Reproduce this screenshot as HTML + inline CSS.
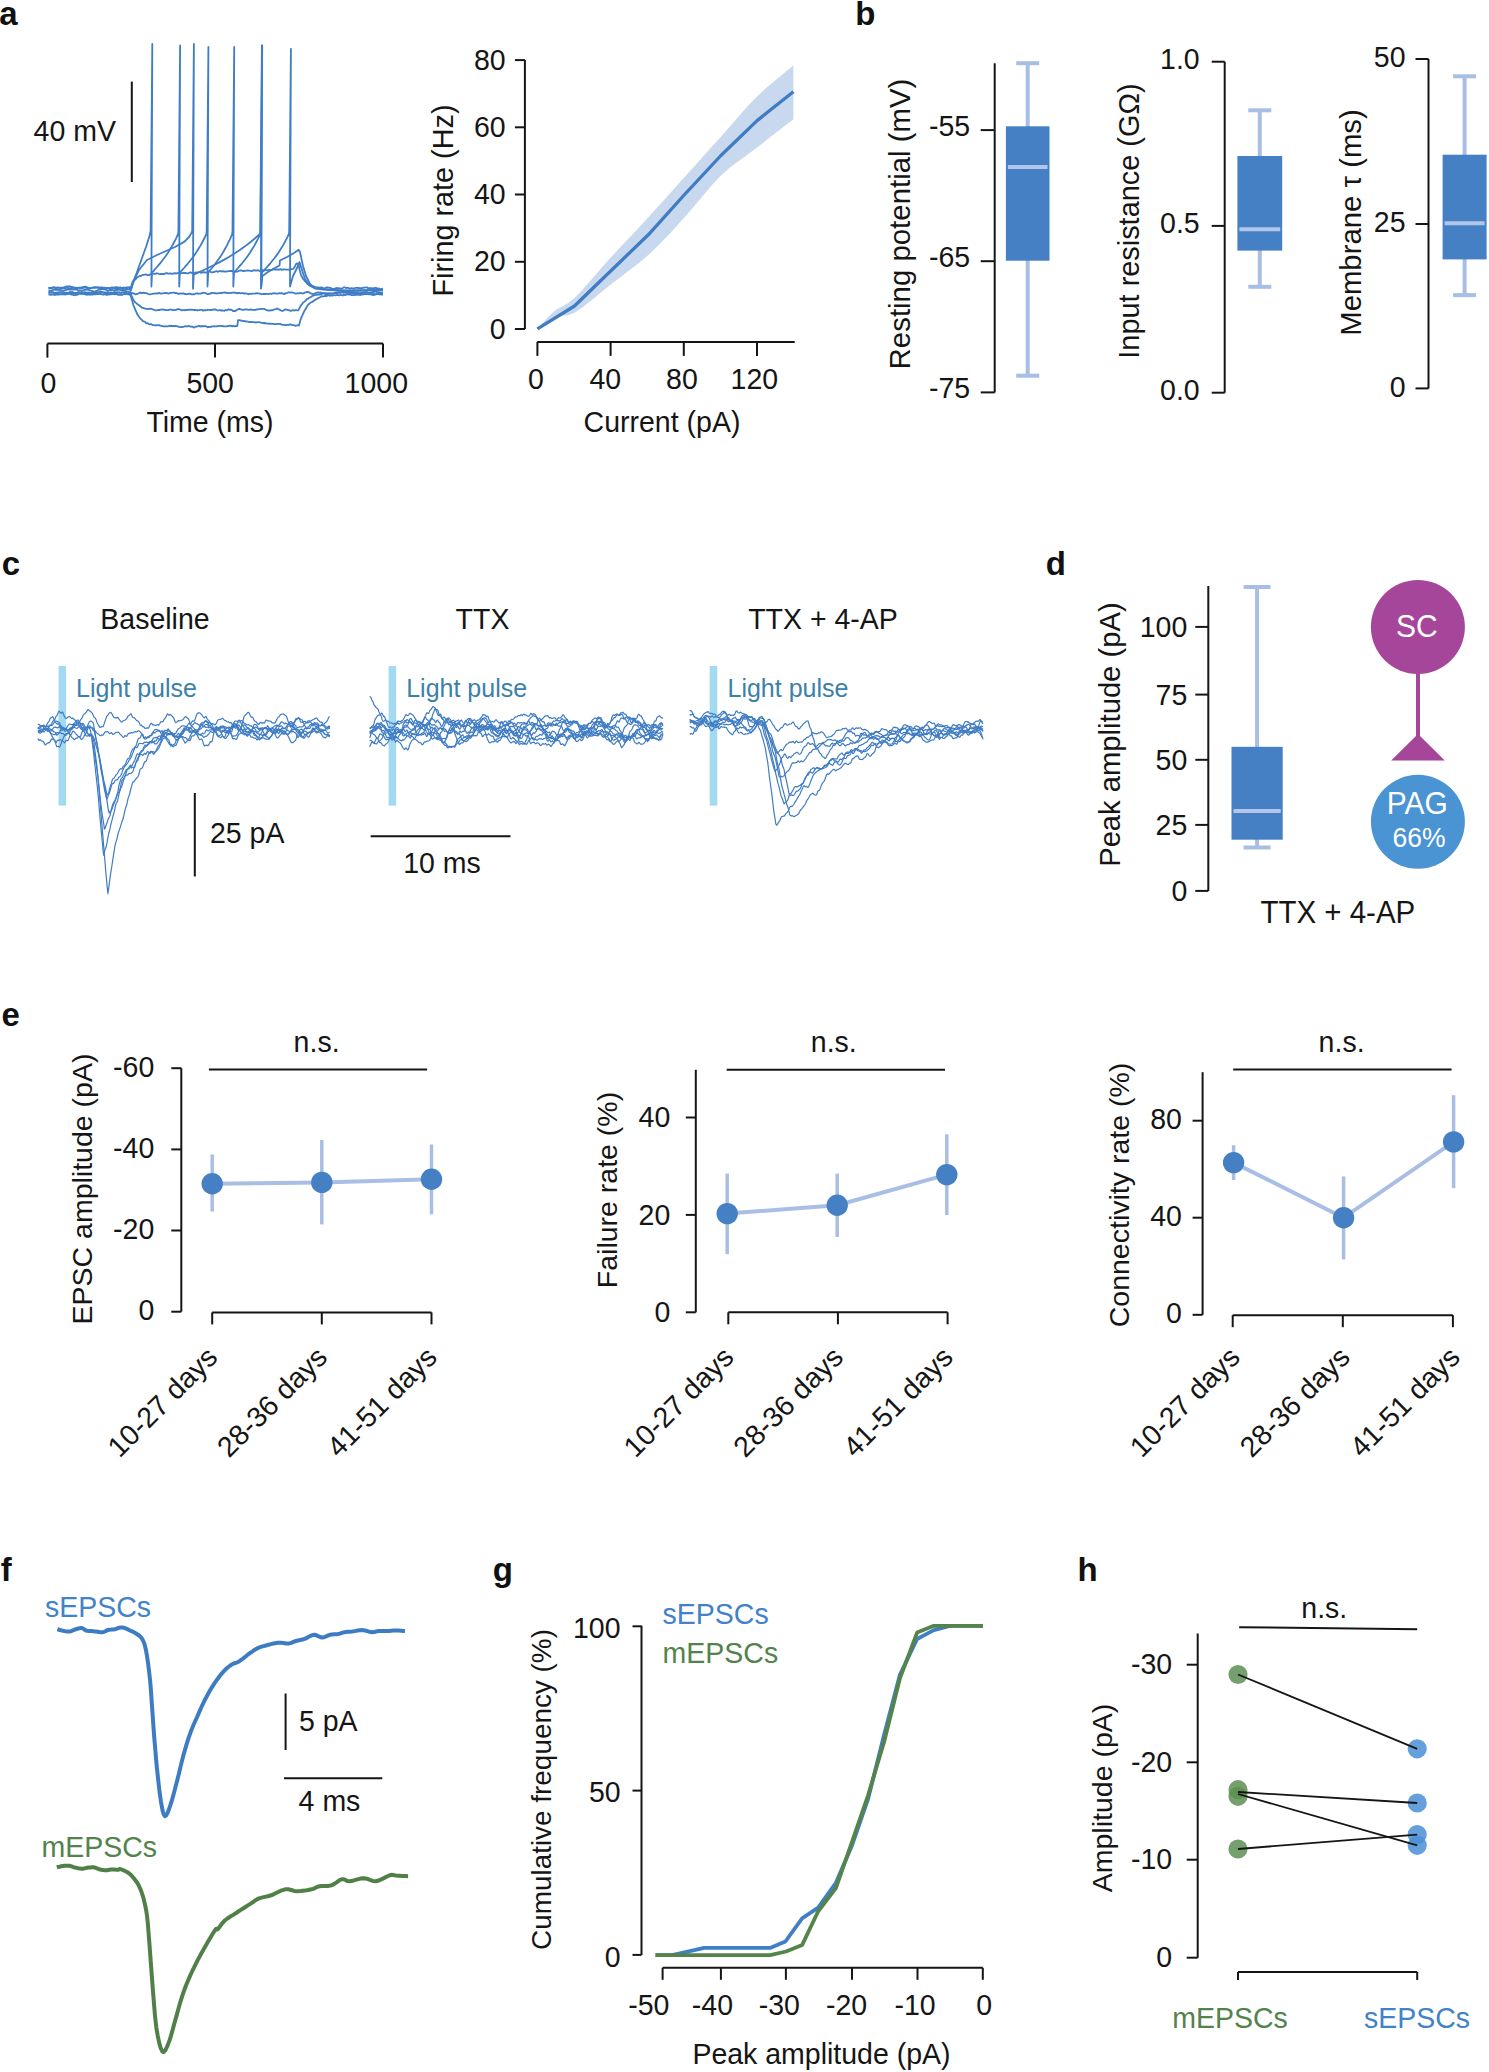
<!DOCTYPE html>
<html><head><meta charset="utf-8"><style>
html,body{margin:0;padding:0;background:#fff;}
svg{display:block;}
text{font-family:"Liberation Sans", sans-serif;}
</style></head><body>
<svg width="1489" height="2072" viewBox="0 0 1489 2072">
<rect width="1489" height="2072" fill="#fff"/>
<text x="-0.7" y="24.6" font-size="33" text-anchor="start" fill="#111" font-weight="bold" >a</text>
<text x="855.2" y="24.7" font-size="33" text-anchor="start" fill="#111" font-weight="bold" >b</text>
<text x="1.8" y="575.4" font-size="33" text-anchor="start" fill="#111" font-weight="bold" >c</text>
<text x="1045.8" y="575.4" font-size="33" text-anchor="start" fill="#111" font-weight="bold" >d</text>
<text x="1.4" y="1026.3" font-size="33" text-anchor="start" fill="#111" font-weight="bold" >e</text>
<text x="0.7" y="1581.4" font-size="33" text-anchor="start" fill="#111" font-weight="bold" >f</text>
<text x="492.8" y="1581.3" font-size="33" text-anchor="start" fill="#111" font-weight="bold" >g</text>
<text x="1077.5" y="1581.4" font-size="33" text-anchor="start" fill="#111" font-weight="bold" >h</text>
<path d="M47.4,343.6 L383,343.6" stroke="#151515" stroke-width="2" fill="none" stroke-linejoin="round" />
<line x1="47.4" y1="343.6" x2="47.4" y2="357.6" stroke="#151515" stroke-width="2" stroke-linecap="butt" />
<line x1="215" y1="343.6" x2="215" y2="357.6" stroke="#151515" stroke-width="2" stroke-linecap="butt" />
<line x1="383" y1="343.6" x2="383" y2="357.6" stroke="#151515" stroke-width="2" stroke-linecap="butt" />
<text x="40.5" y="392.5" font-size="28.5" text-anchor="start" fill="#151515" font-weight="normal" transform="translate(0 -19.6) scale(1 1.05)" >0</text>
<text x="186.4" y="392.5" font-size="28.5" text-anchor="start" fill="#151515" font-weight="normal" transform="translate(0 -19.6) scale(1 1.05)" >500</text>
<text x="344.6" y="392.5" font-size="28.5" text-anchor="start" fill="#151515" font-weight="normal" transform="translate(0 -19.6) scale(1 1.05)" >1000</text>
<text x="210" y="432" font-size="28.5" text-anchor="middle" fill="#151515" font-weight="normal" transform="translate(0 -21.6) scale(1 1.05)" >Time (ms)</text>
<line x1="131.8" y1="81.6" x2="131.8" y2="182" stroke="#151515" stroke-width="2" stroke-linecap="butt" />
<text x="116" y="141" font-size="28.5" text-anchor="end" fill="#151515" font-weight="normal" transform="translate(0 -7.1) scale(1 1.05)" >40 mV</text>
<path d="M524.9,60.1 L524.9,329" stroke="#151515" stroke-width="2" fill="none" stroke-linejoin="round" />
<line x1="514.9" y1="60.1" x2="524.9" y2="60.1" stroke="#151515" stroke-width="2" stroke-linecap="butt" />
<text x="505.6" y="69.7" font-size="28.5" text-anchor="end" fill="#151515" font-weight="normal" transform="translate(0 -3.5) scale(1 1.05)" >80</text>
<line x1="514.9" y1="127.3" x2="524.9" y2="127.3" stroke="#151515" stroke-width="2" stroke-linecap="butt" />
<text x="505.6" y="136.9" font-size="28.5" text-anchor="end" fill="#151515" font-weight="normal" transform="translate(0 -6.8) scale(1 1.05)" >60</text>
<line x1="514.9" y1="194.5" x2="524.9" y2="194.5" stroke="#151515" stroke-width="2" stroke-linecap="butt" />
<text x="505.6" y="204.1" font-size="28.5" text-anchor="end" fill="#151515" font-weight="normal" transform="translate(0 -10.2) scale(1 1.05)" >40</text>
<line x1="514.9" y1="261.8" x2="524.9" y2="261.8" stroke="#151515" stroke-width="2" stroke-linecap="butt" />
<text x="505.6" y="271.4" font-size="28.5" text-anchor="end" fill="#151515" font-weight="normal" transform="translate(0 -13.6) scale(1 1.05)" >20</text>
<line x1="514.9" y1="329" x2="524.9" y2="329" stroke="#151515" stroke-width="2" stroke-linecap="butt" />
<text x="505.6" y="338.6" font-size="28.5" text-anchor="end" fill="#151515" font-weight="normal" transform="translate(0 -16.9) scale(1 1.05)" >0</text>
<path d="M537.2,341.9 L794.7,341.9" stroke="#151515" stroke-width="2" fill="none" stroke-linejoin="round" />
<line x1="537.4" y1="341.9" x2="537.4" y2="355.9" stroke="#151515" stroke-width="2" stroke-linecap="butt" />
<line x1="610.6" y1="341.9" x2="610.6" y2="355.9" stroke="#151515" stroke-width="2" stroke-linecap="butt" />
<line x1="683.8" y1="341.9" x2="683.8" y2="355.9" stroke="#151515" stroke-width="2" stroke-linecap="butt" />
<line x1="757" y1="341.9" x2="757" y2="355.9" stroke="#151515" stroke-width="2" stroke-linecap="butt" />
<text x="527.9" y="389.5" font-size="28.5" text-anchor="start" fill="#151515" font-weight="normal" transform="translate(0 -19.5) scale(1 1.05)" >0</text>
<text x="589.4" y="389.5" font-size="28.5" text-anchor="start" fill="#151515" font-weight="normal" transform="translate(0 -19.5) scale(1 1.05)" >40</text>
<text x="666.1" y="389.5" font-size="28.5" text-anchor="start" fill="#151515" font-weight="normal" transform="translate(0 -19.5) scale(1 1.05)" >80</text>
<text x="730.6" y="389.5" font-size="28.5" text-anchor="start" fill="#151515" font-weight="normal" transform="translate(0 -19.5) scale(1 1.05)" >120</text>
<text x="662" y="432.3" font-size="28.5" text-anchor="middle" fill="#151515" font-weight="normal" transform="translate(0 -21.6) scale(1 1.05)" >Current (pA)</text>
<text x="452.5" y="200.5" font-size="28.8" text-anchor="middle" fill="#151515" font-weight="normal" transform="rotate(-90 452.5 200.5)" >Firing rate (Hz)</text>
<path d="M994.7,63.2 L994.7,392.4" stroke="#151515" stroke-width="2" fill="none" stroke-linejoin="round" />
<line x1="980.7" y1="130.1" x2="994.7" y2="130.1" stroke="#151515" stroke-width="2" stroke-linecap="butt" />
<text x="970.2" y="135.9" font-size="28.5" text-anchor="end" fill="#151515" font-weight="normal" transform="translate(0 -6.8) scale(1 1.05)" >-55</text>
<line x1="980.7" y1="261.2" x2="994.7" y2="261.2" stroke="#151515" stroke-width="2" stroke-linecap="butt" />
<text x="970.2" y="267" font-size="28.5" text-anchor="end" fill="#151515" font-weight="normal" transform="translate(0 -13.4) scale(1 1.05)" >-65</text>
<line x1="980.7" y1="392.4" x2="994.7" y2="392.4" stroke="#151515" stroke-width="2" stroke-linecap="butt" />
<text x="970.2" y="398.2" font-size="28.5" text-anchor="end" fill="#151515" font-weight="normal" transform="translate(0 -19.9) scale(1 1.05)" >-75</text>
<line x1="1027.7" y1="63.2" x2="1027.7" y2="375.7" stroke="#a9bee4" stroke-width="4" stroke-linecap="butt" />
<line x1="1016.2" y1="63.2" x2="1039.2" y2="63.2" stroke="#a9bee4" stroke-width="4" stroke-linecap="butt" />
<line x1="1016.2" y1="375.7" x2="1039.2" y2="375.7" stroke="#a9bee4" stroke-width="4" stroke-linecap="butt" />
<rect x="1005.9" y="126.3" width="43.6" height="134.4" fill="#4580c4"/>
<line x1="1007.9" y1="167.1" x2="1047.5" y2="167.1" stroke="#b3c6ea" stroke-width="4" stroke-linecap="butt" />
<text x="910" y="224" font-size="29.4" text-anchor="middle" fill="#151515" font-weight="normal" transform="rotate(-90 910 224)" >Resting potential (mV)</text>
<path d="M1224.7,61.7 L1224.7,392.7" stroke="#151515" stroke-width="2" fill="none" stroke-linejoin="round" />
<line x1="1211.7" y1="61.7" x2="1224.7" y2="61.7" stroke="#151515" stroke-width="2" stroke-linecap="butt" />
<text x="1199.7" y="69" font-size="28.5" text-anchor="end" fill="#151515" font-weight="normal" transform="translate(0 -3.5) scale(1 1.05)" >1.0</text>
<line x1="1211.7" y1="225.9" x2="1224.7" y2="225.9" stroke="#151515" stroke-width="2" stroke-linecap="butt" />
<text x="1199.7" y="233.2" font-size="28.5" text-anchor="end" fill="#151515" font-weight="normal" transform="translate(0 -11.7) scale(1 1.05)" >0.5</text>
<line x1="1211.7" y1="392.7" x2="1224.7" y2="392.7" stroke="#151515" stroke-width="2" stroke-linecap="butt" />
<text x="1199.7" y="400" font-size="28.5" text-anchor="end" fill="#151515" font-weight="normal" transform="translate(0 -20) scale(1 1.05)" >0.0</text>
<line x1="1259.8" y1="110.3" x2="1259.8" y2="286.8" stroke="#a9bee4" stroke-width="4" stroke-linecap="butt" />
<line x1="1248.3" y1="110.3" x2="1271.3" y2="110.3" stroke="#a9bee4" stroke-width="4" stroke-linecap="butt" />
<line x1="1248.3" y1="286.8" x2="1271.3" y2="286.8" stroke="#a9bee4" stroke-width="4" stroke-linecap="butt" />
<rect x="1237.4" y="156" width="44.8" height="94.6" fill="#4580c4"/>
<line x1="1239.4" y1="229.3" x2="1280.2" y2="229.3" stroke="#b3c6ea" stroke-width="4" stroke-linecap="butt" />
<text x="1139" y="221" font-size="28.9" text-anchor="middle" fill="#151515" font-weight="normal" transform="rotate(-90 1139 221)" >Input resistance (G&#937;)</text>
<path d="M1428.5,59 L1428.5,388.4" stroke="#151515" stroke-width="2" fill="none" stroke-linejoin="round" />
<line x1="1415.5" y1="59" x2="1428.5" y2="59" stroke="#151515" stroke-width="2" stroke-linecap="butt" />
<text x="1405.5" y="67.3" font-size="28.5" text-anchor="end" fill="#151515" font-weight="normal" transform="translate(0 -3.4) scale(1 1.05)" >50</text>
<line x1="1415.5" y1="224" x2="1428.5" y2="224" stroke="#151515" stroke-width="2" stroke-linecap="butt" />
<text x="1405.5" y="232.3" font-size="28.5" text-anchor="end" fill="#151515" font-weight="normal" transform="translate(0 -11.6) scale(1 1.05)" >25</text>
<line x1="1415.5" y1="388.4" x2="1428.5" y2="388.4" stroke="#151515" stroke-width="2" stroke-linecap="butt" />
<text x="1405.5" y="396.7" font-size="28.5" text-anchor="end" fill="#151515" font-weight="normal" transform="translate(0 -19.8) scale(1 1.05)" >0</text>
<line x1="1464.6" y1="76.3" x2="1464.6" y2="295.1" stroke="#a9bee4" stroke-width="4" stroke-linecap="butt" />
<line x1="1453.1" y1="76.3" x2="1476.1" y2="76.3" stroke="#a9bee4" stroke-width="4" stroke-linecap="butt" />
<line x1="1453.1" y1="295.1" x2="1476.1" y2="295.1" stroke="#a9bee4" stroke-width="4" stroke-linecap="butt" />
<rect x="1442.6" y="154.7" width="44" height="104.7" fill="#4580c4"/>
<line x1="1444.6" y1="223.2" x2="1484.6" y2="223.2" stroke="#b3c6ea" stroke-width="4" stroke-linecap="butt" />
<text x="1361" y="222.5" font-size="29.3" text-anchor="middle" fill="#151515" font-weight="normal" transform="rotate(-90 1361 222.5)" >Membrane &#964; (ms)</text>
<text x="155" y="629" font-size="28.5" text-anchor="middle" fill="#151515" font-weight="normal" transform="translate(0 -31.5) scale(1 1.05)" >Baseline</text>
<text x="482.5" y="629" font-size="28.5" text-anchor="middle" fill="#151515" font-weight="normal" transform="translate(0 -31.5) scale(1 1.05)" >TTX</text>
<text x="823" y="629" font-size="28.5" text-anchor="middle" fill="#151515" font-weight="normal" transform="translate(0 -31.5) scale(1 1.05)" >TTX + 4-AP</text>
<rect x="58.5" y="666" width="7.6" height="139.6" fill="#a4d9f2"/>
<text x="76" y="697" font-size="25" text-anchor="start" fill="#3b80a8" font-weight="normal" transform="translate(0 -34.9) scale(1 1.05)" >Light pulse</text>
<rect x="388.6" y="666" width="7.6" height="139.6" fill="#a4d9f2"/>
<text x="406.2" y="697" font-size="25" text-anchor="start" fill="#3b80a8" font-weight="normal" transform="translate(0 -34.9) scale(1 1.05)" >Light pulse</text>
<rect x="709.7" y="666" width="7.6" height="139.6" fill="#a4d9f2"/>
<text x="727.5" y="697" font-size="25" text-anchor="start" fill="#3b80a8" font-weight="normal" transform="translate(0 -34.9) scale(1 1.05)" >Light pulse</text>
<line x1="194.8" y1="793" x2="194.8" y2="876.5" stroke="#151515" stroke-width="2" stroke-linecap="butt" />
<text x="210" y="842.5" font-size="28.5" text-anchor="start" fill="#151515" font-weight="normal" transform="translate(0 -42.1) scale(1 1.05)" >25 pA</text>
<line x1="370.7" y1="836.3" x2="510.5" y2="836.3" stroke="#151515" stroke-width="2" stroke-linecap="butt" />
<text x="442" y="873.4" font-size="28.5" text-anchor="middle" fill="#151515" font-weight="normal" transform="translate(0 -43.7) scale(1 1.05)" >10 ms</text>
<path d="M1208.3,586.1 L1208.3,890.9" stroke="#151515" stroke-width="2" fill="none" stroke-linejoin="round" />
<line x1="1195.3" y1="626.9" x2="1208.3" y2="626.9" stroke="#151515" stroke-width="2" stroke-linecap="butt" />
<text x="1187.3" y="636.8" font-size="28.5" text-anchor="end" fill="#151515" font-weight="normal" transform="translate(0 -31.8) scale(1 1.05)" >100</text>
<line x1="1195.3" y1="694.6" x2="1208.3" y2="694.6" stroke="#151515" stroke-width="2" stroke-linecap="butt" />
<text x="1187.3" y="704.5" font-size="28.5" text-anchor="end" fill="#151515" font-weight="normal" transform="translate(0 -35.2) scale(1 1.05)" >75</text>
<line x1="1195.3" y1="759.8" x2="1208.3" y2="759.8" stroke="#151515" stroke-width="2" stroke-linecap="butt" />
<text x="1187.3" y="769.7" font-size="28.5" text-anchor="end" fill="#151515" font-weight="normal" transform="translate(0 -38.5) scale(1 1.05)" >50</text>
<line x1="1195.3" y1="824.9" x2="1208.3" y2="824.9" stroke="#151515" stroke-width="2" stroke-linecap="butt" />
<text x="1187.3" y="834.8" font-size="28.5" text-anchor="end" fill="#151515" font-weight="normal" transform="translate(0 -41.7) scale(1 1.05)" >25</text>
<line x1="1195.3" y1="890.9" x2="1208.3" y2="890.9" stroke="#151515" stroke-width="2" stroke-linecap="butt" />
<text x="1187.3" y="900.8" font-size="28.5" text-anchor="end" fill="#151515" font-weight="normal" transform="translate(0 -45) scale(1 1.05)" >0</text>
<line x1="1257.1" y1="587" x2="1257.1" y2="847.5" stroke="#a9bee4" stroke-width="4" stroke-linecap="butt" />
<line x1="1243.6" y1="587" x2="1270.6" y2="587" stroke="#a9bee4" stroke-width="4" stroke-linecap="butt" />
<line x1="1243.6" y1="847.5" x2="1270.6" y2="847.5" stroke="#a9bee4" stroke-width="4" stroke-linecap="butt" />
<rect x="1231.5" y="746.8" width="51.2" height="92.9" fill="#4580c4"/>
<line x1="1233.5" y1="811" x2="1280.7" y2="811" stroke="#b3c6ea" stroke-width="4" stroke-linecap="butt" />
<text x="1260.4" y="923.3" font-size="29.5" text-anchor="start" fill="#151515" font-weight="normal" transform="translate(0 -46.2) scale(1 1.05)" >TTX + 4-AP</text>
<text x="1120" y="734.6" font-size="29.2" text-anchor="middle" fill="#151515" font-weight="normal" transform="rotate(-90 1120 734.6)" >Peak amplitude (pA)</text>
<line x1="1418" y1="660" x2="1418" y2="740" stroke="#a5469b" stroke-width="4" stroke-linecap="butt" />
<circle cx="1417.9" cy="627" r="47" fill="#a5469b" />
<path d="M1418,734 L1444.8,760.4 L1391.2,760.4 Z" stroke="none" stroke-width="0" fill="#a5469b" stroke-linejoin="round" />
<circle cx="1417.9" cy="821.8" r="47" fill="#4a94d3" />
<text x="1396.1" y="637" font-size="30" text-anchor="start" fill="#fff" font-weight="normal" transform="translate(0 -31.9) scale(1 1.05)" >SC</text>
<text x="1386.8" y="814" font-size="30" text-anchor="start" fill="#fff" font-weight="normal" transform="translate(0 -40.7) scale(1 1.05)" >PAG</text>
<text x="1392.5" y="846.6" font-size="26.5" text-anchor="start" fill="#fff" font-weight="normal" transform="translate(0 -42.3) scale(1 1.05)" >66%</text>
<path d="M181.3,1068.2 L181.3,1311.7" stroke="#151515" stroke-width="2" fill="none" stroke-linejoin="round" />
<line x1="171.3" y1="1068.2" x2="181.3" y2="1068.2" stroke="#151515" stroke-width="2" stroke-linecap="butt" />
<text x="154.3" y="1076.8" font-size="28.5" text-anchor="end" fill="#151515" font-weight="normal" transform="translate(0 -53.8) scale(1 1.05)" >-60</text>
<line x1="171.3" y1="1149.4" x2="181.3" y2="1149.4" stroke="#151515" stroke-width="2" stroke-linecap="butt" />
<text x="154.3" y="1158" font-size="28.5" text-anchor="end" fill="#151515" font-weight="normal" transform="translate(0 -57.9) scale(1 1.05)" >-40</text>
<line x1="171.3" y1="1230.5" x2="181.3" y2="1230.5" stroke="#151515" stroke-width="2" stroke-linecap="butt" />
<text x="154.3" y="1239.1" font-size="28.5" text-anchor="end" fill="#151515" font-weight="normal" transform="translate(0 -62) scale(1 1.05)" >-20</text>
<line x1="171.3" y1="1311.7" x2="181.3" y2="1311.7" stroke="#151515" stroke-width="2" stroke-linecap="butt" />
<text x="154.3" y="1320.3" font-size="28.5" text-anchor="end" fill="#151515" font-weight="normal" transform="translate(0 -66) scale(1 1.05)" >0</text>
<path d="M212.2,1312.4 L431.5,1312.4" stroke="#151515" stroke-width="2" fill="none" stroke-linejoin="round" />
<line x1="212.2" y1="1312.4" x2="212.2" y2="1324.4" stroke="#151515" stroke-width="2" stroke-linecap="butt" />
<line x1="321.8" y1="1312.4" x2="321.8" y2="1324.4" stroke="#151515" stroke-width="2" stroke-linecap="butt" />
<line x1="431.5" y1="1312.4" x2="431.5" y2="1324.4" stroke="#151515" stroke-width="2" stroke-linecap="butt" />
<line x1="208.9" y1="1069.6" x2="427.1" y2="1069.6" stroke="#151515" stroke-width="2" stroke-linecap="butt" />
<text x="316.6" y="1052" font-size="28.5" text-anchor="middle" fill="#151515" font-weight="normal" transform="translate(0 -52.6) scale(1 1.05)" >n.s.</text>
<path d="M212.2,1183.8 L321.8,1182.4 L431.5,1179.2" stroke="#a9bee4" stroke-width="4" fill="none" stroke-linejoin="round" />
<line x1="212.2" y1="1154.5" x2="212.2" y2="1211.6" stroke="#a9bee4" stroke-width="3.5" stroke-linecap="butt" />
<line x1="321.8" y1="1140" x2="321.8" y2="1224.4" stroke="#a9bee4" stroke-width="3.5" stroke-linecap="butt" />
<line x1="431.5" y1="1144.5" x2="431.5" y2="1214.3" stroke="#a9bee4" stroke-width="3.5" stroke-linecap="butt" />
<circle cx="212.2" cy="1183.8" r="10.7" fill="#4580c4" />
<circle cx="321.8" cy="1182.4" r="10.7" fill="#4580c4" />
<circle cx="431.5" cy="1179.2" r="10.7" fill="#4580c4" />
<text x="91.5" y="1189" font-size="28.5" text-anchor="middle" fill="#151515" font-weight="normal" transform="rotate(-90 91.5 1189)" >EPSC amplitude (pA)</text>
<text x="219.2" y="1359" font-size="28.5" text-anchor="end" fill="#151515" font-weight="normal" transform="rotate(-45 219.2 1359)" >10-27 days</text>
<text x="328.8" y="1359" font-size="28.5" text-anchor="end" fill="#151515" font-weight="normal" transform="rotate(-45 328.8 1359)" >28-36 days</text>
<text x="438.5" y="1359" font-size="28.5" text-anchor="end" fill="#151515" font-weight="normal" transform="rotate(-45 438.5 1359)" >41-51 days</text>
<path d="M695.8,1069.8 L695.8,1312.3" stroke="#151515" stroke-width="2" fill="none" stroke-linejoin="round" />
<line x1="685.8" y1="1117.5" x2="695.8" y2="1117.5" stroke="#151515" stroke-width="2" stroke-linecap="butt" />
<text x="670.3" y="1127.1" font-size="28.5" text-anchor="end" fill="#151515" font-weight="normal" transform="translate(0 -56.4) scale(1 1.05)" >40</text>
<line x1="685.8" y1="1214.9" x2="695.8" y2="1214.9" stroke="#151515" stroke-width="2" stroke-linecap="butt" />
<text x="670.3" y="1224.5" font-size="28.5" text-anchor="end" fill="#151515" font-weight="normal" transform="translate(0 -61.2) scale(1 1.05)" >20</text>
<line x1="685.8" y1="1312.3" x2="695.8" y2="1312.3" stroke="#151515" stroke-width="2" stroke-linecap="butt" />
<text x="670.3" y="1321.9" font-size="28.5" text-anchor="end" fill="#151515" font-weight="normal" transform="translate(0 -66.1) scale(1 1.05)" >0</text>
<path d="M728.3,1312.3 L947.6,1312.3" stroke="#151515" stroke-width="2" fill="none" stroke-linejoin="round" />
<line x1="728.3" y1="1312.3" x2="728.3" y2="1324.3" stroke="#151515" stroke-width="2" stroke-linecap="butt" />
<line x1="837.9" y1="1312.3" x2="837.9" y2="1324.3" stroke="#151515" stroke-width="2" stroke-linecap="butt" />
<line x1="947.6" y1="1312.3" x2="947.6" y2="1324.3" stroke="#151515" stroke-width="2" stroke-linecap="butt" />
<line x1="726.7" y1="1069.8" x2="945" y2="1069.8" stroke="#151515" stroke-width="2" stroke-linecap="butt" />
<text x="833.8" y="1052" font-size="28.5" text-anchor="middle" fill="#151515" font-weight="normal" transform="translate(0 -52.6) scale(1 1.05)" >n.s.</text>
<path d="M727.2,1213.6 L837.2,1205.2 L946.8,1174.6" stroke="#a9bee4" stroke-width="4" fill="none" stroke-linejoin="round" />
<line x1="727.2" y1="1173.6" x2="727.2" y2="1254.2" stroke="#a9bee4" stroke-width="3.5" stroke-linecap="butt" />
<line x1="837.2" y1="1173.6" x2="837.2" y2="1237" stroke="#a9bee4" stroke-width="3.5" stroke-linecap="butt" />
<line x1="946.8" y1="1134.3" x2="946.8" y2="1215" stroke="#a9bee4" stroke-width="3.5" stroke-linecap="butt" />
<circle cx="727.2" cy="1213.6" r="10.7" fill="#4580c4" />
<circle cx="837.2" cy="1205.2" r="10.7" fill="#4580c4" />
<circle cx="946.8" cy="1174.6" r="10.7" fill="#4580c4" />
<text x="617" y="1190" font-size="28.5" text-anchor="middle" fill="#151515" font-weight="normal" transform="rotate(-90 617 1190)" >Failure rate (%)</text>
<text x="735.3" y="1359" font-size="28.5" text-anchor="end" fill="#151515" font-weight="normal" transform="rotate(-45 735.3 1359)" >10-27 days</text>
<text x="844.9" y="1359" font-size="28.5" text-anchor="end" fill="#151515" font-weight="normal" transform="rotate(-45 844.9 1359)" >28-36 days</text>
<text x="954.6" y="1359" font-size="28.5" text-anchor="end" fill="#151515" font-weight="normal" transform="rotate(-45 954.6 1359)" >41-51 days</text>
<path d="M1202.6,1072.2 L1202.6,1314.8" stroke="#151515" stroke-width="2" fill="none" stroke-linejoin="round" />
<line x1="1192.6" y1="1120.7" x2="1202.6" y2="1120.7" stroke="#151515" stroke-width="2" stroke-linecap="butt" />
<text x="1181.9" y="1129.3" font-size="28.5" text-anchor="end" fill="#151515" font-weight="normal" transform="translate(0 -56.5) scale(1 1.05)" >80</text>
<line x1="1192.6" y1="1217.7" x2="1202.6" y2="1217.7" stroke="#151515" stroke-width="2" stroke-linecap="butt" />
<text x="1181.9" y="1226.3" font-size="28.5" text-anchor="end" fill="#151515" font-weight="normal" transform="translate(0 -61.3) scale(1 1.05)" >40</text>
<line x1="1192.6" y1="1314.8" x2="1202.6" y2="1314.8" stroke="#151515" stroke-width="2" stroke-linecap="butt" />
<text x="1181.9" y="1323.4" font-size="28.5" text-anchor="end" fill="#151515" font-weight="normal" transform="translate(0 -66.2) scale(1 1.05)" >0</text>
<path d="M1232.7,1315.2 L1452.9,1315.2" stroke="#151515" stroke-width="2" fill="none" stroke-linejoin="round" />
<line x1="1232.7" y1="1315.2" x2="1232.7" y2="1327.2" stroke="#151515" stroke-width="2" stroke-linecap="butt" />
<line x1="1342.8" y1="1315.2" x2="1342.8" y2="1327.2" stroke="#151515" stroke-width="2" stroke-linecap="butt" />
<line x1="1452.9" y1="1315.2" x2="1452.9" y2="1327.2" stroke="#151515" stroke-width="2" stroke-linecap="butt" />
<line x1="1233.2" y1="1069.6" x2="1451.6" y2="1069.6" stroke="#151515" stroke-width="2" stroke-linecap="butt" />
<text x="1341.6" y="1051.6" font-size="28.5" text-anchor="middle" fill="#151515" font-weight="normal" transform="translate(0 -52.6) scale(1 1.05)" >n.s.</text>
<path d="M1233.6,1162.6 L1343.6,1217.7 L1453.6,1141.9" stroke="#a9bee4" stroke-width="4" fill="none" stroke-linejoin="round" />
<line x1="1233.6" y1="1145.2" x2="1233.6" y2="1180" stroke="#a9bee4" stroke-width="3.5" stroke-linecap="butt" />
<line x1="1343.6" y1="1176.4" x2="1343.6" y2="1259.4" stroke="#a9bee4" stroke-width="3.5" stroke-linecap="butt" />
<line x1="1453.6" y1="1095.2" x2="1453.6" y2="1188.2" stroke="#a9bee4" stroke-width="3.5" stroke-linecap="butt" />
<circle cx="1233.6" cy="1162.6" r="10.7" fill="#4580c4" />
<circle cx="1343.6" cy="1217.7" r="10.7" fill="#4580c4" />
<circle cx="1453.6" cy="1141.9" r="10.7" fill="#4580c4" />
<text x="1128.5" y="1195" font-size="28.5" text-anchor="middle" fill="#151515" font-weight="normal" transform="rotate(-90 1128.5 1195)" >Connectivity rate (%)</text>
<text x="1241.5" y="1359" font-size="28.5" text-anchor="end" fill="#151515" font-weight="normal" transform="rotate(-45 1241.5 1359)" >10-27 days</text>
<text x="1351.5" y="1359" font-size="28.5" text-anchor="end" fill="#151515" font-weight="normal" transform="rotate(-45 1351.5 1359)" >28-36 days</text>
<text x="1461.5" y="1359" font-size="28.5" text-anchor="end" fill="#151515" font-weight="normal" transform="rotate(-45 1461.5 1359)" >41-51 days</text>
<text x="45" y="1616.5" font-size="28.5" text-anchor="start" fill="#4282c8" font-weight="normal" transform="translate(0 -80.8) scale(1 1.05)" >sEPSCs</text>
<text x="41.5" y="1856.7" font-size="28.5" text-anchor="start" fill="#52834a" font-weight="normal" transform="translate(0 -92.8) scale(1 1.05)" >mEPSCs</text>
<line x1="285.6" y1="1693.5" x2="285.6" y2="1750" stroke="#151515" stroke-width="2" stroke-linecap="butt" />
<text x="299" y="1730.7" font-size="28.5" text-anchor="start" fill="#151515" font-weight="normal" transform="translate(0 -86.5) scale(1 1.05)" >5 pA</text>
<line x1="284" y1="1778.2" x2="382.3" y2="1778.2" stroke="#151515" stroke-width="2" stroke-linecap="butt" />
<text x="329.5" y="1810.5" font-size="28.5" text-anchor="middle" fill="#151515" font-weight="normal" transform="translate(0 -90.5) scale(1 1.05)" >4 ms</text>
<path d="M641.5,1625.8 L641.5,1955.1" stroke="#151515" stroke-width="2" fill="none" stroke-linejoin="round" />
<line x1="632.5" y1="1626.3" x2="641.5" y2="1626.3" stroke="#151515" stroke-width="2" stroke-linecap="butt" />
<line x1="632.5" y1="1790.6" x2="641.5" y2="1790.6" stroke="#151515" stroke-width="2" stroke-linecap="butt" />
<line x1="632.5" y1="1954.9" x2="641.5" y2="1954.9" stroke="#151515" stroke-width="2" stroke-linecap="butt" />
<text x="573" y="1638.1" font-size="28.5" text-anchor="start" fill="#151515" font-weight="normal" transform="translate(0 -81.9) scale(1 1.05)" >100</text>
<text x="589" y="1802.4" font-size="28.5" text-anchor="start" fill="#151515" font-weight="normal" transform="translate(0 -90.1) scale(1 1.05)" >50</text>
<text x="604.8" y="1966.7" font-size="28.5" text-anchor="start" fill="#151515" font-weight="normal" transform="translate(0 -98.3) scale(1 1.05)" >0</text>
<path d="M662.6,1967.8 L982.8,1967.8" stroke="#151515" stroke-width="2" fill="none" stroke-linejoin="round" />
<line x1="662.6" y1="1967.8" x2="662.6" y2="1979.8" stroke="#151515" stroke-width="2" stroke-linecap="butt" />
<line x1="720.9" y1="1967.8" x2="720.9" y2="1979.8" stroke="#151515" stroke-width="2" stroke-linecap="butt" />
<line x1="785.9" y1="1967.8" x2="785.9" y2="1979.8" stroke="#151515" stroke-width="2" stroke-linecap="butt" />
<line x1="852" y1="1967.8" x2="852" y2="1979.8" stroke="#151515" stroke-width="2" stroke-linecap="butt" />
<line x1="917.5" y1="1967.8" x2="917.5" y2="1979.8" stroke="#151515" stroke-width="2" stroke-linecap="butt" />
<line x1="982.8" y1="1967.8" x2="982.8" y2="1979.8" stroke="#151515" stroke-width="2" stroke-linecap="butt" />
<text x="628.2" y="2015.2" font-size="28.5" text-anchor="start" fill="#151515" font-weight="normal" transform="translate(0 -100.8) scale(1 1.05)" >-50</text>
<text x="691.8" y="2015.2" font-size="28.5" text-anchor="start" fill="#151515" font-weight="normal" transform="translate(0 -100.8) scale(1 1.05)" >-40</text>
<text x="758.7" y="2015.2" font-size="28.5" text-anchor="start" fill="#151515" font-weight="normal" transform="translate(0 -100.8) scale(1 1.05)" >-30</text>
<text x="825.9" y="2015.2" font-size="28.5" text-anchor="start" fill="#151515" font-weight="normal" transform="translate(0 -100.8) scale(1 1.05)" >-20</text>
<text x="894.4" y="2015.2" font-size="28.5" text-anchor="start" fill="#151515" font-weight="normal" transform="translate(0 -100.8) scale(1 1.05)" >-10</text>
<text x="976.3" y="2015.2" font-size="28.5" text-anchor="start" fill="#151515" font-weight="normal" transform="translate(0 -100.8) scale(1 1.05)" >0</text>
<text x="821.5" y="2064" font-size="28.5" text-anchor="middle" fill="#151515" font-weight="normal" transform="translate(0 -103.2) scale(1 1.05)" >Peak amplitude (pA)</text>
<text x="551" y="1789.5" font-size="27.9" text-anchor="middle" fill="#151515" font-weight="normal" transform="rotate(-90 551 1789.5)" >Cumulative frequency (%)</text>
<text x="662.6" y="1623.7" font-size="28.5" text-anchor="start" fill="#4282c8" font-weight="normal" transform="translate(0 -81.2) scale(1 1.05)" >sEPSCs</text>
<text x="662.6" y="1663.2" font-size="28.5" text-anchor="start" fill="#52834a" font-weight="normal" transform="translate(0 -83.2) scale(1 1.05)" >mEPSCs</text>
<path d="M1197.7,1633.5 L1197.7,1957.7" stroke="#151515" stroke-width="2" fill="none" stroke-linejoin="round" />
<line x1="1186.7" y1="1664.7" x2="1197.7" y2="1664.7" stroke="#151515" stroke-width="2" stroke-linecap="butt" />
<text x="1172.2" y="1674.3" font-size="28.5" text-anchor="end" fill="#151515" font-weight="normal" transform="translate(0 -83.7) scale(1 1.05)" >-30</text>
<line x1="1186.7" y1="1762.3" x2="1197.7" y2="1762.3" stroke="#151515" stroke-width="2" stroke-linecap="butt" />
<text x="1172.2" y="1771.9" font-size="28.5" text-anchor="end" fill="#151515" font-weight="normal" transform="translate(0 -88.6) scale(1 1.05)" >-20</text>
<line x1="1186.7" y1="1859.7" x2="1197.7" y2="1859.7" stroke="#151515" stroke-width="2" stroke-linecap="butt" />
<text x="1172.2" y="1869.3" font-size="28.5" text-anchor="end" fill="#151515" font-weight="normal" transform="translate(0 -93.5) scale(1 1.05)" >-10</text>
<line x1="1186.7" y1="1957.7" x2="1197.7" y2="1957.7" stroke="#151515" stroke-width="2" stroke-linecap="butt" />
<text x="1172.2" y="1967.3" font-size="28.5" text-anchor="end" fill="#151515" font-weight="normal" transform="translate(0 -98.4) scale(1 1.05)" >0</text>
<path d="M1238,1972 L1417.2,1972" stroke="#151515" stroke-width="2" fill="none" stroke-linejoin="round" />
<line x1="1238" y1="1972" x2="1238" y2="1980" stroke="#151515" stroke-width="2" stroke-linecap="butt" />
<line x1="1417.2" y1="1972" x2="1417.2" y2="1980" stroke="#151515" stroke-width="2" stroke-linecap="butt" />
<line x1="1239.2" y1="1627.2" x2="1417.2" y2="1629.2" stroke="#151515" stroke-width="2" stroke-linecap="butt" />
<text x="1324.3" y="1617.7" font-size="28.5" text-anchor="middle" fill="#151515" font-weight="normal" transform="translate(0 -80.9) scale(1 1.05)" >n.s.</text>
<text x="1112" y="1798" font-size="28.5" text-anchor="middle" fill="#151515" font-weight="normal" transform="rotate(-90 1112 1798)" >Amplitude (pA)</text>
<text x="1230" y="2028.3" font-size="28.5" text-anchor="middle" fill="#52834a" font-weight="normal" transform="translate(0 -101.4) scale(1 1.05)" >mEPSCs</text>
<text x="1417" y="2028.3" font-size="28.5" text-anchor="middle" fill="#4282c8" font-weight="normal" transform="translate(0 -101.4) scale(1 1.05)" >sEPSCs</text>
<circle cx="1238" cy="1674.5" r="9.6" fill="#5d8f55" fill-opacity="0.85"/>
<circle cx="1238" cy="1789.7" r="9.6" fill="#5d8f55" fill-opacity="0.85"/>
<circle cx="1238" cy="1796.3" r="9.6" fill="#5d8f55" fill-opacity="0.85"/>
<circle cx="1238" cy="1849" r="9.6" fill="#5d8f55" fill-opacity="0.85"/>
<circle cx="1417.2" cy="1748.8" r="9.6" fill="#4b8fd6" fill-opacity="0.85"/>
<circle cx="1417.2" cy="1803" r="9.6" fill="#4b8fd6" fill-opacity="0.85"/>
<circle cx="1417.2" cy="1834.6" r="9.6" fill="#4b8fd6" fill-opacity="0.85"/>
<circle cx="1417.2" cy="1845.3" r="9.6" fill="#4b8fd6" fill-opacity="0.85"/>
<line x1="1238" y1="1674.5" x2="1417.2" y2="1748.8" stroke="#151515" stroke-width="1.8" stroke-linecap="butt" />
<line x1="1238" y1="1792" x2="1417.2" y2="1803" stroke="#151515" stroke-width="1.8" stroke-linecap="butt" />
<line x1="1238" y1="1794" x2="1417.2" y2="1845.3" stroke="#151515" stroke-width="1.8" stroke-linecap="butt" />
<line x1="1238" y1="1849" x2="1417.2" y2="1834.6" stroke="#151515" stroke-width="1.8" stroke-linecap="butt" />
<path d="M537.4,328.8 L540.4,325.6 L544.6,320.9 L549.4,315.8 L554.3,311.3 L558.7,308.3 L563.2,306 L568.2,303 L574.5,297.9 L582.4,289.7 L591.5,279.4 L601.2,268.3 L610.7,257.6 L620,247.5 L629.5,237.5 L639,227.4 L648.3,217.3 L657.5,207.2 L666.5,197.2 L675.6,187.1 L684.6,177 L693.7,166.9 L702.8,156.8 L711.8,146.8 L720.9,136.7 L730,126.4 L739,116 L748,105.8 L757.1,96.4 L767,87.3 L777.5,78.4 L786.9,70.8 L793.4,65.5 L793.4,119.2 L786.9,124.3 L777.5,131.6 L767,139.8 L757.1,147.5 L748,154.2 L739,160.7 L730,167.6 L720.9,175.6 L711.8,185.2 L702.8,195.9 L693.7,206.8 L684.6,217.3 L675.6,227.2 L666.5,236.9 L657.5,246.2 L648.3,254.9 L639,262.9 L629.5,270.3 L620,277.4 L610.7,284.5 L601.2,292.2 L591.5,300.2 L582.4,307.4 L574.5,312.7 L568.2,315.2 L563.2,315.7 L558.7,315.7 L554.3,316.7 L549.4,319.4 L544.6,323 L540.4,326.4 L537.4,328.8" stroke="none" stroke-width="0" fill="#c8d8ef" stroke-linejoin="round" />
<path d="M537.4,328.8 L574.5,306 L610.7,271 L648.3,234.8 L684.6,194.5 L720.9,155.5 L757.1,120.6 L793.4,91.8" stroke="#3f7cc2" stroke-width="3.3" fill="none" stroke-linejoin="round" />
<path d="M655.5,1955.1 L672.2,1955.1 L704.2,1947.9 L770.1,1947.9 L785.4,1941.5 L802.1,1918.4 L818.2,1907.7 L835.9,1882.8 L852,1845.4 L868,1799.2 L884,1735.1 L900,1674.6 L917.1,1639 L933.8,1630.1 L949.9,1625.8 L983,1625.8" stroke="#3f7fc6" stroke-width="3.8" fill="none" stroke-linejoin="round" />
<path d="M655.5,1955.1 L770.1,1955.1 L786.1,1951.5 L802.1,1945.1 L818.2,1911.3 L835.9,1888.2 L852,1841.9 L868,1795.6 L884,1742.2 L900,1678.1 L917.1,1632.6 L933.8,1625.8 L983,1625.8" stroke="#548449" stroke-width="3.8" fill="none" stroke-linejoin="round" />
<path d="M48.5,294.8 L49.3,294.5 L50.1,294.7 L50.9,294.8 L51.7,294.6 L52.5,294.6 L53.3,294.6 L54.1,294.9 L54.9,294.7 L55.7,294.8 L56.5,294.7 L57.3,294.6 L58.1,294.4 L58.9,294.5 L59.7,294.5 L60.5,294.3 L61.3,294.3 L62.1,294.3 L62.9,294.4 L63.7,294.2 L64.5,294.4 L65.3,294.7 L66.1,294.3 L66.9,294 L67.7,294 L68.5,293.9 L69.3,293.7 L70.1,293.5 L70.9,294.5 L71.7,294.7 L72.5,294.6 L73.3,295.1 L74.1,295.2 L74.9,295.3 L75.7,294.8 L76.5,294.7 L77.3,294.8 L78.1,294.4 L78.9,294 L79.7,293.7 L80.5,293.8 L81.3,294 L82.1,293.9 L82.9,293.9 L83.7,294.2 L84.5,294.2 L85.3,294.3 L86.1,294.7 L86.9,294.8 L87.7,294.6 L88.5,294.7 L89.3,294.7 L90.1,294.8 L90.9,294.4 L91.7,294.5 L92.5,294.7 L93.3,294.3 L94.1,294.3 L94.9,294.2 L95.7,294.4 L96.5,294.1 L97.3,293.8 L98.1,294.1 L98.9,294.1 L99.7,294.1 L100.5,294.2 L101.3,294.1 L102.1,294.4 L102.9,294.6 L103.7,294.6 L104.5,294.4 L105.3,294.4 L106.1,294.8 L106.9,294.9 L107.7,294.6 L108.5,294.4 L109.3,294.5 L110.1,294.3 L110.9,294.4 L111.7,294.2 L112.5,294 L113.3,294 L114.1,294.2 L114.9,294.4 L115.7,294.2 L116.5,294.1 L117.3,294.5 L118.1,294.9 L118.9,294.9 L119.7,294.8 L120.5,294.9 L121.3,294.8 L122.1,295 L122.9,294.4 L123.7,294.2 L124.5,294.2 L125.3,293.9 L126.1,294 L126.9,293.7 L127.7,294.3 L128.5,294.3 L129.3,294.4 L130.1,295 L130.9,295.9 L131.7,299.2 L132.5,301.7 L133.3,304.8 L134.1,307 L134.9,308.7 L135.7,310.6 L136.5,312.4 L137.3,314.4 L138.1,315.4 L138.9,316.6 L139.7,317.7 L140.5,318.7 L141.3,319.4 L142.1,320.1 L142.9,321.1 L143.7,321.4 L144.5,321.6 L145.3,322.1 L146.1,323.2 L146.9,323.3 L147.7,323.1 L148.5,323.8 L149.3,324.4 L150.1,324.4 L150.9,324 L151.7,324.5 L152.5,324.9 L153.3,325 L154.1,325.2 L154.9,325.3 L155.7,325.4 L156.5,325.2 L157.3,325.4 L158.1,325.2 L158.9,325.1 L159.7,325.6 L160.5,325.7 L161.3,325.9 L162.1,326.1 L162.9,326.2 L163.7,326.5 L164.5,326.3 L165.3,326.4 L166.1,326.2 L166.9,326.3 L167.7,326.3 L168.5,326.1 L169.3,325.9 L170.1,325.7 L170.9,326.3 L171.7,325.9 L172.5,326.1 L173.3,325.9 L174.1,326.1 L174.9,326.3 L175.7,325.9 L176.5,326.1 L177.3,326.1 L178.1,326.7 L178.9,326.8 L179.7,327 L180.5,327.1 L181.3,327.1 L182.1,327 L182.9,326.9 L183.7,326.8 L184.5,326.4 L185.3,326.4 L186.1,326.2 L186.9,326.4 L187.7,326.3 L188.5,326 L189.3,326.1 L190.1,326.4 L190.9,326.8 L191.7,326.7 L192.5,326.6 L193.3,327.4 L194.1,327.5 L194.9,327 L195.7,326.7 L196.5,326.7 L197.3,326.6 L198.1,326 L198.9,325.8 L199.7,326.2 L200.5,326.6 L201.3,326 L202.1,326.3 L202.9,326 L203.7,326.3 L204.5,326.1 L205.3,326 L206.1,326.3 L206.9,326.7 L207.7,327.4 L208.5,327 L209.3,327 L210.1,326.8 L210.9,327 L211.7,326.4 L212.5,326.3 L213.3,326.4 L214.1,326.2 L214.9,326.5 L215.7,326.3 L216.5,326.5 L217.3,326.1 L218.1,326.2 L218.9,326 L219.7,325.9 L220.5,325.9 L221.3,325.9 L222.1,326.1 L222.9,326 L223.7,326.4 L224.5,326.4 L225.3,326.4 L226.1,326.4 L226.9,326.3 L227.7,326.1 L228.5,326 L229.3,325.9 L230.1,325.7 L230.9,325.9 L231.7,326.1 L232.5,326.3 L233.3,325.8 L234.1,326.1 L234.9,326.3 L235.7,326 L236.5,326 L237.3,326 L238.1,320.2 L238.9,320.2 L239.7,320.2 L240.5,320.7 L241.3,320.3 L242.1,320.9 L242.9,321.1 L243.7,320.9 L244.5,321.2 L245.3,321.2 L246.1,321.7 L246.9,321.3 L247.7,321.5 L248.5,322 L249.3,321.8 L250.1,322.1 L250.9,322 L251.7,322 L252.5,322.1 L253.3,322.2 L254.1,322.4 L254.9,322.2 L255.7,322.5 L256.5,322.4 L257.3,322.2 L258.1,322.2 L258.9,322.1 L259.7,322.3 L260.5,322.3 L261.3,322.9 L262.1,322.9 L262.9,322.9 L263.7,323.3 L264.5,322.8 L265.3,323.5 L266.1,323.3 L266.9,323.4 L267.7,323.7 L268.5,323.7 L269.3,323.9 L270.1,323.5 L270.9,323.8 L271.7,323.9 L272.5,323.8 L273.3,323.9 L274.1,324.1 L274.9,324.1 L275.7,324.1 L276.5,324.1 L277.3,323.9 L278.1,323.8 L278.9,323.8 L279.7,324 L280.5,324 L281.3,324.4 L282.1,324.7 L282.9,324.8 L283.7,324.9 L284.5,324.9 L285.3,325.2 L286.1,325 L286.9,324.9 L287.7,324.9 L288.5,325 L289.3,324.7 L290.1,324.4 L290.9,324.5 L291.7,324.9 L292.5,325 L293.3,325.2 L294.1,325.5 L294.9,325.5 L295.7,325.9 L296.5,325.5 L297.3,325.3 L298.1,325.2 L298.9,325.6 L299.7,322.8 L300.5,320 L301.3,317.6 L302.1,316 L302.9,314.2 L303.7,312.4 L304.5,310.9 L305.3,309.4 L306.1,308.4 L306.9,306.7 L307.7,305.4 L308.5,304.5 L309.3,303.7 L310.1,303.1 L310.9,302.6 L311.7,302.1 L312.5,301.8 L313.3,301 L314.1,300.7 L314.9,300 L315.7,299.4 L316.5,299.3 L317.3,298.4 L318.1,298.3 L318.9,297.7 L319.7,297.5 L320.5,296.9 L321.3,296.2 L322.1,296.5 L322.9,296.4 L323.7,296.4 L324.5,296 L325.3,296 L326.1,296.1 L326.9,295.9 L327.7,295.4 L328.5,295.4 L329.3,295.5 L330.1,295.7 L330.9,295.4 L331.7,295.5 L332.5,295.6 L333.3,295.4 L334.1,295.2 L334.9,295.1 L335.7,295.3 L336.5,295 L337.3,295.1 L338.1,295 L338.9,295.3 L339.7,295.3 L340.5,294.8 L341.3,295 L342.1,295.1 L342.9,295.5 L343.7,294.9 L344.5,294.7 L345.3,295.2 L346.1,294.8 L346.9,294.4 L347.7,294.1 L348.5,294.6 L349.3,294.5 L350.1,294.4 L350.9,294.7 L351.7,295.2 L352.5,295.1 L353.3,295.1 L354.1,295 L354.9,294.9 L355.7,294.8 L356.5,294.7 L357.3,294.9 L358.1,294.5 L358.9,294.8 L359.7,295 L360.5,295 L361.3,294.7 L362.1,294.6 L362.9,294.4 L363.7,294.3 L364.5,294.2 L365.3,294 L366.1,294.2 L366.9,294 L367.7,294.2 L368.5,294.1 L369.3,294.4 L370.1,294.3 L370.9,294.2 L371.7,294.7 L372.5,294.9 L373.3,295.2 L374.1,294.6 L374.9,294.5 L375.7,294.5 L376.5,294.1 L377.3,293.9 L378.1,293.5 L378.9,293.9 L379.7,294.5 L380.5,294.2 L381.3,294.6 L382.1,294.7 L382.9,294.9" stroke="#3f7ec6" stroke-width="1.8" fill="none" stroke-linejoin="round" />
<path d="M48.5,292.4 L49.3,291.9 L50.1,292.2 L50.9,292.5 L51.7,292.3 L52.5,292.6 L53.3,292.7 L54.1,293.1 L54.9,293 L55.7,292.7 L56.5,292.7 L57.3,292.4 L58.1,292.4 L58.9,292.5 L59.7,292.4 L60.5,292.3 L61.3,292.4 L62.1,292.4 L62.9,292.5 L63.7,292.5 L64.5,292.5 L65.3,292.7 L66.1,292.5 L66.9,292.8 L67.7,293.1 L68.5,292.7 L69.3,292.3 L70.1,291.9 L70.9,292.3 L71.7,292.1 L72.5,291.9 L73.3,292.4 L74.1,292.8 L74.9,293.2 L75.7,293 L76.5,293.1 L77.3,292.7 L78.1,292.4 L78.9,292.4 L79.7,292.7 L80.5,292.6 L81.3,292.2 L82.1,292.3 L82.9,292.6 L83.7,292.5 L84.5,292.4 L85.3,292.2 L86.1,292.7 L86.9,293 L87.7,292.5 L88.5,292.6 L89.3,292.5 L90.1,292.9 L90.9,292.9 L91.7,293.2 L92.5,293.5 L93.3,293.4 L94.1,293 L94.9,293.1 L95.7,292.9 L96.5,292.4 L97.3,292.3 L98.1,292.5 L98.9,292.5 L99.7,292 L100.5,291.6 L101.3,291.8 L102.1,291.9 L102.9,292.1 L103.7,292.3 L104.5,292.4 L105.3,293 L106.1,292.7 L106.9,292.5 L107.7,292 L108.5,292.4 L109.3,292.6 L110.1,292.6 L110.9,292.5 L111.7,292.6 L112.5,293 L113.3,292.6 L114.1,292.4 L114.9,292.3 L115.7,292.2 L116.5,292.3 L117.3,292.4 L118.1,292.2 L118.9,292.7 L119.7,292.6 L120.5,292.8 L121.3,292.6 L122.1,292.3 L122.9,292.5 L123.7,292.1 L124.5,292.1 L125.3,291.9 L126.1,291.9 L126.9,291.7 L127.7,291.6 L128.5,291.8 L129.3,292.1 L130.1,292.4 L130.9,293.6 L131.7,296.1 L132.5,297.9 L133.3,299.8 L134.1,300.8 L134.9,302.1 L135.7,302.5 L136.5,303.5 L137.3,304 L138.1,304.6 L138.9,305.4 L139.7,305.5 L140.5,306.6 L141.3,307.1 L142.1,307.8 L142.9,307.8 L143.7,308.1 L144.5,308.6 L145.3,308.6 L146.1,308.8 L146.9,308.8 L147.7,309 L148.5,309 L149.3,308.9 L150.1,308.7 L150.9,308.6 L151.7,309 L152.5,309.4 L153.3,309.4 L154.1,309.9 L154.9,309.9 L155.7,310.4 L156.5,310.3 L157.3,310.2 L158.1,310.2 L158.9,309.9 L159.7,310.1 L160.5,309.6 L161.3,309.7 L162.1,309.3 L162.9,309.6 L163.7,309.6 L164.5,309.9 L165.3,309.9 L166.1,310.1 L166.9,310.1 L167.7,310.1 L168.5,310.1 L169.3,309.7 L170.1,309.7 L170.9,309.5 L171.7,309.8 L172.5,309.9 L173.3,310.2 L174.1,310.2 L174.9,310 L175.7,309.9 L176.5,309.8 L177.3,309.2 L178.1,309.2 L178.9,309.2 L179.7,309.4 L180.5,309.8 L181.3,309.9 L182.1,310.4 L182.9,310.1 L183.7,310.2 L184.5,310.3 L185.3,309.9 L186.1,310 L186.9,310.1 L187.7,309.9 L188.5,309.8 L189.3,309.5 L190.1,309.9 L190.9,309.9 L191.7,309.5 L192.5,309.8 L193.3,309.8 L194.1,310 L194.9,310 L195.7,310 L196.5,310.2 L197.3,310.5 L198.1,310.1 L198.9,310.2 L199.7,310 L200.5,309.9 L201.3,309.8 L202.1,309.8 L202.9,310.6 L203.7,310.5 L204.5,310.1 L205.3,310.5 L206.1,310.2 L206.9,310.2 L207.7,309.7 L208.5,309.9 L209.3,309.9 L210.1,309.9 L210.9,310.3 L211.7,309.9 L212.5,309.6 L213.3,309.4 L214.1,309.8 L214.9,309.5 L215.7,309.5 L216.5,309.8 L217.3,310.3 L218.1,310.5 L218.9,310.3 L219.7,310 L220.5,310.3 L221.3,310.6 L222.1,310.2 L222.9,310.6 L223.7,310.7 L224.5,310.8 L225.3,310.1 L226.1,310 L226.9,310.4 L227.7,309.8 L228.5,309.3 L229.3,309.6 L230.1,309.9 L230.9,309.6 L231.7,310.1 L232.5,310.6 L233.3,311.2 L234.1,310.9 L234.9,311.1 L235.7,310.8 L236.5,310.2 L237.3,309.6 L238.1,309.2 L238.9,309 L239.7,308.9 L240.5,309.4 L241.3,309.4 L242.1,309.7 L242.9,309.8 L243.7,309.9 L244.5,309.4 L245.3,309.4 L246.1,309.5 L246.9,309.3 L247.7,309.6 L248.5,309.6 L249.3,309.9 L250.1,309.8 L250.9,309.4 L251.7,309.8 L252.5,309.8 L253.3,309.9 L254.1,309.8 L254.9,310 L255.7,309.9 L256.5,309.7 L257.3,309.2 L258.1,309.3 L258.9,309.2 L259.7,309.2 L260.5,309.2 L261.3,308.8 L262.1,308.9 L262.9,308.8 L263.7,308.9 L264.5,309 L265.3,309.6 L266.1,310.1 L266.9,310.2 L267.7,310.5 L268.5,310.4 L269.3,310.7 L270.1,310.5 L270.9,310.1 L271.7,310.3 L272.5,310.3 L273.3,309.9 L274.1,309.5 L274.9,309.3 L275.7,309.1 L276.5,308.8 L277.3,308.4 L278.1,309.1 L278.9,309.3 L279.7,309.9 L280.5,310.2 L281.3,310.6 L282.1,310.9 L282.9,310.8 L283.7,310.5 L284.5,309.6 L285.3,309.5 L286.1,309.5 L286.9,309.8 L287.7,309.8 L288.5,310.2 L289.3,310.4 L290.1,310.8 L290.9,310.9 L291.7,310.5 L292.5,310.4 L293.3,310.1 L294.1,310.6 L294.9,310.3 L295.7,310 L296.5,310.2 L297.3,310.3 L298.1,310.4 L298.9,309.5 L299.7,307.7 L300.5,306.1 L301.3,304.9 L302.1,304.1 L302.9,302.8 L303.7,302.2 L304.5,301.6 L305.3,301 L306.1,300.2 L306.9,298.9 L307.7,298.9 L308.5,298.2 L309.3,297.7 L310.1,297.5 L310.9,297 L311.7,296.5 L312.5,295.8 L313.3,295.7 L314.1,295.4 L314.9,295 L315.7,294.6 L316.5,294.8 L317.3,294.9 L318.1,294.5 L318.9,294.7 L319.7,294.5 L320.5,294.4 L321.3,293.9 L322.1,293.8 L322.9,293.7 L323.7,293.4 L324.5,293.5 L325.3,293.9 L326.1,294.4 L326.9,294 L327.7,294 L328.5,294 L329.3,293.6 L330.1,293.5 L330.9,293.5 L331.7,293.7 L332.5,293.6 L333.3,293.4 L334.1,293.4 L334.9,293.1 L335.7,292.7 L336.5,292.5 L337.3,292.4 L338.1,292.4 L338.9,292.8 L339.7,292.5 L340.5,292.8 L341.3,292.4 L342.1,292 L342.9,291.9 L343.7,291.7 L344.5,292 L345.3,291.5 L346.1,291.9 L346.9,292.3 L347.7,292.6 L348.5,292.6 L349.3,292.6 L350.1,292.7 L350.9,292.7 L351.7,292.6 L352.5,292.4 L353.3,292.3 L354.1,292 L354.9,292.3 L355.7,292.7 L356.5,292.9 L357.3,292.8 L358.1,292.9 L358.9,293.3 L359.7,293.3 L360.5,293.3 L361.3,293.2 L362.1,293 L362.9,292.9 L363.7,292.5 L364.5,292.2 L365.3,292.1 L366.1,292.2 L366.9,292.1 L367.7,292.6 L368.5,292.8 L369.3,292.9 L370.1,292.7 L370.9,292.5 L371.7,292.6 L372.5,291.9 L373.3,291.8 L374.1,292.1 L374.9,291.5 L375.7,291.6 L376.5,291.9 L377.3,292.2 L378.1,292.2 L378.9,292.1 L379.7,292.4 L380.5,292.3 L381.3,292.4 L382.1,292.5 L382.9,292.5" stroke="#3f7ec6" stroke-width="1.8" fill="none" stroke-linejoin="round" />
<path d="M48.5,293 L49.3,292.9 L50.1,292.8 L50.9,292.7 L51.7,291.9 L52.5,292.4 L53.3,292.1 L54.1,292.9 L54.9,293 L55.7,293 L56.5,293.4 L57.3,293.3 L58.1,293.2 L58.9,292.5 L59.7,292.5 L60.5,292.6 L61.3,292.8 L62.1,292.9 L62.9,293.1 L63.7,293.5 L64.5,293.5 L65.3,293.5 L66.1,293.2 L66.9,293.4 L67.7,293.8 L68.5,293.4 L69.3,293.3 L70.1,293.6 L70.9,293.4 L71.7,293.2 L72.5,293 L73.3,293.2 L74.1,293.3 L74.9,293.2 L75.7,292.8 L76.5,293.1 L77.3,292.7 L78.1,292.3 L78.9,292.3 L79.7,292.3 L80.5,292.8 L81.3,292.4 L82.1,292.6 L82.9,292.9 L83.7,293.1 L84.5,293.1 L85.3,293.2 L86.1,293.7 L86.9,293.6 L87.7,293.5 L88.5,293.3 L89.3,293.3 L90.1,293.2 L90.9,292.8 L91.7,292.9 L92.5,292.6 L93.3,292.6 L94.1,292.6 L94.9,292.3 L95.7,292.5 L96.5,292.2 L97.3,292.9 L98.1,292.3 L98.9,292.1 L99.7,292.5 L100.5,292.7 L101.3,292.5 L102.1,292.3 L102.9,292.7 L103.7,292.8 L104.5,293 L105.3,292.5 L106.1,293 L106.9,292.9 L107.7,293.1 L108.5,293.2 L109.3,292.8 L110.1,292.7 L110.9,293 L111.7,293.3 L112.5,293.2 L113.3,293.4 L114.1,293.6 L114.9,293.8 L115.7,293.3 L116.5,293 L117.3,293.1 L118.1,292.6 L118.9,292.4 L119.7,292.5 L120.5,292.7 L121.3,293 L122.1,292.4 L122.9,292.4 L123.7,292.5 L124.5,292.8 L125.3,292.9 L126.1,292.8 L126.9,293 L127.7,293.4 L128.5,293.4 L129.3,293.3 L130.1,293 L130.9,293 L131.7,293.1 L132.5,293.1 L133.3,293.3 L134.1,293.6 L134.9,294.1 L135.7,294.4 L136.5,294 L137.3,293.9 L138.1,293.7 L138.9,293.3 L139.7,292.6 L140.5,292.5 L141.3,293.2 L142.1,293 L142.9,292.9 L143.7,292.6 L144.5,293.1 L145.3,293 L146.1,293.2 L146.9,293.4 L147.7,293.8 L148.5,294 L149.3,294.3 L150.1,294.3 L150.9,294.2 L151.7,294 L152.5,293.8 L153.3,293.7 L154.1,293.6 L154.9,293.6 L155.7,293.3 L156.5,293.4 L157.3,293.5 L158.1,293.5 L158.9,293 L159.7,293 L160.5,293.6 L161.3,293.6 L162.1,293.4 L162.9,293.3 L163.7,293.2 L164.5,293.2 L165.3,292.9 L166.1,293 L166.9,293.1 L167.7,293.4 L168.5,293.7 L169.3,293.3 L170.1,293 L170.9,293 L171.7,292.8 L172.5,292.7 L173.3,292.5 L174.1,292.7 L174.9,293 L175.7,292.9 L176.5,293 L177.3,293.3 L178.1,293.6 L178.9,294 L179.7,293.4 L180.5,293.7 L181.3,293.6 L182.1,293.5 L182.9,293.5 L183.7,293.4 L184.5,294 L185.3,293.9 L186.1,294.3 L186.9,294.2 L187.7,294 L188.5,293.9 L189.3,293.6 L190.1,294 L190.9,293.9 L191.7,294.4 L192.5,294.4 L193.3,294.2 L194.1,294.3 L194.9,294 L195.7,293.7 L196.5,293.4 L197.3,293.4 L198.1,293.8 L198.9,293.6 L199.7,293.7 L200.5,293.6 L201.3,293.4 L202.1,293.2 L202.9,292.7 L203.7,292.8 L204.5,292.8 L205.3,293 L206.1,293.3 L206.9,293.8 L207.7,294.1 L208.5,294.1 L209.3,293.8 L210.1,293.5 L210.9,293.5 L211.7,292.8 L212.5,292.9 L213.3,292.9 L214.1,293.1 L214.9,293.4 L215.7,293.1 L216.5,293.5 L217.3,293.3 L218.1,293.3 L218.9,293.1 L219.7,293 L220.5,293.2 L221.3,292.9 L222.1,293 L222.9,292.6 L223.7,292.6 L224.5,292.4 L225.3,292.6 L226.1,293 L226.9,292.7 L227.7,293.1 L228.5,293.2 L229.3,293.2 L230.1,293.1 L230.9,292.7 L231.7,292.8 L232.5,292.7 L233.3,292.7 L234.1,292.9 L234.9,292.5 L235.7,292.8 L236.5,293.3 L237.3,293.1 L238.1,293 L238.9,292.9 L239.7,293.1 L240.5,293.3 L241.3,293.2 L242.1,293.2 L242.9,293.2 L243.7,293.2 L244.5,293.8 L245.3,293.4 L246.1,293.4 L246.9,293.7 L247.7,293.8 L248.5,294.3 L249.3,293.7 L250.1,293.9 L250.9,293.9 L251.7,293.9 L252.5,293.7 L253.3,293.6 L254.1,293.7 L254.9,293.6 L255.7,293.3 L256.5,293.1 L257.3,293.4 L258.1,293.3 L258.9,293.4 L259.7,293.7 L260.5,294 L261.3,294.2 L262.1,294.2 L262.9,294.1 L263.7,294 L264.5,293.9 L265.3,294 L266.1,294 L266.9,293.8 L267.7,293.8 L268.5,294.2 L269.3,294 L270.1,293.7 L270.9,293.7 L271.7,294 L272.5,293.5 L273.3,293.2 L274.1,293.4 L274.9,293.3 L275.7,293.6 L276.5,293.5 L277.3,293.7 L278.1,293.7 L278.9,293.2 L279.7,293.2 L280.5,293.3 L281.3,293 L282.1,293.5 L282.9,293.4 L283.7,293.9 L284.5,294 L285.3,293.2 L286.1,293.3 L286.9,293 L287.7,292.8 L288.5,292.3 L289.3,292.3 L290.1,292.7 L290.9,292.4 L291.7,292.3 L292.5,292.7 L293.3,292.8 L294.1,293 L294.9,293.4 L295.7,293.7 L296.5,293.7 L297.3,293.2 L298.1,293.3 L298.9,293.3 L299.7,293 L300.5,293.1 L301.3,293.2 L302.1,293.5 L302.9,293.4 L303.7,293.1 L304.5,292.8 L305.3,292.4 L306.1,292.3 L306.9,292 L307.7,291.9 L308.5,292.1 L309.3,292.4 L310.1,293.2 L310.9,293.5 L311.7,293.6 L312.5,294 L313.3,293.9 L314.1,293.8 L314.9,293.4 L315.7,293.1 L316.5,292.6 L317.3,292.6 L318.1,292.4 L318.9,292.8 L319.7,292.5 L320.5,292.4 L321.3,293.3 L322.1,292.9 L322.9,293.1 L323.7,293.1 L324.5,293.2 L325.3,293.4 L326.1,293.1 L326.9,293.5 L327.7,293.3 L328.5,293.2 L329.3,293.3 L330.1,293.7 L330.9,293.6 L331.7,293.3 L332.5,293.6 L333.3,293.4 L334.1,293.3 L334.9,292.9 L335.7,293.2 L336.5,293.3 L337.3,293.1 L338.1,292.7 L338.9,292.4 L339.7,292.7 L340.5,292.3 L341.3,292.3 L342.1,292.1 L342.9,292.7 L343.7,292.9 L344.5,292.4 L345.3,292.7 L346.1,292.9 L346.9,293.3 L347.7,293 L348.5,293.3 L349.3,293.6 L350.1,293.5 L350.9,293.3 L351.7,293.1 L352.5,293.4 L353.3,293 L354.1,293.2 L354.9,293.3 L355.7,293.7 L356.5,293.9 L357.3,293.7 L358.1,293.4 L358.9,293.2 L359.7,293.3 L360.5,293 L361.3,293 L362.1,292.9 L362.9,293.2 L363.7,292.9 L364.5,293.1 L365.3,293.1 L366.1,292.8 L366.9,292.7 L367.7,292.7 L368.5,293.2 L369.3,293 L370.1,292.8 L370.9,293.2 L371.7,293.8 L372.5,294 L373.3,293.9 L374.1,294 L374.9,294.3 L375.7,294.1 L376.5,293.7 L377.3,293.8 L378.1,293.7 L378.9,293.9 L379.7,293.3 L380.5,293.3 L381.3,293.7 L382.1,293.4 L382.9,293.3" stroke="#3f7ec6" stroke-width="1.8" fill="none" stroke-linejoin="round" />
<path d="M48.5,288 L49.3,287.9 L50.1,287.9 L50.9,287.8 L51.7,287.9 L52.5,287.6 L53.3,287.5 L54.1,287.2 L54.9,287.6 L55.7,287.7 L56.5,287.7 L57.3,287.7 L58.1,287.5 L58.9,287.9 L59.7,287.8 L60.5,287.7 L61.3,287.6 L62.1,287.7 L62.9,287.6 L63.7,287.3 L64.5,287.2 L65.3,287.1 L66.1,286.7 L66.9,286.4 L67.7,286.5 L68.5,286.6 L69.3,286.2 L70.1,286.3 L70.9,286.9 L71.7,287 L72.5,287 L73.3,287.3 L74.1,287.7 L74.9,287.6 L75.7,287.6 L76.5,287.8 L77.3,287.9 L78.1,287.7 L78.9,287.6 L79.7,287.7 L80.5,287.8 L81.3,287.4 L82.1,287.3 L82.9,287.3 L83.7,286.9 L84.5,286.8 L85.3,286.7 L86.1,286.8 L86.9,287.2 L87.7,287.6 L88.5,288.1 L89.3,288.1 L90.1,288.2 L90.9,288.1 L91.7,287.9 L92.5,287.9 L93.3,287.4 L94.1,287.4 L94.9,287.1 L95.7,287.6 L96.5,287.4 L97.3,287.2 L98.1,287.7 L98.9,287.4 L99.7,287.6 L100.5,287.4 L101.3,287.6 L102.1,287.5 L102.9,287.6 L103.7,287.9 L104.5,287.8 L105.3,287.9 L106.1,288.1 L106.9,288.5 L107.7,288 L108.5,288.1 L109.3,288.2 L110.1,288 L110.9,287.6 L111.7,287.5 L112.5,287.5 L113.3,287.5 L114.1,287.7 L114.9,287.4 L115.7,287.5 L116.5,287 L117.3,287.3 L118.1,287.5 L118.9,287.6 L119.7,287.6 L120.5,287.5 L121.3,287.9 L122.1,288.2 L122.9,288 L123.7,287.4 L124.5,287.8 L125.3,287.9 L126.1,287.8 L126.9,287.3 L127.7,287.3 L128.5,287.5 L129.3,287.4 L130.1,287.5 L130.7,290 L133,283 L137,272 L142,258 L146,247 L149.5,236 L150.6,231 L152.3,44 L151.4,286.5 L151.9,276.5 L152.1,272.5 L154.1,270.3 L156.1,268 L158.1,265.7 L160.1,263.3 L162.1,260.8 L164.1,258.2 L166.1,255.4 L168.1,252.5 L170.1,249.3 L172.1,245.9 L174.1,242.2 L176.1,238.3 L178.1,234 L178.4,231 L180.1,45.5 L179.2,286.5 L179.7,276.5 L179.9,272.5 L181.9,270.3 L184,268 L186,265.7 L188.1,263.3 L190.1,260.8 L192.1,258.2 L194.2,255.4 L196.2,252.5 L198.2,249.3 L200.3,245.9 L202.3,242.2 L204.4,238.3 L206.4,234 L206.7,231 L208.4,47 L207.5,286.5 L208,276.5 L208.2,272.5 L210,270.3 L211.9,268 L213.7,265.7 L215.6,263.3 L217.4,260.8 L219.3,258.2 L221.1,255.4 L223,252.5 L224.8,249.3 L226.7,245.9 L228.5,242.2 L230.4,238.3 L232.2,234 L232.5,231 L234.2,47 L233.3,286.5 L233.8,276.5 L234,272.5 L236,270.3 L238,268 L240,265.7 L242.1,263.3 L244.1,260.8 L246.1,258.2 L248.1,255.4 L250.1,252.5 L252.1,249.3 L254.2,245.9 L256.2,242.2 L258.2,238.3 L260.2,234 L260.5,231 L262.2,45.5 L261.3,286.5 L261.8,276.5 L262,272.5 L264.1,270.3 L266.1,268 L268.2,265.7 L270.3,263.3 L272.3,260.8 L274.4,258.2 L276.5,255.4 L278.6,252.5 L280.6,249.3 L282.7,245.9 L284.8,242.2 L286.8,238.3 L288.9,234 L289.2,231 L290.9,49 L290,286.5 L291,283 L293,276 L296,270 L298,266 L299.5,262 L302,270 L305,279 L309,285 L315,288.5 L330,290 L350,291 L383,290" stroke="#3f7ec6" stroke-width="1.8" fill="none" stroke-linejoin="round" />
<path d="M48.5,290.4 L49.3,290.5 L50.1,290.8 L50.9,290.6 L51.7,290.5 L52.5,290 L53.3,289.8 L54.1,289.9 L54.9,289.5 L55.7,289.9 L56.5,289.6 L57.3,289.9 L58.1,289.8 L58.9,289.9 L59.7,290.1 L60.5,290.2 L61.3,290.6 L62.1,290.7 L62.9,291 L63.7,290.5 L64.5,290.3 L65.3,290.1 L66.1,289.9 L66.9,289.7 L67.7,289.5 L68.5,289.4 L69.3,289.7 L70.1,289.4 L70.9,289.7 L71.7,289.7 L72.5,289.6 L73.3,289.5 L74.1,289.3 L74.9,289.6 L75.7,289.5 L76.5,289.5 L77.3,289.6 L78.1,290.2 L78.9,290.3 L79.7,290.3 L80.5,290.4 L81.3,290.5 L82.1,290.6 L82.9,290.4 L83.7,290.2 L84.5,289.9 L85.3,289.7 L86.1,289.8 L86.9,289.6 L87.7,289.6 L88.5,289.9 L89.3,290.1 L90.1,290.5 L90.9,290.7 L91.7,291 L92.5,291.1 L93.3,291.1 L94.1,291.7 L94.9,291.5 L95.7,291.2 L96.5,291.1 L97.3,290.6 L98.1,290.1 L98.9,289.5 L99.7,289.5 L100.5,289.6 L101.3,289.2 L102.1,289 L102.9,289.2 L103.7,289.4 L104.5,289.3 L105.3,289.3 L106.1,289.9 L106.9,290.3 L107.7,290.5 L108.5,290.3 L109.3,290.1 L110.1,290 L110.9,289.9 L111.7,290 L112.5,290 L113.3,290.4 L114.1,290.8 L114.9,290.4 L115.7,290.1 L116.5,290 L117.3,290 L118.1,289.6 L118.9,289.6 L119.7,289.9 L120.5,290 L121.3,290 L122.1,290 L122.9,290 L123.7,290 L124.5,290.1 L125.3,290 L126.1,289.9 L126.9,289.3 L127.7,289.4 L128.5,289.3 L129.3,289.3 L130.1,289.4 L130.7,291 L134,280 L139,270 L147,260 L157,255 L166,251 L175,247 L184.5,241.6 L189,237 L191.5,233 L192.2,231 L193.9,44 L193,288.7 L193.5,278.7 L193.7,274.7 L198.8,272.3 L203.9,270 L209,267.5 L214.1,265 L219.2,262.4 L224.3,259.6 L229.3,256.7 L234.4,253.5 L239.5,250.2 L244.6,246.6 L249.7,242.7 L254.8,238.5 L259.9,234 L260.2,231 L261.9,45.5 L261,288.7 L262.4,276 L268,272 L275,268 L279.5,265.5 L280,260.5 L287,257 L294,253 L298.6,249.7 L300,252 L303,266 L306,276 L310,284 L314,287.5 L320,289 L340,290.5 L383,290" stroke="#3f7ec6" stroke-width="1.8" fill="none" stroke-linejoin="round" />
<path d="M48.5,288.4 L49.3,288 L50.1,288.3 L50.9,288 L51.7,288.2 L52.5,287.7 L53.3,287.5 L54.1,287.6 L54.9,287.9 L55.7,288.2 L56.5,288.4 L57.3,287.9 L58.1,287.5 L58.9,287.7 L59.7,288.2 L60.5,288.9 L61.3,288.9 L62.1,288.5 L62.9,288.3 L63.7,288.2 L64.5,288.4 L65.3,288 L66.1,287.9 L66.9,287.8 L67.7,288.1 L68.5,288.2 L69.3,288.5 L70.1,288.2 L70.9,288.3 L71.7,288 L72.5,288 L73.3,287.7 L74.1,287.8 L74.9,288.1 L75.7,288.3 L76.5,288.1 L77.3,287.9 L78.1,288 L78.9,287.8 L79.7,288 L80.5,288.1 L81.3,288.2 L82.1,288.3 L82.9,287.9 L83.7,287.9 L84.5,287.5 L85.3,287.6 L86.1,287.7 L86.9,288 L87.7,287.9 L88.5,288.2 L89.3,288.5 L90.1,288.3 L90.9,288.3 L91.7,287.6 L92.5,287.7 L93.3,287.5 L94.1,287.8 L94.9,287.8 L95.7,287.7 L96.5,287.7 L97.3,287.7 L98.1,287.7 L98.9,287.9 L99.7,288.2 L100.5,288.3 L101.3,288.2 L102.1,288 L102.9,287.9 L103.7,287.8 L104.5,287.6 L105.3,287.8 L106.1,287.9 L106.9,288.1 L107.7,288 L108.5,288.1 L109.3,288.4 L110.1,288.3 L110.9,288.1 L111.7,287.9 L112.5,287.8 L113.3,288.1 L114.1,288.3 L114.9,288.6 L115.7,288.3 L116.5,288.3 L117.3,288.3 L118.1,288.5 L118.9,288.3 L119.7,287.7 L120.5,287.8 L121.3,287.8 L122.1,288 L122.9,287.9 L123.7,288.1 L124.5,288 L125.3,287.8 L126.1,287.6 L126.9,288.1 L127.7,287.8 L128.5,287.7 L129.3,287.5 L130.1,288.2 L130.9,287.4 L131.7,284.6 L132.5,282.1 L133.3,280.9 L134.1,280.4 L134.9,280 L135.7,279.1 L136.5,278.1 L137.3,277.4 L138.1,276.8 L138.9,276.5 L139.7,276 L140.5,276 L141.3,275.6 L142.1,275.2 L142.9,274.8 L143.7,274.8 L144.5,274.7 L145.3,274.5 L146.1,274.5 L146.9,274.8 L147.7,275.1 L148.5,275.1 L149.3,275 L150.1,274.4 L150.9,273.9 L151.7,273.5 L152.5,273.6 L153.3,273.7 L154.1,273.8 L154.9,273.7 L155.7,273.8 L156.5,273.3 L157.3,273.4 L158.1,273.7 L158.9,274 L159.7,274.2 L160.5,274 L161.3,274 L162.1,274 L162.9,273.9 L163.7,274.1 L164.5,273.9 L165.3,273.5 L166.1,273.1 L166.9,273.1 L167.7,273.5 L168.5,273.6 L169.3,273.6 L170.1,273.4 L170.9,273.7 L171.7,273.6 L172.5,273.9 L173.3,273.4 L174.1,273.4 L174.9,273.2 L175.7,273.5 L176.5,273.5 L177.3,273.2 L178.1,273 L178.9,273.3 L179.7,273.4 L180.5,273.4 L181.3,273.2 L182.1,273 L182.9,273.1 L183.7,273 L184.5,273 L185.3,273 L186.1,273.1 L186.9,273.3 L187.7,273.4 L188.5,273.2 L189.3,272.8 L190.1,272.4 L190.9,272.5 L191.7,272.8 L192.5,273 L193.3,273 L194.1,273 L194.9,272.8 L195.7,272.4 L196.5,272.6 L197.3,272.6 L198.1,272.5 L198.9,272.1 L199.7,272 L200.5,272.5 L201.3,272.9 L202.1,272.6 L202.9,272.2 L203.7,272.1 L204.5,272.5 L205.3,272.6 L206.1,272.4 L206.9,272.3 L207.7,272.1 L208.5,271.7 L209.3,271.5 L210.1,271.4 L210.9,272 L211.7,272.4 L212.5,272.3 L213.3,272.1 L214.1,271.9 L214.9,271.8 L215.7,271.3 L216.5,271.2 L217.3,271.5 L218.1,271.8 L218.9,271.2 L219.7,271.2 L220.5,271.1 L221.3,271.5 L222.1,271.4 L222.9,271.2 L223.7,271.5 L224.5,271.5 L225.3,271.6 L226.1,271.5 L226.9,271.5 L227.7,271.3 L228.5,271.2 L229.3,271.1 L230.1,271 L230.9,270.9 L231.7,271 L232.5,271.2 L233.3,271.6 L234.1,271.8 L234.9,271.8 L235.7,271.6 L236.5,271.7 L237.3,271.6 L238.1,271.3 L238.9,270.8 L239.7,270.6 L240.5,270.4 L241.3,270.5 L242.1,270.7 L242.9,271 L243.7,271 L244.5,270.9 L245.3,270.8 L246.1,270.6 L246.9,270.6 L247.7,270.5 L248.5,270.6 L249.3,270.6 L250.1,270.8 L250.9,270.9 L251.7,271.1 L252.5,270.8 L253.3,270.4 L254.1,270.1 L254.9,270.4 L255.7,270.7 L256.5,270.5 L257.3,270.4 L258.1,270.2 L258.9,270.6 L259.7,271 L260.5,270.7 L261.3,270.4 L262.1,269.9 L262.9,270.2 L263.7,270.3 L264.5,270.4 L265.3,270.1 L266.1,270 L266.9,270.3 L267.7,270.2 L268.5,270.1 L269.3,269.9 L270.1,270 L270.9,270.1 L271.7,269.8 L272.5,269.7 L273.3,269.2 L274.1,269.4 L274.9,269.7 L275.7,269.6 L276.5,269.5 L277.3,269.4 L278.1,269.8 L278.9,269.5 L279.7,269.5 L280.5,269.2 L281.3,269.8 L282.1,269.5 L282.9,269.6 L283.7,269.3 L284.5,269.4 L285.3,269.6 L286.1,269.7 L286.9,269.6 L287.7,269.7 L288.5,269.7 L289.3,269.8 L290.1,269.5 L290.9,269.3 L291.7,269.2 L292.5,269.1 L293.3,268.7 L294.1,267.8 L294.9,266.5 L295.7,264.7 L296.5,263.6 L297.3,263.3 L298.1,264.1 L298.9,266.2 L299.7,270.1 L300.5,273.2 L301.3,275.7 L302.1,277 L302.9,278.6 L303.7,279.4 L304.5,280.5 L305.3,281.3 L306.1,282.2 L306.9,283.2 L307.7,284 L308.5,284.8 L309.3,285.1 L310.1,285.7 L310.9,286.1 L311.7,286.4 L312.5,286.2 L313.3,286.3 L314.1,286.6 L314.9,287 L315.7,287.2 L316.5,287.3 L317.3,287.4 L318.1,287.5 L318.9,287.5 L319.7,287.7 L320.5,287.6 L321.3,287.5 L322.1,287.5 L322.9,287.9 L323.7,288.5 L324.5,288.4 L325.3,288 L326.1,287.4 L326.9,287.4 L327.7,287.5 L328.5,287.7 L329.3,287.7 L330.1,287.9 L330.9,288 L331.7,288.5 L332.5,288.8 L333.3,288.8 L334.1,289 L334.9,288.5 L335.7,288.4 L336.5,288 L337.3,288.1 L338.1,288.3 L338.9,288.2 L339.7,288.5 L340.5,288.5 L341.3,288.7 L342.1,288.4 L342.9,288 L343.7,287.4 L344.5,287.3 L345.3,287.5 L346.1,288.1 L346.9,287.9 L347.7,287.7 L348.5,288 L349.3,288.4 L350.1,288.6 L350.9,288.2 L351.7,288.2 L352.5,288.3 L353.3,288.6 L354.1,288.3 L354.9,288.1 L355.7,287.8 L356.5,287.8 L357.3,287.9 L358.1,288 L358.9,288 L359.7,288.1 L360.5,288.2 L361.3,288.4 L362.1,288.1 L362.9,287.9 L363.7,287.7 L364.5,287.7 L365.3,287.5 L366.1,287.3 L366.9,287.3 L367.7,288 L368.5,288.1 L369.3,288.2 L370.1,288 L370.9,288.2 L371.7,288.1 L372.5,288.3 L373.3,288.5 L374.1,288.1 L374.9,288 L375.7,287.8 L376.5,288.5 L377.3,288.3 L378.1,288.4 L378.9,288.6 L379.7,288.9 L380.5,289.1 L381.3,288.9 L382.1,288.8 L382.9,288.4" stroke="#3f7ec6" stroke-width="1.8" fill="none" stroke-linejoin="round" />
<path d="M37.9,731.6 L38.6,731.8 L39.3,732.8 L40,733.3 L40.7,732.7 L41.4,732.2 L42.1,732 L42.8,731 L43.5,729.9 L44.2,729.3 L44.9,729.2 L45.6,729.2 L46.3,728.9 L47,728.6 L47.7,728.9 L48.4,729.3 L49.1,730.4 L49.8,732.3 L50.5,733.5 L51.2,733.7 L51.9,734 L52.6,734.2 L53.3,734.5 L54,734.6 L54.7,734.7 L55.4,734.4 L56.1,733.4 L56.8,732.6 L57.5,732.5 L58.2,732.8 L58.9,732.9 L59.6,732.9 L60.3,732.8 L61,733 L61.7,733.5 L62.4,733.6 L63.1,733.6 L63.8,734.1 L64.5,734.9 L65.2,735.6 L65.9,735.5 L66.6,734.6 L67.3,733.6 L68,733.5 L68.7,733.7 L69.4,733.2 L70.1,731.5 L70.8,730.1 L71.5,729.6 L72.2,728.7 L72.9,727.8 L73.6,727.4 L74.3,727.1 L75,727.6 L75.7,728 L76.4,728.3 L77.1,728.4 L77.8,727.6 L78.5,726.8 L79.2,726.5 L79.9,727.4 L80.6,728.5 L81.3,729.2 L82,729.6 L82.7,728.7 L83.4,727.6 L84.1,727.6 L84.8,728.2 L85.5,729.2 L86.2,730.5 L86.9,731.8 L87.6,733.1 L88.3,734.2 L89,734.7 L89.7,734.1 L90.4,734 L91.1,735.4 L91.8,736 L92.5,736.4 L93.2,738.1 L93.9,742.1 L94.6,748 L95.3,753.6 L96,759.1 L96.7,764.4 L97.4,770.7 L98.1,779 L98.8,787.5 L99.5,795.3 L100.2,803.1 L100.9,811.9 L101.6,821 L102.3,829.5 L103,837.7 L103.7,846.2 L104.4,854.8 L105.1,863.3 L105.8,871.6 L106.5,879.5 L107.2,886.9 L107.9,893.6 L108.6,888.8 L109.3,883.2 L110,878.1 L110.7,873.2 L111.4,869 L112.1,864.5 L112.8,859.6 L113.5,855.1 L114.2,850.8 L114.9,846.3 L115.6,843.1 L116.3,841 L117,838.5 L117.7,835.5 L118.4,832.7 L119.1,830.6 L119.8,828.6 L120.5,826.4 L121.2,824.1 L121.9,821.8 L122.6,820 L123.3,817.8 L124,814.7 L124.7,811.5 L125.4,808.7 L126.1,806.5 L126.8,804.5 L127.5,801.2 L128.2,797.9 L128.9,796.1 L129.6,794 L130.3,791 L131,788.4 L131.7,785.8 L132.4,783.2 L133.1,781.8 L133.8,781.8 L134.5,781 L135.2,779.8 L135.9,779 L136.6,778.2 L137.3,777.3 L138,776.6 L138.7,774.9 L139.4,771.8 L140.1,769.4 L140.8,768.6 L141.5,768.3 L142.2,767.9 L142.9,766.4 L143.6,764.3 L144.3,762.6 L145,761.7 L145.7,761.7 L146.4,760.7 L147.1,758.6 L147.8,756.2 L148.5,754.3 L149.2,753.1 L149.9,752.2 L150.6,751.3 L151.3,751.3 L152,751.8 L152.7,751.7 L153.4,751.8 L154.1,752.4 L154.8,752.3 L155.5,751.6 L156.2,751.2 L156.9,750.6 L157.6,749.6 L158.3,748.7 L159,747.8 L159.7,746.3 L160.4,744.4 L161.1,742.6 L161.8,741.2 L162.5,739.7 L163.2,738.4 L163.9,738.2 L164.6,738.2 L165.3,737.6 L166,737.2 L166.7,737.8 L167.4,739 L168.1,739.6 L168.8,740 L169.5,742 L170.2,744.8 L170.9,746.1 L171.6,745.6 L172.3,745.2 L173,745.2 L173.7,744.4 L174.4,744 L175.1,743.4 L175.8,741.4 L176.5,739.6 L177.2,739.3 L177.9,739.4 L178.6,738.2 L179.3,736.8 L180,736.2 L180.7,736.1 L181.4,736.3 L182.1,737 L182.8,738.7 L183.5,740.1 L184.2,741.3 L184.9,742.9 L185.6,743 L186.3,741.8 L187,741.2 L187.7,740.4 L188.4,740 L189.1,740.4 L189.8,740.8 L190.5,739.8 L191.2,737.5 L191.9,736.1 L192.6,735.8 L193.3,735.9 L194,735.6 L194.7,734.7 L195.4,733.6 L196.1,732.8 L196.8,732.6 L197.5,732.3 L198.2,731.5 L198.9,730.3 L199.6,728.8 L200.3,726.8 L201,725.3 L201.7,724.9 L202.4,724.6 L203.1,724 L203.8,723.4 L204.5,722.5 L205.2,721 L205.9,720.3 L206.6,721.3 L207.3,722.6 L208,723.1 L208.7,722.5 L209.4,722.2 L210.1,723.3 L210.8,724.2 L211.5,724.4 L212.2,725.1 L212.9,726.8 L213.6,728.8 L214.3,729.9 L215,730.2 L215.7,730.7 L216.4,732 L217.1,733.4 L217.8,735.1 L218.5,736.8 L219.2,736.9 L219.9,737.1 L220.6,737.7 L221.3,737.3 L222,736.2 L222.7,736 L223.4,737 L224.1,737.6 L224.8,736.9 L225.5,735.2 L226.2,733.2 L226.9,732.3 L227.6,732.3 L228.3,731.7 L229,730.3 L229.7,729.6 L230.4,728.7 L231.1,727.2 L231.8,726.4 L232.5,725.5 L233.2,724.5 L233.9,723.9 L234.6,723.6 L235.3,724.1 L236,725.5 L236.7,727.5 L237.4,727.7 L238.1,726.9 L238.8,728.1 L239.5,729.9 L240.2,729.8 L240.9,729.2 L241.6,729.1 L242.3,729.8 L243,731.4 L243.7,733.2 L244.4,734.8 L245.1,734.8 L245.8,734.2 L246.5,735.1 L247.2,736.3 L247.9,735.8 L248.6,734.7 L249.3,734.1 L250,735.2 L250.7,736.8 L251.4,737.2 L252.1,737.2 L252.8,737.2 L253.5,737.8 L254.2,738.2 L254.9,738 L255.6,738.1 L256.3,739 L257,739.9 L257.7,739.6 L258.4,738.9 L259.1,739.2 L259.8,739.8 L260.5,739.1 L261.2,738 L261.9,737.8 L262.6,737.9 L263.3,737.7 L264,738.1 L264.7,738.7 L265.4,738.8 L266.1,739 L266.8,739.2 L267.5,739.3 L268.2,739 L268.9,738 L269.6,737.4 L270.3,736.9 L271,736.1 L271.7,735.5 L272.4,734.1 L273.1,732.5 L273.8,732.4 L274.5,733 L275.2,733.4 L275.9,732.9 L276.6,732.6 L277.3,732 L278,730.5 L278.7,729.8 L279.4,730.9 L280.1,731.7 L280.8,730.8 L281.5,729.8 L282.2,729.9 L282.9,730.8 L283.6,731.9 L284.3,732.2 L285,732.1 L285.7,732.6 L286.4,733.7 L287.1,734.8 L287.8,735.6 L288.5,736.7 L289.2,738.1 L289.9,739.7 L290.6,741.4 L291.3,742.4 L292,742.7 L292.7,742.7 L293.4,742.4 L294.1,741.5 L294.8,740.8 L295.5,740.4 L296.2,738.6 L296.9,736.6 L297.6,735.5 L298.3,733.5 L299,731.4 L299.7,730.1 L300.4,729.5 L301.1,729.3 L301.8,729.1 L302.5,730 L303.2,732 L303.9,733.6 L304.6,734.4 L305.3,734.4 L306,734.5 L306.7,735.2 L307.4,736.4 L308.1,737.2 L308.8,737.1 L309.5,736 L310.2,734.3 L310.9,733 L311.6,732.2 L312.3,730.6 L313,729.3 L313.7,729.4 L314.4,730.1 L315.1,730.7 L315.8,731.1 L316.5,731.3 L317.2,731.7 L317.9,731.9 L318.6,731.9 L319.3,732.2 L320,732.6 L320.7,733.2 L321.4,734.1 L322.1,735.5 L322.8,736.4 L323.5,737.1 L324.2,737.4 L324.9,737.7 L325.6,737.9 L326.3,737 L327,736 L327.7,735.5 L328.4,736.1 L329.1,736.1 L329.8,734.8" stroke="#3f7cc4" stroke-width="1.2" fill="none" stroke-linejoin="round" />
<path d="M37.9,727.2 L38.6,728 L39.3,728.6 L40,728.4 L40.7,727.3 L41.4,726.4 L42.1,726.2 L42.8,726.5 L43.5,726.8 L44.2,726.5 L44.9,726.2 L45.6,726.7 L46.3,727 L47,726.4 L47.7,726.1 L48.4,726.5 L49.1,726.5 L49.8,725.8 L50.5,725.4 L51.2,724.9 L51.9,723.4 L52.6,721.5 L53.3,720.9 L54,720.6 L54.7,719.7 L55.4,717.7 L56.1,716.3 L56.8,715.7 L57.5,714.2 L58.2,712.5 L58.9,711.2 L59.6,711.4 L60.3,712.8 L61,713.4 L61.7,712.6 L62.4,712 L63.1,712.9 L63.8,715 L64.5,716.7 L65.2,717.7 L65.9,718.4 L66.6,718.3 L67.3,717.6 L68,717.1 L68.7,716.8 L69.4,716.5 L70.1,716.8 L70.8,717.6 L71.5,718.3 L72.2,718.6 L72.9,718.1 L73.6,718.8 L74.3,720 L75,719.9 L75.7,720.7 L76.4,722 L77.1,721.9 L77.8,722.1 L78.5,723.5 L79.2,725.2 L79.9,725.6 L80.6,724.5 L81.3,724.1 L82,723.9 L82.7,723.4 L83.4,723.8 L84.1,725.1 L84.8,726.4 L85.5,727.3 L86.2,727.8 L86.9,727.1 L87.6,726.7 L88.3,727.1 L89,727.8 L89.7,728.5 L90.4,730.4 L91.1,734 L91.8,738.4 L92.5,743.9 L93.2,749.4 L93.9,755.5 L94.6,762.6 L95.3,768.8 L96,774.9 L96.7,781.2 L97.4,787.5 L98.1,794.6 L98.8,802.8 L99.5,811.6 L100.2,819.7 L100.9,827.4 L101.6,834.6 L102.3,842.1 L103,850 L103.7,855.2 L104.4,852.1 L105.1,849.4 L105.8,847.8 L106.5,845.5 L107.2,841.6 L107.9,837.4 L108.6,834 L109.3,831.5 L110,828.9 L110.7,825.2 L111.4,822.2 L112.1,819.8 L112.8,816.9 L113.5,814.2 L114.2,812 L114.9,808.9 L115.6,805.2 L116.3,803.2 L117,802.3 L117.7,800.2 L118.4,797 L119.1,793.8 L119.8,791.2 L120.5,789.2 L121.2,787.4 L121.9,786 L122.6,783.9 L123.3,781.1 L124,779 L124.7,777.4 L125.4,775.5 L126.1,773 L126.8,770.8 L127.5,769.3 L128.2,768.1 L128.9,767.4 L129.6,766.2 L130.3,765.1 L131,766.6 L131.7,768 L132.4,767.1 L133.1,767 L133.8,767.7 L134.5,767.4 L135.2,765.4 L135.9,762.6 L136.6,761.1 L137.3,761.3 L138,760.2 L138.7,757 L139.4,754.6 L140.1,753.2 L140.8,752.5 L141.5,752.1 L142.2,751.3 L142.9,749.5 L143.6,747.6 L144.3,746.2 L145,745.2 L145.7,745 L146.4,745.3 L147.1,744.9 L147.8,744.2 L148.5,743.9 L149.2,743.2 L149.9,742.1 L150.6,742.1 L151.3,742.9 L152,742.8 L152.7,742.3 L153.4,742.4 L154.1,741.9 L154.8,740.7 L155.5,740.8 L156.2,740.8 L156.9,739.3 L157.6,738 L158.3,738.2 L159,739.4 L159.7,739.4 L160.4,737.9 L161.1,736.5 L161.8,735.8 L162.5,735.6 L163.2,735.6 L163.9,735.2 L164.6,733.8 L165.3,732.9 L166,732.8 L166.7,732.4 L167.4,731.2 L168.1,730.5 L168.8,730.9 L169.5,731.6 L170.2,732.3 L170.9,733.3 L171.6,734.4 L172.3,734.9 L173,735.1 L173.7,735.6 L174.4,736.7 L175.1,738.2 L175.8,739.5 L176.5,740.1 L177.2,740.1 L177.9,739.3 L178.6,738.5 L179.3,738 L180,737.3 L180.7,735.9 L181.4,734.8 L182.1,733.9 L182.8,732.7 L183.5,731.3 L184.2,730 L184.9,729.4 L185.6,728.2 L186.3,726.9 L187,725.9 L187.7,725 L188.4,723.8 L189.1,723.3 L189.8,723.9 L190.5,724.8 L191.2,725.2 L191.9,725.8 L192.6,727 L193.3,727.6 L194,728.3 L194.7,729.5 L195.4,730.2 L196.1,730.3 L196.8,730.2 L197.5,730 L198.2,729.7 L198.9,729.5 L199.6,729.4 L200.3,729.1 L201,728.5 L201.7,727.8 L202.4,727 L203.1,726.3 L203.8,725.9 L204.5,725.5 L205.2,724.8 L205.9,724.5 L206.6,724.5 L207.3,724.4 L208,725.3 L208.7,726.5 L209.4,727.2 L210.1,727.6 L210.8,727.8 L211.5,728.4 L212.2,729.4 L212.9,730 L213.6,730.6 L214.3,731.3 L215,731.7 L215.7,732.4 L216.4,733.7 L217.1,735.2 L217.8,736.2 L218.5,736.2 L219.2,735.8 L219.9,735.3 L220.6,735 L221.3,734.1 L222,731.9 L222.7,730.1 L223.4,730.2 L224.1,730.6 L224.8,730 L225.5,729.4 L226.2,728.5 L226.9,727.9 L227.6,727.8 L228.3,727.2 L229,726.9 L229.7,728 L230.4,728.9 L231.1,728.6 L231.8,727.5 L232.5,727.5 L233.2,727.7 L233.9,726.9 L234.6,726.4 L235.3,726.8 L236,726.6 L236.7,724.8 L237.4,723.1 L238.1,722.5 L238.8,722 L239.5,722 L240.2,721.7 L240.9,720.7 L241.6,720.5 L242.3,721 L243,721.7 L243.7,722.9 L244.4,723.6 L245.1,723.4 L245.8,723.8 L246.5,724.8 L247.2,725 L247.9,724.6 L248.6,724.5 L249.3,725.3 L250,726 L250.7,725.8 L251.4,725.9 L252.1,726.9 L252.8,727.5 L253.5,727.2 L254.2,727.5 L254.9,728.8 L255.6,730 L256.3,730.8 L257,731.5 L257.7,732.1 L258.4,732.2 L259.1,731 L259.8,729.7 L260.5,729.5 L261.2,729 L261.9,727.7 L262.6,727.9 L263.3,728.7 L264,728.6 L264.7,728 L265.4,727.4 L266.1,727.5 L266.8,728.6 L267.5,729.3 L268.2,728.7 L268.9,728.2 L269.6,728.4 L270.3,728.5 L271,728.5 L271.7,727.8 L272.4,727.5 L273.1,727.4 L273.8,726.7 L274.5,725.9 L275.2,725.9 L275.9,725.8 L276.6,725 L277.3,725.1 L278,726.2 L278.7,727.1 L279.4,726.7 L280.1,726.2 L280.8,725.9 L281.5,725.9 L282.2,726.5 L282.9,727.7 L283.6,728.2 L284.3,728.5 L285,728.8 L285.7,728.9 L286.4,729.4 L287.1,730.2 L287.8,730.6 L288.5,730.8 L289.2,731.4 L289.9,731.5 L290.6,731 L291.3,729.9 L292,727.9 L292.7,725.9 L293.4,724.2 L294.1,723.3 L294.8,722.1 L295.5,720.6 L296.2,719.6 L296.9,718.8 L297.6,718.2 L298.3,717.9 L299,717.7 L299.7,719.3 L300.4,721.6 L301.1,722.2 L301.8,722.1 L302.5,722.3 L303.2,722.3 L303.9,721.8 L304.6,721.4 L305.3,721.6 L306,722.4 L306.7,722.5 L307.4,721.5 L308.1,720.8 L308.8,720.8 L309.5,720.8 L310.2,721.4 L310.9,722.4 L311.6,723.3 L312.3,724.2 L313,724.3 L313.7,723.3 L314.4,722.5 L315.1,723 L315.8,723.1 L316.5,723.1 L317.2,723.1 L317.9,723.6 L318.6,724.7 L319.3,725.3 L320,725.8 L320.7,725.6 L321.4,725.2 L322.1,725.3 L322.8,725.6 L323.5,725.6 L324.2,725.8 L324.9,725.9 L325.6,726.3 L326.3,727 L327,727.3 L327.7,727.4 L328.4,727.6 L329.1,727.9 L329.8,728.9" stroke="#3f7cc4" stroke-width="1.2" fill="none" stroke-linejoin="round" />
<path d="M37.9,730.8 L38.6,730.7 L39.3,730.1 L40,730.3 L40.7,730.8 L41.4,731.2 L42.1,731.2 L42.8,731.1 L43.5,731.9 L44.2,731.9 L44.9,731 L45.6,730.1 L46.3,729.3 L47,729.1 L47.7,729.2 L48.4,727.6 L49.1,725.7 L49.8,725 L50.5,725.1 L51.2,725.3 L51.9,725.6 L52.6,724.8 L53.3,723.7 L54,722.8 L54.7,721.9 L55.4,722 L56.1,723.1 L56.8,723.9 L57.5,724.1 L58.2,723.6 L58.9,724.1 L59.6,725.8 L60.3,727.8 L61,728.6 L61.7,728.3 L62.4,727.8 L63.1,728.3 L63.8,729.7 L64.5,730.8 L65.2,731.3 L65.9,731.1 L66.6,730.6 L67.3,729.9 L68,729.8 L68.7,729.8 L69.4,729 L70.1,728.1 L70.8,727.8 L71.5,727.4 L72.2,727.1 L72.9,726.1 L73.6,724.2 L74.3,723.2 L75,722.5 L75.7,721.7 L76.4,720.9 L77.1,720.3 L77.8,720 L78.5,720.5 L79.2,721.8 L79.9,722.9 L80.6,724.2 L81.3,726.4 L82,729 L82.7,730.9 L83.4,731.3 L84.1,731.5 L84.8,733.1 L85.5,735 L86.2,735.8 L86.9,736.1 L87.6,736 L88.3,735.6 L89,735.3 L89.7,735.3 L90.4,734.3 L91.1,735.1 L91.8,737.4 L92.5,740.8 L93.2,745.5 L93.9,750.6 L94.6,755.2 L95.3,759.2 L96,763.3 L96.7,767.9 L97.4,772.8 L98.1,778.3 L98.8,784.7 L99.5,791.5 L100.2,798.4 L100.9,804.6 L101.6,810.1 L102.3,814.9 L103,819.3 L103.7,823.6 L104.4,829.1 L105.1,828.3 L105.8,826 L106.5,824 L107.2,822.2 L107.9,820 L108.6,818.2 L109.3,817 L110,815.5 L110.7,812.6 L111.4,809.2 L112.1,806.5 L112.8,804.3 L113.5,802.7 L114.2,801.6 L114.9,800.5 L115.6,799.1 L116.3,796.8 L117,794.3 L117.7,793.3 L118.4,792.5 L119.1,791.3 L119.8,789.6 L120.5,786.8 L121.2,783.4 L121.9,780.8 L122.6,779.8 L123.3,779.3 L124,777.9 L124.7,776.1 L125.4,775.3 L126.1,775.2 L126.8,775.2 L127.5,775.1 L128.2,774.6 L128.9,773.7 L129.6,773.3 L130.3,773.6 L131,773.4 L131.7,772.5 L132.4,772.2 L133.1,771 L133.8,768.6 L134.5,766.9 L135.2,765 L135.9,762.7 L136.6,760.8 L137.3,759.1 L138,757.6 L138.7,756.8 L139.4,756 L140.1,755 L140.8,754.4 L141.5,754.4 L142.2,755 L142.9,755.5 L143.6,754.6 L144.3,753.3 L145,753.6 L145.7,754.3 L146.4,753.4 L147.1,752 L147.8,751.5 L148.5,752.2 L149.2,752.9 L149.9,753.4 L150.6,752.9 L151.3,751.6 L152,751.6 L152.7,752.9 L153.4,754.2 L154.1,753.9 L154.8,752.6 L155.5,751.3 L156.2,750.2 L156.9,748.8 L157.6,747.2 L158.3,745.8 L159,745.1 L159.7,744.1 L160.4,742.6 L161.1,740.8 L161.8,738.4 L162.5,735.7 L163.2,733.4 L163.9,731.7 L164.6,730.6 L165.3,730.3 L166,730.5 L166.7,730.5 L167.4,729.5 L168.1,728.9 L168.8,729.8 L169.5,730.7 L170.2,731.4 L170.9,732.4 L171.6,732.8 L172.3,733.1 L173,733.5 L173.7,733.5 L174.4,734.3 L175.1,735.9 L175.8,736.6 L176.5,736 L177.2,734.8 L177.9,733.7 L178.6,733.4 L179.3,734.4 L180,735.6 L180.7,735.7 L181.4,735.1 L182.1,734.4 L182.8,733.7 L183.5,732.7 L184.2,731.6 L184.9,730.5 L185.6,729.5 L186.3,728.9 L187,729.2 L187.7,729.7 L188.4,729.3 L189.1,728.3 L189.8,727.6 L190.5,727.8 L191.2,728.4 L191.9,729.4 L192.6,730.7 L193.3,731.6 L194,732.2 L194.7,732.2 L195.4,731.8 L196.1,731.7 L196.8,731.4 L197.5,730.7 L198.2,730 L198.9,728.6 L199.6,726.5 L200.3,725.1 L201,724.9 L201.7,724.9 L202.4,725.5 L203.1,726.6 L203.8,726.9 L204.5,726.3 L205.2,726.8 L205.9,727.6 L206.6,727.5 L207.3,727.1 L208,727.2 L208.7,727.8 L209.4,727.6 L210.1,727.2 L210.8,727.5 L211.5,727.7 L212.2,728.1 L212.9,729.1 L213.6,729.6 L214.3,729.2 L215,728.3 L215.7,727 L216.4,726.5 L217.1,727.3 L217.8,727.8 L218.5,727.8 L219.2,727.9 L219.9,727.9 L220.6,728.1 L221.3,727.9 L222,727.7 L222.7,727.9 L223.4,728 L224.1,727.4 L224.8,727.1 L225.5,726.8 L226.2,727.2 L226.9,727.9 L227.6,727.8 L228.3,728.2 L229,729.3 L229.7,730.5 L230.4,731.9 L231.1,733.2 L231.8,735.7 L232.5,738.4 L233.2,739 L233.9,738.4 L234.6,738.5 L235.3,739 L236,739.4 L236.7,738.9 L237.4,737.4 L238.1,735.3 L238.8,734.3 L239.5,734 L240.2,733.4 L240.9,733 L241.6,732.7 L242.3,731.8 L243,730.4 L243.7,729.3 L244.4,729.1 L245.1,729.1 L245.8,729.1 L246.5,729.3 L247.2,728.8 L247.9,728.4 L248.6,728.8 L249.3,729.8 L250,730.8 L250.7,731.1 L251.4,730.2 L252.1,730.2 L252.8,731.8 L253.5,733.9 L254.2,735.2 L254.9,735.6 L255.6,735.6 L256.3,736.1 L257,737.3 L257.7,738.1 L258.4,738.3 L259.1,737.9 L259.8,737.7 L260.5,738.5 L261.2,738.7 L261.9,737.7 L262.6,736.6 L263.3,735.6 L264,735.3 L264.7,735.1 L265.4,734.5 L266.1,733.4 L266.8,732.1 L267.5,730.6 L268.2,728.8 L268.9,728.3 L269.6,729 L270.3,730.2 L271,730.4 L271.7,729.5 L272.4,728.5 L273.1,728.7 L273.8,729.6 L274.5,729.7 L275.2,728.6 L275.9,728.3 L276.6,729.5 L277.3,730.3 L278,730.1 L278.7,729.9 L279.4,730.2 L280.1,730.2 L280.8,729.5 L281.5,728.4 L282.2,727.8 L282.9,728.5 L283.6,728.7 L284.3,728.1 L285,728 L285.7,727.6 L286.4,726.7 L287.1,725.5 L287.8,724.5 L288.5,723.9 L289.2,723.5 L289.9,723.7 L290.6,723.9 L291.3,723.3 L292,723 L292.7,723.7 L293.4,725.4 L294.1,727 L294.8,727.7 L295.5,728 L296.2,728.6 L296.9,729.1 L297.6,729.4 L298.3,729.8 L299,730.6 L299.7,731.9 L300.4,733.1 L301.1,732.9 L301.8,732.2 L302.5,731.9 L303.2,731.2 L303.9,729.9 L304.6,728.6 L305.3,728 L306,728.5 L306.7,728.9 L307.4,727.8 L308.1,726.8 L308.8,726.6 L309.5,725.6 L310.2,724.5 L310.9,724.5 L311.6,724.9 L312.3,725.7 L313,725.9 L313.7,725.2 L314.4,725 L315.1,726 L315.8,726.6 L316.5,726.4 L317.2,725.9 L317.9,725.5 L318.6,726.5 L319.3,728.8 L320,731 L320.7,731.7 L321.4,731.3 L322.1,731.1 L322.8,731.5 L323.5,732.3 L324.2,733.7 L324.9,734.5 L325.6,734.3 L326.3,734.5 L327,734.8 L327.7,734.6 L328.4,734.8 L329.1,735.8 L329.8,736.2" stroke="#3f7cc4" stroke-width="1.2" fill="none" stroke-linejoin="round" />
<path d="M37.9,731.7 L38.6,731.5 L39.3,731.7 L40,731.6 L40.7,731.2 L41.4,731.2 L42.1,730.7 L42.8,729.9 L43.5,729.3 L44.2,729 L44.9,729 L45.6,729.1 L46.3,728.9 L47,728.5 L47.7,728.2 L48.4,728 L49.1,727.9 L49.8,728.6 L50.5,729.7 L51.2,730.7 L51.9,730.9 L52.6,730.5 L53.3,731.2 L54,732 L54.7,732.1 L55.4,732.6 L56.1,734.2 L56.8,735.2 L57.5,734.8 L58.2,733.9 L58.9,733.1 L59.6,732.3 L60.3,730.8 L61,729.6 L61.7,730.1 L62.4,730.4 L63.1,729.6 L63.8,729.5 L64.5,729.6 L65.2,728.5 L65.9,728.2 L66.6,729.1 L67.3,730.3 L68,731.6 L68.7,732.9 L69.4,734 L70.1,734.6 L70.8,735.5 L71.5,737 L72.2,737.7 L72.9,738.1 L73.6,739.1 L74.3,739.6 L75,739.3 L75.7,738.5 L76.4,738.1 L77.1,738.2 L77.8,737.7 L78.5,736.5 L79.2,736.5 L79.9,736.9 L80.6,736.1 L81.3,734.2 L82,732.2 L82.7,731.2 L83.4,730.9 L84.1,730.3 L84.8,729.2 L85.5,728.5 L86.2,727.9 L86.9,727 L87.6,725.6 L88.3,723.9 L89,722.4 L89.7,721.5 L90.4,721.1 L91.1,721.2 L91.8,721.8 L92.5,722 L93.2,722.9 L93.9,726.2 L94.6,730.5 L95.3,734.7 L96,738.3 L96.7,741.5 L97.4,745.2 L98.1,749.6 L98.8,754.1 L99.5,758.6 L100.2,762.1 L100.9,765.2 L101.6,768.6 L102.3,772.4 L103,777 L103.7,781.6 L104.4,785.4 L105.1,789.2 L105.8,793.6 L106.5,798.1 L107.2,802.4 L107.9,807 L108.6,811.6 L109.3,813.1 L110,811.6 L110.7,811.2 L111.4,810.5 L112.1,809.1 L112.8,806.9 L113.5,804.9 L114.2,803.3 L114.9,801.5 L115.6,799.5 L116.3,797.6 L117,795.8 L117.7,792.5 L118.4,788.3 L119.1,784.9 L119.8,782.5 L120.5,780.3 L121.2,778.5 L121.9,777.9 L122.6,776.9 L123.3,775.3 L124,774.2 L124.7,773.2 L125.4,771.2 L126.1,769.8 L126.8,769.5 L127.5,769.4 L128.2,769.2 L128.9,768.8 L129.6,768.2 L130.3,767.2 L131,766.2 L131.7,765.8 L132.4,765 L133.1,763.5 L133.8,762 L134.5,760.8 L135.2,759.2 L135.9,757.1 L136.6,755.2 L137.3,753.9 L138,754 L138.7,754.7 L139.4,753.9 L140.1,752.6 L140.8,751.7 L141.5,750.7 L142.2,750.7 L142.9,750.7 L143.6,749.3 L144.3,748.1 L145,747.5 L145.7,746.7 L146.4,746.2 L147.1,745.9 L147.8,745.1 L148.5,744.4 L149.2,743.8 L149.9,742.8 L150.6,741.8 L151.3,741.1 L152,741.1 L152.7,741.2 L153.4,741.7 L154.1,742.8 L154.8,743.8 L155.5,743.9 L156.2,743.9 L156.9,743.6 L157.6,742.7 L158.3,741.5 L159,740.6 L159.7,739.9 L160.4,739.4 L161.1,738.3 L161.8,737.1 L162.5,735.8 L163.2,735 L163.9,734.6 L164.6,734.2 L165.3,733.6 L166,733.5 L166.7,734.5 L167.4,734.5 L168.1,733.6 L168.8,733.7 L169.5,734.5 L170.2,734.7 L170.9,734.1 L171.6,734.1 L172.3,735.2 L173,736.2 L173.7,736.8 L174.4,736.9 L175.1,736.9 L175.8,736.7 L176.5,736.8 L177.2,737.5 L177.9,737.6 L178.6,737.1 L179.3,736 L180,734.5 L180.7,733.8 L181.4,733.4 L182.1,732.2 L182.8,730.5 L183.5,729.1 L184.2,727.8 L184.9,728.1 L185.6,729.1 L186.3,728.7 L187,727.9 L187.7,727.5 L188.4,727.8 L189.1,729.1 L189.8,730.7 L190.5,732 L191.2,732.6 L191.9,732.6 L192.6,731.8 L193.3,731.3 L194,731.3 L194.7,731.8 L195.4,732.8 L196.1,733.5 L196.8,734.6 L197.5,735.6 L198.2,736.9 L198.9,738.9 L199.6,739.6 L200.3,739.5 L201,739.2 L201.7,739 L202.4,740.2 L203.1,742.6 L203.8,744.9 L204.5,746 L205.2,745.6 L205.9,745.4 L206.6,745.2 L207.3,745.3 L208,745.7 L208.7,745 L209.4,743.5 L210.1,741.9 L210.8,741.6 L211.5,742 L212.2,741 L212.9,737.6 L213.6,734 L214.3,731.6 L215,730.6 L215.7,730.5 L216.4,730.2 L217.1,730.2 L217.8,730.5 L218.5,730.6 L219.2,730.7 L219.9,731.1 L220.6,731.9 L221.3,733 L222,734.4 L222.7,735.7 L223.4,736.9 L224.1,737.6 L224.8,738.2 L225.5,738.6 L226.2,738 L226.9,736.8 L227.6,735.9 L228.3,735.1 L229,733.4 L229.7,731.8 L230.4,730.1 L231.1,728.5 L231.8,727.7 L232.5,726.7 L233.2,725.5 L233.9,724.9 L234.6,725 L235.3,724.9 L236,724.3 L236.7,724.2 L237.4,726.3 L238.1,729 L238.8,730.2 L239.5,730.5 L240.2,731 L240.9,732.1 L241.6,733.1 L242.3,733.7 L243,733.9 L243.7,733.8 L244.4,733.3 L245.1,733.1 L245.8,733.9 L246.5,734.8 L247.2,734.6 L247.9,734.3 L248.6,734.3 L249.3,733.7 L250,732.7 L250.7,731.8 L251.4,730.6 L252.1,729.2 L252.8,727.5 L253.5,725.7 L254.2,724.5 L254.9,724.3 L255.6,724.6 L256.3,724.9 L257,725.7 L257.7,727.3 L258.4,728.9 L259.1,729.8 L259.8,730.1 L260.5,729.9 L261.2,729.6 L261.9,729.4 L262.6,729.1 L263.3,728.9 L264,728.5 L264.7,728 L265.4,728.3 L266.1,728.4 L266.8,727.1 L267.5,725.7 L268.2,726.5 L268.9,728.2 L269.6,729.1 L270.3,729.5 L271,729.7 L271.7,730.1 L272.4,731 L273.1,731.4 L273.8,730.9 L274.5,731 L275.2,730.9 L275.9,730.3 L276.6,730.2 L277.3,729.6 L278,728.8 L278.7,728.7 L279.4,729.6 L280.1,730.5 L280.8,731.2 L281.5,732 L282.2,732.8 L282.9,733.3 L283.6,733.6 L284.3,733.5 L285,733.1 L285.7,732.2 L286.4,730.3 L287.1,728.1 L287.8,726.6 L288.5,726.1 L289.2,725.9 L289.9,725.4 L290.6,725.1 L291.3,725.3 L292,725.8 L292.7,726.4 L293.4,727.3 L294.1,728.5 L294.8,728.5 L295.5,728.7 L296.2,729.7 L296.9,730 L297.6,730 L298.3,731.3 L299,732.8 L299.7,732.4 L300.4,731.8 L301.1,733.7 L301.8,736.3 L302.5,737.5 L303.2,737.1 L303.9,736 L304.6,735 L305.3,734.4 L306,734.4 L306.7,733.9 L307.4,733.1 L308.1,732.7 L308.8,732.5 L309.5,732.4 L310.2,732.6 L310.9,732.6 L311.6,732.6 L312.3,732.2 L313,731.6 L313.7,731.3 L314.4,730.8 L315.1,731.2 L315.8,732.5 L316.5,732.9 L317.2,732.7 L317.9,732.1 L318.6,730.9 L319.3,729.8 L320,729.2 L320.7,729 L321.4,729.5 L322.1,730.2 L322.8,730.3 L323.5,730.1 L324.2,730.1 L324.9,730.2 L325.6,730.4 L326.3,731.2 L327,732.1 L327.7,732.8 L328.4,733 L329.1,732.6 L329.8,732.6" stroke="#3f7cc4" stroke-width="1.2" fill="none" stroke-linejoin="round" />
<path d="M37.9,724.8 L38.6,724.3 L39.3,724.6 L40,725.3 L40.7,725.9 L41.4,725.9 L42.1,725.9 L42.8,726.2 L43.5,727.3 L44.2,728.7 L44.9,729.3 L45.6,729.2 L46.3,728.7 L47,729.4 L47.7,730.9 L48.4,731.3 L49.1,730.8 L49.8,730.1 L50.5,729.4 L51.2,729.6 L51.9,729.9 L52.6,729.2 L53.3,728 L54,727.4 L54.7,727 L55.4,727.1 L56.1,727.4 L56.8,727.7 L57.5,727.8 L58.2,727.4 L58.9,727.2 L59.6,726.7 L60.3,725.7 L61,725.8 L61.7,726.5 L62.4,727.2 L63.1,727.5 L63.8,727.7 L64.5,728.5 L65.2,729.2 L65.9,729.8 L66.6,730.1 L67.3,730.2 L68,729.9 L68.7,729.5 L69.4,729.2 L70.1,728.4 L70.8,728.3 L71.5,728.8 L72.2,728 L72.9,726.4 L73.6,725.2 L74.3,724.8 L75,725.1 L75.7,725.2 L76.4,724.3 L77.1,723.4 L77.8,722.7 L78.5,722.5 L79.2,722.8 L79.9,723.2 L80.6,723.4 L81.3,723.6 L82,724.2 L82.7,725.2 L83.4,726.5 L84.1,728.1 L84.8,729 L85.5,729.7 L86.2,731.2 L86.9,732.4 L87.6,733.4 L88.3,734.6 L89,735.7 L89.7,736.3 L90.4,735.6 L91.1,734.2 L91.8,734.5 L92.5,735.5 L93.2,736.7 L93.9,738.3 L94.6,740.3 L95.3,742.9 L96,745.6 L96.7,747.8 L97.4,750 L98.1,752.4 L98.8,755.5 L99.5,759.5 L100.2,764.2 L100.9,769.1 L101.6,773.2 L102.3,776.5 L103,780.4 L103.7,785.2 L104.4,789.2 L105.1,792.3 L105.8,795.2 L106.5,797.9 L107.2,798.9 L107.9,796.5 L108.6,794.6 L109.3,793 L110,791.1 L110.7,788.6 L111.4,785.9 L112.1,784.1 L112.8,783.6 L113.5,783.4 L114.2,782.4 L114.9,780.9 L115.6,780 L116.3,779.8 L117,780.1 L117.7,779.4 L118.4,777.8 L119.1,777 L119.8,776.7 L120.5,775.8 L121.2,774.6 L121.9,772.9 L122.6,770.6 L123.3,768.9 L124,767.8 L124.7,765.7 L125.4,763.8 L126.1,762.4 L126.8,760.5 L127.5,759.1 L128.2,758.6 L128.9,758.4 L129.6,757.5 L130.3,755.3 L131,752.8 L131.7,751.1 L132.4,749.5 L133.1,748.8 L133.8,748.4 L134.5,747.5 L135.2,746.7 L135.9,745.9 L136.6,744.2 L137.3,741.7 L138,739.5 L138.7,738.3 L139.4,738.2 L140.1,737.9 L140.8,736.4 L141.5,734.8 L142.2,734.1 L142.9,734.7 L143.6,736.4 L144.3,738.2 L145,739.2 L145.7,739.1 L146.4,738.6 L147.1,737.5 L147.8,737 L148.5,737.7 L149.2,737.5 L149.9,736.5 L150.6,735.6 L151.3,734.7 L152,733.7 L152.7,732.4 L153.4,731.6 L154.1,730.5 L154.8,729.6 L155.5,729.6 L156.2,729.3 L156.9,729.5 L157.6,730.2 L158.3,730.7 L159,731.2 L159.7,731.4 L160.4,732.2 L161.1,733.4 L161.8,734.3 L162.5,735.6 L163.2,736.7 L163.9,736.6 L164.6,736.2 L165.3,736.5 L166,736.4 L166.7,735.6 L167.4,735 L168.1,734.8 L168.8,734.3 L169.5,734.1 L170.2,734.5 L170.9,734 L171.6,732.8 L172.3,732.8 L173,734 L173.7,734.4 L174.4,733.6 L175.1,733.5 L175.8,733.3 L176.5,731.8 L177.2,730.6 L177.9,729.4 L178.6,728.6 L179.3,728.3 L180,727.9 L180.7,727 L181.4,726.1 L182.1,725.8 L182.8,726 L183.5,725.9 L184.2,725.9 L184.9,726.3 L185.6,726.3 L186.3,726.6 L187,726.9 L187.7,727.2 L188.4,727.6 L189.1,728.2 L189.8,729 L190.5,728.4 L191.2,726.5 L191.9,725.1 L192.6,724.8 L193.3,724.5 L194,723.5 L194.7,722.5 L195.4,722.9 L196.1,723.7 L196.8,723.7 L197.5,723.9 L198.2,724.4 L198.9,724.9 L199.6,725.2 L200.3,724.6 L201,723.6 L201.7,723.1 L202.4,722.9 L203.1,722.8 L203.8,722.2 L204.5,721.6 L205.2,721.4 L205.9,721.4 L206.6,721.6 L207.3,721.7 L208,722.5 L208.7,724.3 L209.4,725.3 L210.1,725.4 L210.8,726 L211.5,727.4 L212.2,728.6 L212.9,729.5 L213.6,730.1 L214.3,730.9 L215,730.7 L215.7,729.7 L216.4,729.4 L217.1,729.8 L217.8,729.9 L218.5,729.9 L219.2,730.1 L219.9,728.8 L220.6,727.6 L221.3,727.3 L222,726.6 L222.7,726.1 L223.4,726.5 L224.1,727.6 L224.8,729.3 L225.5,730.6 L226.2,731.1 L226.9,730.7 L227.6,730.5 L228.3,730.9 L229,730.6 L229.7,729.5 L230.4,728.4 L231.1,727.4 L231.8,726 L232.5,724.4 L233.2,723.5 L233.9,722.7 L234.6,721.6 L235.3,721 L236,721 L236.7,721.3 L237.4,721.6 L238.1,721 L238.8,720.2 L239.5,720.3 L240.2,721.5 L240.9,723.1 L241.6,724.2 L242.3,724.9 L243,725.6 L243.7,726.9 L244.4,728.3 L245.1,729.6 L245.8,731.3 L246.5,732.7 L247.2,733 L247.9,732.7 L248.6,732.7 L249.3,732.9 L250,732.1 L250.7,731 L251.4,730.1 L252.1,729.3 L252.8,728.6 L253.5,728.4 L254.2,728.2 L254.9,727.5 L255.6,727 L256.3,727.3 L257,727.9 L257.7,728.3 L258.4,728.5 L259.1,728.4 L259.8,728.3 L260.5,728.2 L261.2,728.4 L261.9,729.3 L262.6,730.6 L263.3,732 L264,733.3 L264.7,734 L265.4,734.9 L266.1,736.4 L266.8,736.9 L267.5,736.8 L268.2,738 L268.9,739.3 L269.6,738.8 L270.3,737.4 L271,736.4 L271.7,735.9 L272.4,734.6 L273.1,733.1 L273.8,731.6 L274.5,730.2 L275.2,729 L275.9,727.9 L276.6,726.9 L277.3,726.1 L278,725.5 L278.7,725.4 L279.4,724.9 L280.1,723.6 L280.8,722.4 L281.5,721.8 L282.2,722 L282.9,722.5 L283.6,723 L284.3,723.9 L285,723.6 L285.7,723 L286.4,723.3 L287.1,724 L287.8,724.4 L288.5,724 L289.2,722.8 L289.9,722 L290.6,721.5 L291.3,721.6 L292,722.5 L292.7,723.6 L293.4,724.6 L294.1,724.8 L294.8,724.7 L295.5,725.4 L296.2,726.6 L296.9,727.3 L297.6,727.6 L298.3,727.6 L299,727 L299.7,726.7 L300.4,727 L301.1,726.8 L301.8,726.8 L302.5,726.9 L303.2,726.2 L303.9,725.2 L304.6,724.4 L305.3,723.2 L306,722.7 L306.7,722.8 L307.4,722.9 L308.1,722.9 L308.8,722.5 L309.5,722.1 L310.2,721.5 L310.9,720.9 L311.6,720.4 L312.3,719.9 L313,719.8 L313.7,719.4 L314.4,718.9 L315.1,718.7 L315.8,718.2 L316.5,717.8 L317.2,718.5 L317.9,719.9 L318.6,720.5 L319.3,721 L320,722 L320.7,722.3 L321.4,722.1 L322.1,722.6 L322.8,723.9 L323.5,725.3 L324.2,726.4 L324.9,727.3 L325.6,727.9 L326.3,728.2 L327,728.9 L327.7,729.2 L328.4,728.4 L329.1,727.4 L329.8,726.1" stroke="#3f7cc4" stroke-width="1.2" fill="none" stroke-linejoin="round" />
<path d="M37.9,738.5 L38.6,740 L39.3,740.4 L40,739.9 L40.7,739.9 L41.4,740.7 L42.1,741.2 L42.8,741.3 L43.5,741.8 L44.2,743.1 L44.9,744.6 L45.6,744.9 L46.3,744.1 L47,743.6 L47.7,743 L48.4,742.6 L49.1,742.8 L49.8,742.2 L50.5,740.9 L51.2,739.6 L51.9,738.8 L52.6,739.1 L53.3,739.6 L54,740 L54.7,740.9 L55.4,742.2 L56.1,742.6 L56.8,741.4 L57.5,740.3 L58.2,740.1 L58.9,740.4 L59.6,740.1 L60.3,739.6 L61,740.1 L61.7,740.8 L62.4,741 L63.1,741.3 L63.8,742.2 L64.5,742.9 L65.2,741.9 L65.9,740.3 L66.6,740.2 L67.3,740.8 L68,740.4 L68.7,738.9 L69.4,737 L70.1,735.3 L70.8,734.4 L71.5,733.9 L72.2,732.3 L72.9,731.1 L73.6,731.3 L74.3,731.9 L75,732.6 L75.7,733.6 L76.4,734.5 L77.1,735 L77.8,735.8 L78.5,736.7 L79.2,736.7 L79.9,737.3 L80.6,738.8 L81.3,739.4 L82,739.2 L82.7,738.6 L83.4,737.3 L84.1,735.9 L84.8,734.8 L85.5,733.9 L86.2,732.6 L86.9,731 L87.6,729 L88.3,727.5 L89,727.2 L89.7,727.3 L90.4,727.4 L91.1,727.8 L91.8,728 L92.5,727.8 L93.2,728 L93.9,729.6 L94.6,732.4 L95.3,735.9 L96,739.2 L96.7,742.2 L97.4,746.3 L98.1,750.9 L98.8,754.5 L99.5,757.2 L100.2,760.7 L100.9,765.6 L101.6,770.5 L102.3,774.1 L103,777.2 L103.7,780.7 L104.4,783.4 L105.1,786 L105.8,789.2 L106.5,792.8 L107.2,795 L107.9,794.2 L108.6,793 L109.3,789.9 L110,787 L110.7,785.1 L111.4,783.1 L112.1,780.5 L112.8,778.8 L113.5,778.5 L114.2,778 L114.9,776.7 L115.6,775.5 L116.3,774.7 L117,774.1 L117.7,773.1 L118.4,771.6 L119.1,770.2 L119.8,769.3 L120.5,768.6 L121.2,768.9 L121.9,769 L122.6,767.6 L123.3,766.2 L124,765.8 L124.7,766.1 L125.4,765.8 L126.1,764.9 L126.8,764.2 L127.5,763.3 L128.2,762 L128.9,760.5 L129.6,759.7 L130.3,758.7 L131,757.5 L131.7,755.8 L132.4,753.8 L133.1,752.3 L133.8,750.6 L134.5,748.7 L135.2,747.2 L135.9,747.1 L136.6,747.7 L137.3,747.3 L138,745.7 L138.7,744.1 L139.4,743.4 L140.1,743.4 L140.8,743.5 L141.5,743.5 L142.2,743.7 L142.9,743.8 L143.6,743.2 L144.3,742.2 L145,742.4 L145.7,742.5 L146.4,742 L147.1,742.2 L147.8,742.7 L148.5,742.5 L149.2,741.9 L149.9,741.6 L150.6,741.6 L151.3,741.3 L152,740.7 L152.7,739.4 L153.4,738.1 L154.1,737.9 L154.8,737.9 L155.5,737.4 L156.2,737.3 L156.9,737.7 L157.6,737.1 L158.3,736.4 L159,736.2 L159.7,736.2 L160.4,736.3 L161.1,735.8 L161.8,733.9 L162.5,732.6 L163.2,732.1 L163.9,731.5 L164.6,731.6 L165.3,732.4 L166,732.7 L166.7,732.7 L167.4,733 L168.1,734.2 L168.8,734.6 L169.5,733.7 L170.2,733.3 L170.9,733.6 L171.6,733.9 L172.3,734.7 L173,734.8 L173.7,734.8 L174.4,735.9 L175.1,736.5 L175.8,736.5 L176.5,736.8 L177.2,736.9 L177.9,736.4 L178.6,736 L179.3,736.2 L180,736.8 L180.7,737.2 L181.4,737.2 L182.1,736.8 L182.8,736.6 L183.5,737 L184.2,737.6 L184.9,737.7 L185.6,737.6 L186.3,738.2 L187,739.1 L187.7,739.4 L188.4,739.4 L189.1,738.9 L189.8,737.3 L190.5,735.2 L191.2,733.8 L191.9,733 L192.6,732.2 L193.3,731.3 L194,730.5 L194.7,729.9 L195.4,729.6 L196.1,729.9 L196.8,730.4 L197.5,731.7 L198.2,733.6 L198.9,734.8 L199.6,734.9 L200.3,735 L201,735.4 L201.7,735.5 L202.4,735.8 L203.1,736.9 L203.8,737.5 L204.5,737.1 L205.2,736.3 L205.9,736.1 L206.6,736.2 L207.3,735.6 L208,734.7 L208.7,734 L209.4,733 L210.1,731.9 L210.8,731.3 L211.5,731.7 L212.2,732.5 L212.9,732.4 L213.6,731.5 L214.3,730.5 L215,730 L215.7,729.6 L216.4,728.6 L217.1,727.9 L217.8,728.4 L218.5,728.6 L219.2,727.8 L219.9,726.7 L220.6,726.3 L221.3,726.4 L222,726.6 L222.7,726.6 L223.4,726.1 L224.1,726.5 L224.8,728.2 L225.5,729.9 L226.2,731 L226.9,732.1 L227.6,733.2 L228.3,733.4 L229,732.6 L229.7,731.3 L230.4,730.8 L231.1,731.6 L231.8,731.5 L232.5,729 L233.2,726.8 L233.9,726.1 L234.6,725.9 L235.3,725.9 L236,726.3 L236.7,726.6 L237.4,726 L238.1,725.1 L238.8,724.9 L239.5,725.7 L240.2,726.8 L240.9,727.8 L241.6,729.1 L242.3,730.8 L243,731.6 L243.7,731.2 L244.4,731.1 L245.1,731.6 L245.8,731.6 L246.5,731.4 L247.2,731.8 L247.9,731.6 L248.6,731.3 L249.3,732 L250,733 L250.7,733.2 L251.4,731.9 L252.1,730.6 L252.8,730.5 L253.5,731 L254.2,731.5 L254.9,731.6 L255.6,731.7 L256.3,732.2 L257,733.2 L257.7,733.6 L258.4,733.8 L259.1,734.1 L259.8,734.4 L260.5,734.5 L261.2,734.7 L261.9,735.2 L262.6,735.4 L263.3,734.6 L264,734.9 L264.7,735.6 L265.4,735.5 L266.1,735 L266.8,733.9 L267.5,732.4 L268.2,731.4 L268.9,731.1 L269.6,730.6 L270.3,729.8 L271,730.1 L271.7,731.4 L272.4,732.9 L273.1,733.4 L273.8,733.5 L274.5,733.8 L275.2,734.3 L275.9,736 L276.6,737.6 L277.3,738.1 L278,737.7 L278.7,737 L279.4,736.1 L280.1,735.2 L280.8,734.3 L281.5,733.7 L282.2,733.7 L282.9,733.9 L283.6,734.2 L284.3,734.2 L285,733.8 L285.7,733.6 L286.4,733.6 L287.1,734 L287.8,734.4 L288.5,733.8 L289.2,732.9 L289.9,732.4 L290.6,731.6 L291.3,731 L292,730.3 L292.7,729.2 L293.4,729 L294.1,729.3 L294.8,729.4 L295.5,729.8 L296.2,730.7 L296.9,731.9 L297.6,732.5 L298.3,732.6 L299,733.1 L299.7,734.7 L300.4,736.2 L301.1,736.9 L301.8,736.9 L302.5,736.9 L303.2,737.7 L303.9,738.3 L304.6,737.7 L305.3,736.5 L306,735.6 L306.7,734.6 L307.4,733.3 L308.1,732.7 L308.8,732.6 L309.5,732 L310.2,731.8 L310.9,731.5 L311.6,730.4 L312.3,728.9 L313,727.9 L313.7,728.4 L314.4,729.3 L315.1,729.4 L315.8,728.8 L316.5,728 L317.2,728.6 L317.9,729.7 L318.6,730.3 L319.3,729.9 L320,730.4 L320.7,731.4 L321.4,731.8 L322.1,731.7 L322.8,731.7 L323.5,732.3 L324.2,733.5 L324.9,734.4 L325.6,734.7 L326.3,734.9 L327,734.6 L327.7,734 L328.4,734.9 L329.1,736.1 L329.8,735.8" stroke="#3f7cc4" stroke-width="1.2" fill="none" stroke-linejoin="round" />
<path d="M37.9,730.9 L38.6,730.8 L39.3,730.6 L40,730.3 L40.7,729.7 L41.4,729.1 L42.1,728.9 L42.8,729.3 L43.5,729.1 L44.2,728.5 L44.9,728.4 L45.6,727.4 L46.3,725.6 L47,724.2 L47.7,723.2 L48.4,722.2 L49.1,721 L49.8,719.4 L50.5,717.8 L51.2,717.6 L51.9,717.3 L52.6,716.7 L53.3,717.7 L54,719.8 L54.7,721 L55.4,721.2 L56.1,721.2 L56.8,721.4 L57.5,721.6 L58.2,721.9 L58.9,722.1 L59.6,723 L60.3,724.7 L61,726.7 L61.7,728.3 L62.4,728.6 L63.1,729.2 L63.8,729.4 L64.5,729.1 L65.2,729.3 L65.9,729.2 L66.6,727.9 L67.3,726.5 L68,725.4 L68.7,724.5 L69.4,724.1 L70.1,724.2 L70.8,724.5 L71.5,724.6 L72.2,724.6 L72.9,724.4 L73.6,724.2 L74.3,724.4 L75,724.7 L75.7,724.2 L76.4,723.2 L77.1,722.4 L77.8,722.5 L78.5,723 L79.2,722.3 L79.9,721.1 L80.6,719.9 L81.3,718.9 L82,718.1 L82.7,716.4 L83.4,714.8 L84.1,714.1 L84.8,713.7 L85.5,713 L86.2,712.2 L86.9,711.1 L87.6,709.9 L88.3,709.6 L89,710.5 L89.7,711 L90.4,711.2 L91.1,712 L91.8,712.6 L92.5,713.5 L93.2,715.3 L93.9,716.8 L94.6,717.5 L95.3,718.2 L96,719.5 L96.7,721.6 L97.4,723.4 L98.1,724.5 L98.8,725.6 L99.5,726.9 L100.2,727.4 L100.9,727.2 L101.6,726.6 L102.3,726.5 L103,726.6 L103.7,725.3 L104.4,722.8 L105.1,720.9 L105.8,719.1 L106.5,716.9 L107.2,715.7 L107.9,715.1 L108.6,714 L109.3,713 L110,712.6 L110.7,712.4 L111.4,713 L112.1,714.2 L112.8,715.6 L113.5,716.9 L114.2,717.7 L114.9,717.6 L115.6,717.6 L116.3,718.2 L117,717.9 L117.7,717.3 L118.4,718 L119.1,719.1 L119.8,720.1 L120.5,721 L121.2,721.9 L121.9,722.1 L122.6,721.4 L123.3,720.8 L124,720.5 L124.7,720.2 L125.4,719.8 L126.1,719.2 L126.8,718.6 L127.5,717.1 L128.2,715.8 L128.9,715.6 L129.6,715.2 L130.3,714.1 L131,713.8 L131.7,715.3 L132.4,717 L133.1,717.5 L133.8,717.6 L134.5,718 L135.2,718.6 L135.9,719.6 L136.6,720.5 L137.3,720.9 L138,721.1 L138.7,721.8 L139.4,723.1 L140.1,724.9 L140.8,725.4 L141.5,725.2 L142.2,726.1 L142.9,726.8 L143.6,726.6 L144.3,727.3 L145,728.3 L145.7,728.5 L146.4,728.1 L147.1,727.8 L147.8,728.2 L148.5,728.2 L149.2,726.8 L149.9,725 L150.6,723.9 L151.3,723.2 L152,723.9 L152.7,724.8 L153.4,724.9 L154.1,725 L154.8,725.3 L155.5,725.3 L156.2,725.4 L156.9,724.8 L157.6,724.5 L158.3,725.1 L159,724.9 L159.7,723.8 L160.4,722.5 L161.1,721.7 L161.8,721.5 L162.5,721.9 L163.2,721.3 L163.9,719.6 L164.6,718.8 L165.3,718 L166,716.9 L166.7,715.3 L167.4,713.9 L168.1,714.3 L168.8,715.1 L169.5,714.9 L170.2,714.4 L170.9,714.8 L171.6,715.7 L172.3,716.3 L173,717.2 L173.7,718.2 L174.4,719.7 L175.1,721.8 L175.8,722.6 L176.5,722.2 L177.2,721.6 L177.9,721 L178.6,720.6 L179.3,720.8 L180,720.7 L180.7,720.5 L181.4,720.3 L182.1,720 L182.8,719.7 L183.5,719.1 L184.2,717.9 L184.9,717 L185.6,716.7 L186.3,716.9 L187,717.8 L187.7,718.3 L188.4,718.7 L189.1,720.6 L189.8,722.7 L190.5,723.4 L191.2,723.1 L191.9,721.9 L192.6,720.8 L193.3,721.1 L194,721.2 L194.7,720.2 L195.4,718.4 L196.1,716.3 L196.8,714.5 L197.5,713.4 L198.2,713.2 L198.9,712.9 L199.6,712.8 L200.3,713.4 L201,713.9 L201.7,714.6 L202.4,715.7 L203.1,716.8 L203.8,717.6 L204.5,717.8 L205.2,716.7 L205.9,716.3 L206.6,717.6 L207.3,719.1 L208,719.9 L208.7,720.5 L209.4,721.6 L210.1,722.7 L210.8,723.1 L211.5,723.4 L212.2,723.6 L212.9,723.7 L213.6,724 L214.3,724.6 L215,724.9 L215.7,724.3 L216.4,723.1 L217.1,721.5 L217.8,720.3 L218.5,719.8 L219.2,719.5 L219.9,719.4 L220.6,719.3 L221.3,718.9 L222,718.5 L222.7,718.3 L223.4,719 L224.1,720 L224.8,720.4 L225.5,720.6 L226.2,721 L226.9,721.7 L227.6,722 L228.3,721.7 L229,722.3 L229.7,722.9 L230.4,722.6 L231.1,722.6 L231.8,723.8 L232.5,724.8 L233.2,725.2 L233.9,726 L234.6,727.2 L235.3,728.1 L236,728.2 L236.7,727.7 L237.4,728.4 L238.1,730.2 L238.8,731.1 L239.5,730.3 L240.2,728.8 L240.9,727.5 L241.6,725.7 L242.3,723.2 L243,720.6 L243.7,717.8 L244.4,715.8 L245.1,715.4 L245.8,714.8 L246.5,714 L247.2,713.2 L247.9,712.4 L248.6,712.3 L249.3,713.4 L250,714.9 L250.7,716.4 L251.4,717.3 L252.1,717 L252.8,717.4 L253.5,719.1 L254.2,720.5 L254.9,721.2 L255.6,721.6 L256.3,722 L257,722.8 L257.7,724 L258.4,724.6 L259.1,724.1 L259.8,723 L260.5,722.4 L261.2,722.7 L261.9,723.2 L262.6,722.8 L263.3,722.6 L264,723.2 L264.7,722.7 L265.4,721.1 L266.1,720 L266.8,720.3 L267.5,720.6 L268.2,720.9 L268.9,720.8 L269.6,721 L270.3,721.3 L271,721.3 L271.7,722.3 L272.4,723.1 L273.1,722.9 L273.8,722.8 L274.5,723.2 L275.2,722.8 L275.9,721.2 L276.6,719.8 L277.3,718.5 L278,717.5 L278.7,717.1 L279.4,716.2 L280.1,715.1 L280.8,714.6 L281.5,714.3 L282.2,714.1 L282.9,714 L283.6,713.9 L284.3,714.4 L285,715.2 L285.7,715.8 L286.4,716.2 L287.1,718 L287.8,720.4 L288.5,722.2 L289.2,723.7 L289.9,725.6 L290.6,727.1 L291.3,726.9 L292,725.1 L292.7,723.2 L293.4,722.5 L294.1,722.3 L294.8,721 L295.5,719.1 L296.2,718.5 L296.9,719.1 L297.6,718.9 L298.3,718.3 L299,718.3 L299.7,718.5 L300.4,719.2 L301.1,719.5 L301.8,719.5 L302.5,720.4 L303.2,722.1 L303.9,723.9 L304.6,725.3 L305.3,726.3 L306,727.3 L306.7,728.4 L307.4,728.7 L308.1,728.4 L308.8,728.3 L309.5,728.4 L310.2,727.9 L310.9,726.3 L311.6,724.9 L312.3,724.1 L313,723.9 L313.7,724.3 L314.4,724.2 L315.1,723.7 L315.8,724.2 L316.5,724.8 L317.2,724.7 L317.9,725.1 L318.6,725.5 L319.3,725.6 L320,725.7 L320.7,725.5 L321.4,724.6 L322.1,725 L322.8,725.5 L323.5,725 L324.2,723.9 L324.9,723.1 L325.6,722.6 L326.3,721.9 L327,721.1 L327.7,719.8 L328.4,718 L329.1,716.8 L329.8,716.9" stroke="#3f7cc4" stroke-width="1.2" fill="none" stroke-linejoin="round" />
<path d="M37.9,729.3 L38.6,728.1 L39.3,727 L40,726.4 L40.7,726 L41.4,726.3 L42.1,726.3 L42.8,725.5 L43.5,725.1 L44.2,725.4 L44.9,726.6 L45.6,727.8 L46.3,728.9 L47,730.4 L47.7,731.4 L48.4,731.3 L49.1,730.9 L49.8,731.3 L50.5,732.9 L51.2,734.5 L51.9,735.9 L52.6,737.1 L53.3,738.2 L54,739.3 L54.7,740.2 L55.4,742.1 L56.1,744.9 L56.8,746.6 L57.5,746.5 L58.2,746.2 L58.9,746.9 L59.6,747.1 L60.3,745.8 L61,743.8 L61.7,741.8 L62.4,740.2 L63.1,738.7 L63.8,737.1 L64.5,735.5 L65.2,734.4 L65.9,733.9 L66.6,733.7 L67.3,733.4 L68,732.8 L68.7,731.5 L69.4,730 L70.1,729.3 L70.8,729 L71.5,729 L72.2,728.7 L72.9,728.1 L73.6,727.6 L74.3,726.8 L75,725.5 L75.7,725.1 L76.4,725.5 L77.1,725.3 L77.8,724.6 L78.5,724.9 L79.2,725.7 L79.9,726.4 L80.6,726.8 L81.3,726.9 L82,727.4 L82.7,728.5 L83.4,729.5 L84.1,730 L84.8,729.9 L85.5,729.5 L86.2,729.1 L86.9,729.1 L87.6,728.2 L88.3,726.9 L89,725.9 L89.7,725.9 L90.4,726.7 L91.1,727.1 L91.8,727.5 L92.5,729.2 L93.2,730.6 L93.9,730.7 L94.6,730.4 L95.3,730.9 L96,732.2 L96.7,732.9 L97.4,733.6 L98.1,734 L98.8,734.2 L99.5,735.1 L100.2,735.7 L100.9,735.4 L101.6,734.9 L102.3,735.1 L103,735.2 L103.7,734.2 L104.4,732.8 L105.1,731.9 L105.8,731.8 L106.5,731.9 L107.2,731.7 L107.9,731.8 L108.6,732.5 L109.3,733.4 L110,733.7 L110.7,733 L111.4,732.5 L112.1,733.4 L112.8,734.3 L113.5,734.2 L114.2,733.8 L114.9,733.3 L115.6,732.6 L116.3,732.3 L117,732.5 L117.7,732.2 L118.4,732.2 L119.1,733 L119.8,733.9 L120.5,734.4 L121.2,735.1 L121.9,736 L122.6,736.9 L123.3,737.5 L124,737 L124.7,735.7 L125.4,735.6 L126.1,736.5 L126.8,736.2 L127.5,734.9 L128.2,733.7 L128.9,733.2 L129.6,733.4 L130.3,733.4 L131,732.6 L131.7,732.5 L132.4,733 L133.1,732.9 L133.8,732.2 L134.5,731.8 L135.2,731.7 L135.9,731.8 L136.6,732 L137.3,731.6 L138,730.9 L138.7,730.8 L139.4,731.3 L140.1,731.7 L140.8,732.6 L141.5,733.6 L142.2,734.2 L142.9,735.9 L143.6,738 L144.3,738.3 L145,737.2 L145.7,736.9 L146.4,737.7 L147.1,737.9 L147.8,737.1 L148.5,736.5 L149.2,736.1 L149.9,735.6 L150.6,735.7 L151.3,735.7 L152,735.1 L152.7,733.6 L153.4,732.5 L154.1,732.6 L154.8,732.9 L155.5,732.4 L156.2,731.6 L156.9,731.1 L157.6,731 L158.3,730.4 L159,730.1 L159.7,731 L160.4,731.7 L161.1,731.4 L161.8,730.7 L162.5,730.8 L163.2,732.8 L163.9,735 L164.6,736.4 L165.3,737.6 L166,738.8 L166.7,740 L167.4,741 L168.1,741.9 L168.8,743.3 L169.5,744.3 L170.2,744.5 L170.9,744 L171.6,744.7 L172.3,746.1 L173,746.8 L173.7,746.4 L174.4,745.3 L175.1,745.3 L175.8,745.5 L176.5,744.4 L177.2,742.6 L177.9,740.5 L178.6,738.7 L179.3,737.2 L180,735.4 L180.7,733.5 L181.4,732.4 L182.1,731.6 L182.8,730.7 L183.5,730 L184.2,729.9 L184.9,730.1 L185.6,730 L186.3,729.8 L187,730 L187.7,730.2 L188.4,730.5 L189.1,731.9 L189.8,732.4 L190.5,731.2 L191.2,730.8 L191.9,731.3 L192.6,731.3 L193.3,730.9 L194,731.1 L194.7,731.7 L195.4,732.2 L196.1,732.6 L196.8,733.4 L197.5,734 L198.2,734.2 L198.9,734.5 L199.6,734.3 L200.3,734.2 L201,734.5 L201.7,734 L202.4,733.1 L203.1,733.6 L203.8,733.9 L204.5,733.2 L205.2,732.3 L205.9,730.8 L206.6,729.9 L207.3,730.2 L208,730.8 L208.7,730.7 L209.4,730 L210.1,729.9 L210.8,730 L211.5,729.8 L212.2,729.3 L212.9,729.1 L213.6,728.6 L214.3,728.2 L215,728.1 L215.7,728 L216.4,727.7 L217.1,728 L217.8,728.3 L218.5,727.9 L219.2,728.2 L219.9,729.3 L220.6,730.1 L221.3,731.3 L222,732 L222.7,731.4 L223.4,730.9 L224.1,731.6 L224.8,732.3 L225.5,732.3 L226.2,732.1 L226.9,731.5 L227.6,731.5 L228.3,731.7 L229,732.1 L229.7,732.6 L230.4,733.2 L231.1,734.1 L231.8,735.4 L232.5,736.4 L233.2,736.2 L233.9,735.9 L234.6,736 L235.3,735.9 L236,735.6 L236.7,734.8 L237.4,733.6 L238.1,732.4 L238.8,731.1 L239.5,730.2 L240.2,729.7 L240.9,728.7 L241.6,726.7 L242.3,725.2 L243,725 L243.7,725 L244.4,725.1 L245.1,725.1 L245.8,725.8 L246.5,727.3 L247.2,727.6 L247.9,727.5 L248.6,728 L249.3,728.6 L250,729.3 L250.7,730 L251.4,730.6 L252.1,730.9 L252.8,730.8 L253.5,731.5 L254.2,732.8 L254.9,734 L255.6,734.7 L256.3,735.3 L257,736.4 L257.7,737.2 L258.4,737.2 L259.1,736.3 L259.8,734.9 L260.5,734.2 L261.2,733.4 L261.9,731.9 L262.6,730.5 L263.3,729.2 L264,727.8 L264.7,727.6 L265.4,728.4 L266.1,728.9 L266.8,729.2 L267.5,729.1 L268.2,729.6 L268.9,730.2 L269.6,730.3 L270.3,731 L271,732 L271.7,732.3 L272.4,732.5 L273.1,732.4 L273.8,732.1 L274.5,732.2 L275.2,732.2 L275.9,731.7 L276.6,731.5 L277.3,731.9 L278,732.8 L278.7,733.5 L279.4,732.7 L280.1,731.3 L280.8,730.9 L281.5,731.7 L282.2,732.5 L282.9,732.2 L283.6,731.2 L284.3,730.9 L285,731.9 L285.7,733 L286.4,733.9 L287.1,734.5 L287.8,734.6 L288.5,734.1 L289.2,733.4 L289.9,732.2 L290.6,731.6 L291.3,731.8 L292,731.9 L292.7,731.4 L293.4,731.1 L294.1,732.1 L294.8,732.7 L295.5,732.9 L296.2,733.9 L296.9,735.9 L297.6,737.5 L298.3,737.2 L299,736 L299.7,735.5 L300.4,735 L301.1,734 L301.8,733.2 L302.5,732.7 L303.2,732.2 L303.9,731.5 L304.6,731.1 L305.3,731.2 L306,731.5 L306.7,732 L307.4,733.2 L308.1,733.4 L308.8,732.5 L309.5,732.2 L310.2,732.5 L310.9,732.3 L311.6,731.3 L312.3,730.1 L313,729.6 L313.7,729.6 L314.4,729.1 L315.1,728.2 L315.8,727.7 L316.5,727.7 L317.2,727.4 L317.9,727.4 L318.6,728.2 L319.3,729.3 L320,730.5 L320.7,731.2 L321.4,731 L322.1,730.3 L322.8,729.9 L323.5,730.1 L324.2,730.3 L324.9,729.9 L325.6,728.9 L326.3,728.6 L327,728.3 L327.7,727.2 L328.4,726.4 L329.1,726.2 L329.8,726.3" stroke="#3f7cc4" stroke-width="1.2" fill="none" stroke-linejoin="round" />
<path d="M369.7,696.4 L370.4,696.8 L371.1,697.9 L371.8,699.8 L372.5,700.8 L373.2,702.4 L373.9,704.6 L374.6,705.7 L375.3,706.3 L376,707.4 L376.7,708.1 L377.4,708.3 L378.1,709.3 L378.8,711.5 L379.5,713.1 L380.2,714 L380.9,715.4 L381.6,717.7 L382.3,720 L383,721.2 L383.7,721.3 L384.4,721 L385.1,720.1 L385.8,720 L386.5,721 L387.2,721.3 L387.9,721.2 L388.6,721.4 L389.3,722.3 L390,723.1 L390.7,723 L391.4,722.9 L392.1,723 L392.8,723.6 L393.5,723.8 L394.2,723.6 L394.9,723.4 L395.6,724.2 L396.3,724.7 L397,723.7 L397.7,722.5 L398.4,723.4 L399.1,724.3 L399.8,723.6 L400.5,722.8 L401.2,722.8 L401.9,722.7 L402.6,722.1 L403.3,722 L404,721.7 L404.7,720.6 L405.4,720.5 L406.1,721.7 L406.8,722.9 L407.5,723 L408.2,722.4 L408.9,721.9 L409.6,722.3 L410.3,722.6 L411,722.6 L411.7,723.8 L412.4,725 L413.1,724.5 L413.8,722.5 L414.5,720.9 L415.2,720.1 L415.9,720 L416.6,720.3 L417.3,721.1 L418,721.7 L418.7,721.8 L419.4,722.1 L420.1,722.5 L420.8,722.4 L421.5,722.4 L422.2,723 L422.9,722.5 L423.6,720.3 L424.3,718.1 L425,716.7 L425.7,715.3 L426.4,713.5 L427.1,712.6 L427.8,713.4 L428.5,713.5 L429.2,712 L429.9,710.4 L430.6,709.8 L431.3,709.3 L432,707.9 L432.7,706.7 L433.4,706.6 L434.1,707.2 L434.8,707.7 L435.5,708.5 L436.2,709.5 L436.9,709.7 L437.6,709.9 L438.3,711.5 L439,714 L439.7,715.7 L440.4,716.5 L441.1,717.1 L441.8,718.3 L442.5,718.5 L443.2,717.7 L443.9,717.2 L444.6,717.4 L445.3,718.7 L446,719.6 L446.7,719.9 L447.4,721 L448.1,722.5 L448.8,722.8 L449.5,722 L450.2,721.3 L450.9,721.4 L451.6,722.1 L452.3,723.7 L453,724.6 L453.7,724.8 L454.4,725.3 L455.1,726 L455.8,726.9 L456.5,727.5 L457.2,726.9 L457.9,726.2 L458.6,727.4 L459.3,729.1 L460,729.1 L460.7,727.7 L461.4,726.6 L462.1,726.4 L462.8,726.4 L463.5,726.2 L464.2,726 L464.9,726.4 L465.6,726.7 L466.3,725.9 L467,724.1 L467.7,722.5 L468.4,722.3 L469.1,723.2 L469.8,724.5 L470.5,723.9 L471.2,722.2 L471.9,721.8 L472.6,722.1 L473.3,722.9 L474,723.6 L474.7,722.9 L475.4,722.4 L476.1,722.8 L476.8,723.3 L477.5,723.4 L478.2,723 L478.9,722.2 L479.6,721.6 L480.3,720.6 L481,719.6 L481.7,719 L482.4,718.7 L483.1,718.7 L483.8,718.2 L484.5,717.5 L485.2,717.8 L485.9,718.5 L486.6,719.2 L487.3,721.2 L488,722.8 L488.7,722.2 L489.4,720.8 L490.1,720.8 L490.8,721.7 L491.5,722 L492.2,721.4 L492.9,721.5 L493.6,722.1 L494.3,721.9 L495,720.9 L495.7,719.9 L496.4,719.9 L497.1,720.9 L497.8,721.7 L498.5,722.2 L499.2,723.1 L499.9,722.9 L500.6,722.2 L501.3,722.4 L502,722.7 L502.7,723.5 L503.4,725.4 L504.1,726.3 L504.8,725.5 L505.5,724.7 L506.2,724.3 L506.9,723.9 L507.6,723.7 L508.3,723.7 L509,724.1 L509.7,723.8 L510.4,721.9 L511.1,719.8 L511.8,719.3 L512.5,719.5 L513.2,719.2 L513.9,718.6 L514.6,717.6 L515.3,717.1 L516,716.9 L516.7,717 L517.4,716.6 L518.1,715.5 L518.8,715.5 L519.5,715.8 L520.2,715.6 L520.9,714.8 L521.6,714.9 L522.3,715.5 L523,714.7 L523.7,714.1 L524.4,714.6 L525.1,714.8 L525.8,714.8 L526.5,715.2 L527.2,716 L527.9,716.3 L528.6,716.1 L529.3,716 L530,714.8 L530.7,713.2 L531.4,713.7 L532.1,714.6 L532.8,714.2 L533.5,713.7 L534.2,713.9 L534.9,714.3 L535.6,715 L536.3,716.8 L537,718.7 L537.7,719.5 L538.4,719.9 L539.1,720.9 L539.8,722.3 L540.5,724.6 L541.2,726.7 L541.9,727.7 L542.6,728.7 L543.3,730.2 L544,730.8 L544.7,730.5 L545.4,729.4 L546.1,728.6 L546.8,728.6 L547.5,728.3 L548.2,726.5 L548.9,724.9 L549.6,724.8 L550.3,725 L551,724.4 L551.7,723.4 L552.4,722.6 L553.1,721.5 L553.8,720.9 L554.5,721.3 L555.2,721 L555.9,720.5 L556.6,720.4 L557.3,719.6 L558,718.2 L558.7,717.6 L559.4,718 L560.1,718.1 L560.8,717.3 L561.5,716.6 L562.2,715.8 L562.9,714.8 L563.6,715.1 L564.3,716.4 L565,717.5 L565.7,718.2 L566.4,719 L567.1,719.8 L567.8,721.2 L568.5,722.2 L569.2,722.4 L569.9,722.3 L570.6,722.2 L571.3,722.8 L572,723 L572.7,722.8 L573.4,722.8 L574.1,722.8 L574.8,722.7 L575.5,722.3 L576.2,721.8 L576.9,721.5 L577.6,723.1 L578.3,725 L579,724.9 L579.7,724.8 L580.4,726.4 L581.1,728.6 L581.8,729.6 L582.5,727.9 L583.2,725.4 L583.9,724.8 L584.6,725.3 L585.3,725 L586,725 L586.7,725.6 L587.4,725 L588.1,723.7 L588.8,723.3 L589.5,723.5 L590.2,723.3 L590.9,722.5 L591.6,721.5 L592.3,721.5 L593,722.1 L593.7,722.6 L594.4,722.7 L595.1,722.5 L595.8,723.2 L596.5,724.6 L597.2,725.8 L597.9,725.4 L598.6,723.6 L599.3,723.2 L600,724.5 L600.7,725.2 L601.4,725 L602.1,724.8 L602.8,725.7 L603.5,726 L604.2,725.3 L604.9,725.1 L605.6,725.2 L606.3,725.7 L607,726.2 L607.7,725.9 L608.4,725.1 L609.1,724.3 L609.8,723.4 L610.5,722.4 L611.2,720.2 L611.9,717.5 L612.6,715.7 L613.3,714.9 L614,715.2 L614.7,715.4 L615.4,714.7 L616.1,714.1 L616.8,713.8 L617.5,714.4 L618.2,715.1 L618.9,715.5 L619.6,715.6 L620.3,715 L621,714.3 L621.7,714.3 L622.4,714.4 L623.1,716.2 L623.8,718.6 L624.5,718.9 L625.2,717.6 L625.9,717.2 L626.6,717.2 L627.3,717 L628,716.9 L628.7,717.6 L629.4,718.6 L630.1,719 L630.8,719 L631.5,718.5 L632.2,718.1 L632.9,718.3 L633.6,718.4 L634.3,718.2 L635,718.8 L635.7,720.6 L636.4,721.5 L637.1,721.2 L637.8,720.9 L638.5,721 L639.2,721.9 L639.9,723.1 L640.6,724.2 L641.3,725.7 L642,727.4 L642.7,728.5 L643.4,729.4 L644.1,730.9 L644.8,733.1 L645.5,735 L646.2,735.8 L646.9,735.2 L647.6,734.5 L648.3,734.4 L649,733.9 L649.7,732.7 L650.4,731.3 L651.1,729.6 L651.8,728.1 L652.5,726.8 L653.2,725.1 L653.9,722.8 L654.6,721.2 L655.3,721.2 L656,720.7 L656.7,718.3 L657.4,717.1 L658.1,716.8 L658.8,716.3 L659.5,715.8 L660.2,716.5 L660.9,717.2 L661.6,717.6 L662.3,718.2 L663,717.9" stroke="#3f7cc4" stroke-width="1.2" fill="none" stroke-linejoin="round" />
<path d="M369.7,727.3 L370.4,728 L371.1,727.6 L371.8,726.4 L372.5,725.8 L373.2,725.6 L373.9,723.9 L374.6,720.8 L375.3,719 L376,718.2 L376.7,717 L377.4,715.8 L378.1,715.4 L378.8,715.2 L379.5,714.9 L380.2,714.4 L380.9,713.9 L381.6,713.1 L382.3,713.5 L383,715.4 L383.7,716.3 L384.4,716.4 L385.1,718 L385.8,719.8 L386.5,721.8 L387.2,723.8 L387.9,725.7 L388.6,727.2 L389.3,727.3 L390,726.8 L390.7,727.3 L391.4,728.2 L392.1,727.8 L392.8,727.1 L393.5,726.9 L394.2,727.1 L394.9,725.6 L395.6,723.7 L396.3,722.9 L397,722.2 L397.7,721.2 L398.4,721.1 L399.1,721.5 L399.8,721.4 L400.5,721.4 L401.2,721.1 L401.9,720.6 L402.6,720.3 L403.3,719.6 L404,718.3 L404.7,716.9 L405.4,715.6 L406.1,714.5 L406.8,714.9 L407.5,715.7 L408.2,715.4 L408.9,714.5 L409.6,713.4 L410.3,713.4 L411,714 L411.7,714.4 L412.4,714.7 L413.1,715.3 L413.8,716.2 L414.5,717.4 L415.2,718.6 L415.9,720 L416.6,721.5 L417.3,722.9 L418,724.3 L418.7,726 L419.4,727.2 L420.1,727.6 L420.8,728.3 L421.5,728.5 L422.2,728 L422.9,728.9 L423.6,729.8 L424.3,729.6 L425,729.3 L425.7,728.5 L426.4,727.3 L427.1,726.4 L427.8,725.1 L428.5,724.2 L429.2,722.6 L429.9,720.2 L430.6,718.7 L431.3,718.9 L432,717.1 L432.7,714.6 L433.4,712.9 L434.1,711.3 L434.8,709.3 L435.5,708.7 L436.2,710.3 L436.9,712.4 L437.6,714.3 L438.3,715.5 L439,715.4 L439.7,714.4 L440.4,714 L441.1,715.1 L441.8,717.8 L442.5,719.4 L443.2,719.4 L443.9,720.6 L444.6,722.1 L445.3,722.6 L446,722.7 L446.7,722.8 L447.4,722.5 L448.1,723.4 L448.8,724.7 L449.5,724.2 L450.2,724.3 L450.9,725.6 L451.6,725.7 L452.3,725.3 L453,725.3 L453.7,724.9 L454.4,723.8 L455.1,722.3 L455.8,721.1 L456.5,720.9 L457.2,720.8 L457.9,720.1 L458.6,720 L459.3,721.2 L460,721.7 L460.7,720.4 L461.4,720 L462.1,721.1 L462.8,722.3 L463.5,723.1 L464.2,722.9 L464.9,721.5 L465.6,720.5 L466.3,721.2 L467,722.6 L467.7,722.7 L468.4,721.4 L469.1,719.8 L469.8,718.6 L470.5,718.6 L471.2,719.7 L471.9,720.5 L472.6,720.4 L473.3,720.4 L474,720.1 L474.7,719.7 L475.4,720.8 L476.1,721.6 L476.8,720.7 L477.5,720.2 L478.2,720.4 L478.9,719.7 L479.6,718.9 L480.3,718.5 L481,717.7 L481.7,716.9 L482.4,715.9 L483.1,714.6 L483.8,714.5 L484.5,715.1 L485.2,715.2 L485.9,716 L486.6,716.9 L487.3,716.2 L488,716.4 L488.7,718.5 L489.4,720.5 L490.1,721.9 L490.8,723.3 L491.5,723.8 L492.2,724.8 L492.9,726.3 L493.6,726.5 L494.3,725.8 L495,726.1 L495.7,727.3 L496.4,728.2 L497.1,728.5 L497.8,728.3 L498.5,727.8 L499.2,726.9 L499.9,725.3 L500.6,723.6 L501.3,722.1 L502,721.6 L502.7,722.8 L503.4,723.2 L504.1,721.8 L504.8,721.1 L505.5,721.2 L506.2,721.8 L506.9,723 L507.6,723.2 L508.3,721.6 L509,720.6 L509.7,721.6 L510.4,722.4 L511.1,722.7 L511.8,722.8 L512.5,723.6 L513.2,724 L513.9,723.3 L514.6,723.1 L515.3,724.1 L516,724.9 L516.7,724.4 L517.4,723 L518.1,722.5 L518.8,722.8 L519.5,723.2 L520.2,722.8 L520.9,722.4 L521.6,722.7 L522.3,723 L523,722.8 L523.7,722.4 L524.4,722.5 L525.1,722.9 L525.8,724.2 L526.5,724.7 L527.2,723.7 L527.9,721.9 L528.6,720.3 L529.3,719.4 L530,718.6 L530.7,717.7 L531.4,717.3 L532.1,716.7 L532.8,715.7 L533.5,715.5 L534.2,716 L534.9,716.5 L535.6,716.6 L536.3,716.7 L537,717.3 L537.7,718.6 L538.4,720 L539.1,720.9 L539.8,720.8 L540.5,720.1 L541.2,719.6 L541.9,719.4 L542.6,718.4 L543.3,718 L544,717.2 L544.7,716.2 L545.4,715.9 L546.1,716 L546.8,715.9 L547.5,715.5 L548.2,715.9 L548.9,717.4 L549.6,718 L550.3,717.6 L551,717.9 L551.7,718.5 L552.4,718.5 L553.1,718.1 L553.8,717.9 L554.5,717.9 L555.2,718.1 L555.9,718.9 L556.6,720.2 L557.3,721 L558,720.7 L558.7,720.6 L559.4,721.2 L560.1,720.9 L560.8,720.1 L561.5,719.1 L562.2,718.6 L562.9,719.5 L563.6,720.1 L564.3,720 L565,720.2 L565.7,722.1 L566.4,723.7 L567.1,723.5 L567.8,723.4 L568.5,723.8 L569.2,723.9 L569.9,724.3 L570.6,724.3 L571.3,723.1 L572,722.5 L572.7,722.2 L573.4,722 L574.1,722.2 L574.8,721.9 L575.5,721.4 L576.2,721.3 L576.9,721.4 L577.6,722 L578.3,724.1 L579,727.6 L579.7,729.5 L580.4,729.7 L581.1,730.9 L581.8,733.1 L582.5,734.5 L583.2,735.1 L583.9,735.4 L584.6,735.3 L585.3,735 L586,735.6 L586.7,737.2 L587.4,737.9 L588.1,737.1 L588.8,736.7 L589.5,735.7 L590.2,733.9 L590.9,732.5 L591.6,730.5 L592.3,728.6 L593,727.9 L593.7,726.5 L594.4,724.3 L595.1,723.1 L595.8,722.1 L596.5,720.7 L597.2,719.7 L597.9,719.1 L598.6,718.6 L599.3,718.1 L600,718.6 L600.7,719.4 L601.4,720.5 L602.1,721.7 L602.8,722.5 L603.5,723.2 L604.2,724.3 L604.9,725.2 L605.6,726.4 L606.3,727 L607,725.2 L607.7,723.3 L608.4,723.9 L609.1,724.4 L609.8,723.6 L610.5,722 L611.2,720.7 L611.9,720.4 L612.6,719.9 L613.3,718.7 L614,717.8 L614.7,717.6 L615.4,717.5 L616.1,716 L616.8,714.7 L617.5,715 L618.2,715.3 L618.9,715.1 L619.6,714.6 L620.3,713.6 L621,712.7 L621.7,713 L622.4,712.6 L623.1,712.2 L623.8,713.4 L624.5,714.2 L625.2,714.1 L625.9,714.3 L626.6,715.7 L627.3,718 L628,718.5 L628.7,717.5 L629.4,716.9 L630.1,717.4 L630.8,718.3 L631.5,719 L632.2,720 L632.9,719.4 L633.6,718.8 L634.3,719.7 L635,720.6 L635.7,721.6 L636.4,722.2 L637.1,722.1 L637.8,723.1 L638.5,724.7 L639.2,725.4 L639.9,725.3 L640.6,725.5 L641.3,725.9 L642,725.6 L642.7,724.6 L643.4,723.4 L644.1,722.3 L644.8,722.5 L645.5,724.1 L646.2,725.9 L646.9,726 L647.6,724.9 L648.3,724.5 L649,724.8 L649.7,725.5 L650.4,726.2 L651.1,725.6 L651.8,724.6 L652.5,724.7 L653.2,725.2 L653.9,725.3 L654.6,724.6 L655.3,724.5 L656,726.3 L656.7,728 L657.4,727.9 L658.1,727.7 L658.8,728.2 L659.5,728.4 L660.2,728.5 L660.9,728.4 L661.6,728.3 L662.3,728.5 L663,728.5" stroke="#3f7cc4" stroke-width="1.2" fill="none" stroke-linejoin="round" />
<path d="M369.7,732 L370.4,731.3 L371.1,730.9 L371.8,730.4 L372.5,730.6 L373.2,730.7 L373.9,730.2 L374.6,729.8 L375.3,730.1 L376,730.2 L376.7,729.4 L377.4,728.3 L378.1,727 L378.8,726.5 L379.5,727 L380.2,727.5 L380.9,727.3 L381.6,727.3 L382.3,727 L383,726.1 L383.7,726.1 L384.4,727.4 L385.1,729.3 L385.8,730.4 L386.5,730.8 L387.2,730.7 L387.9,730.4 L388.6,729.6 L389.3,729.3 L390,729.6 L390.7,729.8 L391.4,730.2 L392.1,730.4 L392.8,729.4 L393.5,728.7 L394.2,730.1 L394.9,732.4 L395.6,733.4 L396.3,732.9 L397,732.2 L397.7,732.1 L398.4,732.4 L399.1,732.6 L399.8,732.6 L400.5,732.9 L401.2,731.7 L401.9,730.3 L402.6,729.9 L403.3,728.3 L404,726.4 L404.7,725.6 L405.4,725.1 L406.1,725.1 L406.8,726.1 L407.5,725.9 L408.2,723.9 L408.9,721.6 L409.6,719.7 L410.3,718.5 L411,718.6 L411.7,719.8 L412.4,721.3 L413.1,722.1 L413.8,722.3 L414.5,722.6 L415.2,723.2 L415.9,723.4 L416.6,723.5 L417.3,723.9 L418,724.8 L418.7,725.6 L419.4,726.8 L420.1,728 L420.8,728.2 L421.5,727.9 L422.2,727 L422.9,725.8 L423.6,726.3 L424.3,726.8 L425,726.1 L425.7,725.1 L426.4,723.9 L427.1,723 L427.8,722.3 L428.5,721.9 L429.2,721.4 L429.9,721.3 L430.6,720.8 L431.3,718.9 L432,718 L432.7,719.1 L433.4,719.9 L434.1,719.8 L434.8,721 L435.5,722.6 L436.2,722.1 L436.9,720.3 L437.6,720 L438.3,721.4 L439,722.3 L439.7,722.8 L440.4,724.3 L441.1,726 L441.8,726.5 L442.5,725.7 L443.2,724.1 L443.9,722 L444.6,721.1 L445.3,721.8 L446,721.8 L446.7,720.3 L447.4,719.1 L448.1,719.1 L448.8,720.2 L449.5,721.8 L450.2,722.7 L450.9,722.6 L451.6,721.7 L452.3,720.8 L453,720.3 L453.7,720.3 L454.4,721.2 L455.1,723.4 L455.8,725.3 L456.5,726 L457.2,725.2 L457.9,723.7 L458.6,723.5 L459.3,723.6 L460,724.1 L460.7,725.6 L461.4,726 L462.1,724.9 L462.8,724.5 L463.5,724.7 L464.2,724.2 L464.9,722.7 L465.6,721.3 L466.3,720.6 L467,720 L467.7,719.2 L468.4,718.5 L469.1,718.6 L469.8,719.9 L470.5,720.9 L471.2,721 L471.9,721.5 L472.6,722.3 L473.3,722.8 L474,723.2 L474.7,723.6 L475.4,724.3 L476.1,725.4 L476.8,726.5 L477.5,727.2 L478.2,728 L478.9,727.9 L479.6,726.6 L480.3,725.6 L481,725.7 L481.7,726.4 L482.4,727.3 L483.1,727.8 L483.8,727.6 L484.5,727.2 L485.2,727.1 L485.9,726.4 L486.6,726.3 L487.3,726.9 L488,726.9 L488.7,726.5 L489.4,726.5 L490.1,726.9 L490.8,727.4 L491.5,728.5 L492.2,730.1 L492.9,731.8 L493.6,733.2 L494.3,733.6 L495,734.2 L495.7,735.8 L496.4,736.2 L497.1,736.3 L497.8,737 L498.5,736.6 L499.2,735.9 L499.9,735.1 L500.6,733.4 L501.3,731.9 L502,731 L502.7,730.7 L503.4,730.3 L504.1,729.6 L504.8,728.9 L505.5,728.5 L506.2,729.2 L506.9,730.7 L507.6,731.1 L508.3,729.8 L509,729.3 L509.7,729.8 L510.4,730.4 L511.1,730.9 L511.8,730.7 L512.5,731.1 L513.2,731.5 L513.9,731.2 L514.6,730.8 L515.3,730.4 L516,730.2 L516.7,729.4 L517.4,727.9 L518.1,726.7 L518.8,726.7 L519.5,727.3 L520.2,727 L520.9,725.6 L521.6,724.4 L522.3,723.9 L523,724 L523.7,724.2 L524.4,724 L525.1,723.5 L525.8,723.6 L526.5,723.4 L527.2,722.9 L527.9,721.6 L528.6,720.7 L529.3,721.6 L530,723.4 L530.7,723.8 L531.4,722.8 L532.1,722.3 L532.8,722.7 L533.5,723.3 L534.2,723.6 L534.9,723.6 L535.6,723.6 L536.3,724.4 L537,725.2 L537.7,725.8 L538.4,725.6 L539.1,725.2 L539.8,726 L540.5,726.9 L541.2,726.9 L541.9,726.6 L542.6,726.1 L543.3,726 L544,725.5 L544.7,725.2 L545.4,725.9 L546.1,726.5 L546.8,725.4 L547.5,723.6 L548.2,722.8 L548.9,723.1 L549.6,723.2 L550.3,723.2 L551,723.9 L551.7,724.6 L552.4,723.9 L553.1,723.5 L553.8,724.4 L554.5,725.2 L555.2,725 L555.9,723.7 L556.6,723.2 L557.3,724.6 L558,725.7 L558.7,726.1 L559.4,726 L560.1,726.1 L560.8,726.3 L561.5,726.5 L562.2,727.6 L562.9,729.7 L563.6,730.7 L564.3,730.7 L565,729.7 L565.7,728.6 L566.4,728.3 L567.1,728.6 L567.8,728.9 L568.5,729.1 L569.2,730.1 L569.9,730.7 L570.6,730.2 L571.3,730.2 L572,730.9 L572.7,731.2 L573.4,731.1 L574.1,731.7 L574.8,733.3 L575.5,733.7 L576.2,733 L576.9,732.6 L577.6,732.3 L578.3,731.9 L579,732 L579.7,731.8 L580.4,731 L581.1,729.8 L581.8,729 L582.5,729.7 L583.2,729.8 L583.9,729 L584.6,728.2 L585.3,727.8 L586,727.5 L586.7,727 L587.4,726 L588.1,725 L588.8,723.8 L589.5,723.3 L590.2,723.4 L590.9,722.8 L591.6,721.2 L592.3,720 L593,719.4 L593.7,719 L594.4,718.4 L595.1,717.8 L595.8,718.1 L596.5,718.9 L597.2,718.6 L597.9,717.4 L598.6,717.1 L599.3,717.7 L600,717.7 L600.7,717.5 L601.4,718.7 L602.1,720.2 L602.8,721.6 L603.5,722.5 L604.2,722.4 L604.9,723 L605.6,724.1 L606.3,725.3 L607,726.8 L607.7,728.1 L608.4,728.9 L609.1,729.3 L609.8,730.2 L610.5,731.3 L611.2,731.5 L611.9,732 L612.6,733.1 L613.3,734 L614,734 L614.7,734.2 L615.4,734.8 L616.1,734.6 L616.8,734.5 L617.5,735.4 L618.2,736.1 L618.9,736.1 L619.6,736.2 L620.3,736.1 L621,735.6 L621.7,734.9 L622.4,733.4 L623.1,731.3 L623.8,729.1 L624.5,727.6 L625.2,726.7 L625.9,726.2 L626.6,725.5 L627.3,724.5 L628,723.7 L628.7,723 L629.4,723.3 L630.1,724.3 L630.8,724.4 L631.5,723.9 L632.2,723.3 L632.9,722.4 L633.6,720.4 L634.3,718.7 L635,718.6 L635.7,719.1 L636.4,718.8 L637.1,717.4 L637.8,715.3 L638.5,714.3 L639.2,714.6 L639.9,715.5 L640.6,715.9 L641.3,716.1 L642,717.4 L642.7,719 L643.4,720 L644.1,721.5 L644.8,723.5 L645.5,725.2 L646.2,727.1 L646.9,729 L647.6,730.3 L648.3,732.3 L649,734.8 L649.7,736.1 L650.4,737.2 L651.1,738.7 L651.8,738.6 L652.5,737.7 L653.2,737.2 L653.9,735.8 L654.6,734.2 L655.3,733.7 L656,732.4 L656.7,730.8 L657.4,730.4 L658.1,729.9 L658.8,728.6 L659.5,727.5 L660.2,725.7 L660.9,723.4 L661.6,722.6 L662.3,723.7 L663,724.9" stroke="#3f7cc4" stroke-width="1.2" fill="none" stroke-linejoin="round" />
<path d="M369.7,731.2 L370.4,731.4 L371.1,731.2 L371.8,730.8 L372.5,731.4 L373.2,731.4 L373.9,729.6 L374.6,727.1 L375.3,725.9 L376,725.8 L376.7,724.6 L377.4,723.2 L378.1,723.6 L378.8,724.7 L379.5,725.1 L380.2,724.5 L380.9,724.2 L381.6,725.3 L382.3,725.8 L383,726 L383.7,726.9 L384.4,727.8 L385.1,728.2 L385.8,728.6 L386.5,729.1 L387.2,729.6 L387.9,730.9 L388.6,731.8 L389.3,731.4 L390,731.4 L390.7,732.2 L391.4,732.7 L392.1,733.2 L392.8,734.3 L393.5,734 L394.2,732.7 L394.9,732 L395.6,730.9 L396.3,729.9 L397,729.5 L397.7,729.6 L398.4,730.1 L399.1,730.9 L399.8,731 L400.5,730.9 L401.2,731 L401.9,732.8 L402.6,735 L403.3,735.8 L404,735.7 L404.7,735.1 L405.4,734.4 L406.1,734.2 L406.8,733.5 L407.5,732.4 L408.2,732.3 L408.9,732.6 L409.6,731.8 L410.3,731.5 L411,731.5 L411.7,730.6 L412.4,729.2 L413.1,728.7 L413.8,728.5 L414.5,727.6 L415.2,726.8 L415.9,726.9 L416.6,726.9 L417.3,726.7 L418,726.2 L418.7,725.3 L419.4,724.5 L420.1,723.3 L420.8,723.6 L421.5,724.3 L422.2,722.7 L422.9,720.7 L423.6,719.9 L424.3,718.5 L425,717.1 L425.7,717.6 L426.4,719 L427.1,719.6 L427.8,720.1 L428.5,720.8 L429.2,722.6 L429.9,726.3 L430.6,728.6 L431.3,727.6 L432,727.1 L432.7,727.9 L433.4,728.7 L434.1,728.7 L434.8,727.7 L435.5,728.1 L436.2,729.6 L436.9,730.3 L437.6,730.3 L438.3,729.9 L439,729.1 L439.7,728.3 L440.4,727.7 L441.1,728.2 L441.8,729.6 L442.5,729.3 L443.2,728.1 L443.9,728.5 L444.6,729.1 L445.3,729.1 L446,730 L446.7,731.4 L447.4,732.5 L448.1,733.1 L448.8,733.2 L449.5,732.5 L450.2,732.3 L450.9,733 L451.6,732.9 L452.3,731.7 L453,730.3 L453.7,729.3 L454.4,728.3 L455.1,727 L455.8,726 L456.5,724.7 L457.2,723.5 L457.9,722.7 L458.6,722.2 L459.3,722.3 L460,723.1 L460.7,724.7 L461.4,726.1 L462.1,726.2 L462.8,725.7 L463.5,727 L464.2,729.2 L464.9,730.1 L465.6,730.9 L466.3,732.5 L467,733.3 L467.7,732.5 L468.4,731.8 L469.1,732.5 L469.8,733.1 L470.5,732.5 L471.2,731.9 L471.9,732.4 L472.6,732.3 L473.3,730.7 L474,728.2 L474.7,727.1 L475.4,727 L476.1,726.3 L476.8,724.5 L477.5,723.2 L478.2,724.3 L478.9,725.4 L479.6,723.8 L480.3,722.3 L481,721.7 L481.7,720.7 L482.4,719.7 L483.1,718.6 L483.8,718.7 L484.5,720 L485.2,721 L485.9,722 L486.6,722.9 L487.3,723.5 L488,723.9 L488.7,724.3 L489.4,725.1 L490.1,726 L490.8,726.8 L491.5,727.1 L492.2,727.3 L492.9,728.2 L493.6,729.1 L494.3,730 L495,730.5 L495.7,730.1 L496.4,729.6 L497.1,730 L497.8,730.4 L498.5,730 L499.2,728.6 L499.9,727 L500.6,726.3 L501.3,727.3 L502,727.4 L502.7,725.8 L503.4,724.9 L504.1,724.8 L504.8,724.9 L505.5,724.9 L506.2,724.8 L506.9,724.3 L507.6,724.4 L508.3,725.3 L509,726.5 L509.7,727.7 L510.4,728.5 L511.1,729.8 L511.8,731.6 L512.5,732.9 L513.2,734.6 L513.9,735.9 L514.6,735 L515.3,733.3 L516,732.8 L516.7,733.3 L517.4,733.1 L518.1,732.1 L518.8,731.8 L519.5,730.7 L520.2,728.2 L520.9,727.5 L521.6,728.9 L522.3,729.6 L523,728.2 L523.7,726.5 L524.4,727 L525.1,728.1 L525.8,727.7 L526.5,728.1 L527.2,729 L527.9,730.3 L528.6,731.4 L529.3,731.7 L530,732.4 L530.7,733.9 L531.4,735.3 L532.1,735 L532.8,733.3 L533.5,732.8 L534.2,733.3 L534.9,732.9 L535.6,732.1 L536.3,731.1 L537,729.4 L537.7,728 L538.4,727.8 L539.1,728.3 L539.8,728.7 L540.5,729 L541.2,730.1 L541.9,730.9 L542.6,731.2 L543.3,732.6 L544,733.7 L544.7,734 L545.4,734.4 L546.1,736.5 L546.8,739.4 L547.5,741 L548.2,741.1 L548.9,739.9 L549.6,739.7 L550.3,740.9 L551,742 L551.7,741.5 L552.4,740.8 L553.1,741.4 L553.8,742.3 L554.5,741 L555.2,738.3 L555.9,736.4 L556.6,735.6 L557.3,735.2 L558,734 L558.7,731.6 L559.4,729.7 L560.1,728.5 L560.8,727.3 L561.5,725.3 L562.2,723 L562.9,721.8 L563.6,721.4 L564.3,720.9 L565,721.4 L565.7,720.9 L566.4,719.4 L567.1,719.3 L567.8,720.8 L568.5,722.5 L569.2,722.9 L569.9,721.6 L570.6,721.2 L571.3,722.1 L572,722 L572.7,721.1 L573.4,721.1 L574.1,721.3 L574.8,721.8 L575.5,722.4 L576.2,722.8 L576.9,723 L577.6,723.3 L578.3,724.3 L579,725.6 L579.7,726 L580.4,726.4 L581.1,726.2 L581.8,725.5 L582.5,726.2 L583.2,727.6 L583.9,727.5 L584.6,726.4 L585.3,726.1 L586,726 L586.7,725.8 L587.4,726.7 L588.1,728 L588.8,729.5 L589.5,731.2 L590.2,732.5 L590.9,733.4 L591.6,734 L592.3,734.6 L593,735.3 L593.7,735.5 L594.4,735.2 L595.1,735.3 L595.8,735.3 L596.5,735.6 L597.2,735.8 L597.9,735.7 L598.6,735.6 L599.3,733.9 L600,732.2 L600.7,731.8 L601.4,731.7 L602.1,731.6 L602.8,731.8 L603.5,731.8 L604.2,731.8 L604.9,732.3 L605.6,732 L606.3,731.5 L607,731.7 L607.7,732.4 L608.4,732.9 L609.1,732.3 L609.8,731 L610.5,729.7 L611.2,728.8 L611.9,728.5 L612.6,728.4 L613.3,728.1 L614,727.8 L614.7,727.4 L615.4,725.6 L616.1,723.5 L616.8,721.9 L617.5,720.7 L618.2,721.2 L618.9,722 L619.6,721 L620.3,719.2 L621,718.1 L621.7,718 L622.4,718.2 L623.1,718.6 L623.8,719 L624.5,718.6 L625.2,718.5 L625.9,719.7 L626.6,721.7 L627.3,722.8 L628,721.7 L628.7,719.8 L629.4,719.1 L630.1,719.9 L630.8,722 L631.5,722.9 L632.2,721.8 L632.9,720.5 L633.6,720.2 L634.3,721 L635,722 L635.7,722.6 L636.4,722.2 L637.1,721.6 L637.8,722.2 L638.5,723.2 L639.2,722.8 L639.9,722.5 L640.6,722.9 L641.3,724.1 L642,724.8 L642.7,725.3 L643.4,726.2 L644.1,726.4 L644.8,725.3 L645.5,724.2 L646.2,724.2 L646.9,725.3 L647.6,726.2 L648.3,726.8 L649,727.7 L649.7,728.4 L650.4,727.8 L651.1,726.8 L651.8,726.9 L652.5,727.6 L653.2,727.5 L653.9,726 L654.6,724.9 L655.3,724.9 L656,724.8 L656.7,725.4 L657.4,726.5 L658.1,727.3 L658.8,728.3 L659.5,729.1 L660.2,729.7 L660.9,730.1 L661.6,729.7 L662.3,728.7 L663,728.3" stroke="#3f7cc4" stroke-width="1.2" fill="none" stroke-linejoin="round" />
<path d="M369.7,728.8 L370.4,728.3 L371.1,727.7 L371.8,727.6 L372.5,727.3 L373.2,726.9 L373.9,726.8 L374.6,727.4 L375.3,727.9 L376,728.1 L376.7,728.4 L377.4,728.5 L378.1,727.6 L378.8,726.4 L379.5,725.6 L380.2,726.1 L380.9,728 L381.6,730 L382.3,730.8 L383,730.6 L383.7,730.4 L384.4,731.5 L385.1,732.7 L385.8,733.1 L386.5,733.1 L387.2,732.7 L387.9,732.6 L388.6,733.1 L389.3,733.8 L390,734.6 L390.7,734.4 L391.4,733.9 L392.1,733.6 L392.8,733.3 L393.5,733.1 L394.2,732.4 L394.9,730.8 L395.6,728.8 L396.3,727.8 L397,727.6 L397.7,727.7 L398.4,728.6 L399.1,729.6 L399.8,730.6 L400.5,731.6 L401.2,731.5 L401.9,730.7 L402.6,729.9 L403.3,728.8 L404,729.5 L404.7,731.2 L405.4,731.7 L406.1,730.8 L406.8,730 L407.5,730.8 L408.2,732.6 L408.9,733.5 L409.6,734.5 L410.3,735.6 L411,735.9 L411.7,736.2 L412.4,736.5 L413.1,737.1 L413.8,738.3 L414.5,738.7 L415.2,737.9 L415.9,736.5 L416.6,735.2 L417.3,734.4 L418,733.6 L418.7,732.5 L419.4,731.1 L420.1,729.6 L420.8,728.4 L421.5,727.1 L422.2,726.1 L422.9,725.7 L423.6,725.4 L424.3,725.1 L425,724.9 L425.7,725 L426.4,726.1 L427.1,727.7 L427.8,729.4 L428.5,731.1 L429.2,732 L429.9,733.4 L430.6,735.6 L431.3,737.6 L432,739 L432.7,739.1 L433.4,738.5 L434.1,738 L434.8,738.2 L435.5,738.2 L436.2,737.8 L436.9,737.7 L437.6,738.4 L438.3,738.2 L439,736.7 L439.7,735.3 L440.4,733.4 L441.1,732.1 L441.8,731.7 L442.5,730.1 L443.2,727.9 L443.9,726.5 L444.6,725.3 L445.3,722.8 L446,719.9 L446.7,718.5 L447.4,718.6 L448.1,718.1 L448.8,717.8 L449.5,718.6 L450.2,719.4 L450.9,720.2 L451.6,721.6 L452.3,723.5 L453,725.7 L453.7,727.7 L454.4,730 L455.1,731.7 L455.8,732.6 L456.5,733 L457.2,733.4 L457.9,734.3 L458.6,733.8 L459.3,731.8 L460,731 L460.7,731.9 L461.4,732.4 L462.1,731.8 L462.8,731.2 L463.5,731.4 L464.2,731.2 L464.9,729.8 L465.6,727.7 L466.3,725.7 L467,724.7 L467.7,723.2 L468.4,722.3 L469.1,722.4 L469.8,723.3 L470.5,724 L471.2,723.1 L471.9,722.1 L472.6,721.7 L473.3,722.8 L474,724.4 L474.7,725.2 L475.4,726.1 L476.1,727.1 L476.8,727.6 L477.5,727.4 L478.2,726.5 L478.9,726.9 L479.6,727.9 L480.3,728.1 L481,726.8 L481.7,724.8 L482.4,724.4 L483.1,724.9 L483.8,725.5 L484.5,726.3 L485.2,726.1 L485.9,725.6 L486.6,726.8 L487.3,728.8 L488,729.9 L488.7,728.9 L489.4,728 L490.1,729 L490.8,731.3 L491.5,732.7 L492.2,732.8 L492.9,733 L493.6,733.7 L494.3,734.7 L495,735 L495.7,734.6 L496.4,735.1 L497.1,735.6 L497.8,735.5 L498.5,735.3 L499.2,735.1 L499.9,734.4 L500.6,733.2 L501.3,731.6 L502,730.8 L502.7,730.7 L503.4,730.6 L504.1,729.9 L504.8,728.5 L505.5,726.7 L506.2,725.3 L506.9,724.9 L507.6,725.2 L508.3,724.7 L509,723.7 L509.7,723.4 L510.4,723 L511.1,722.3 L511.8,722.4 L512.5,723.1 L513.2,724.7 L513.9,726.8 L514.6,728.2 L515.3,728.9 L516,730.4 L516.7,732.8 L517.4,735.4 L518.1,737.3 L518.8,737.1 L519.5,736.5 L520.2,737.6 L520.9,738.7 L521.6,738.3 L522.3,737.2 L523,735.4 L523.7,734.1 L524.4,734 L525.1,733.6 L525.8,733 L526.5,732.7 L527.2,733.1 L527.9,733.6 L528.6,733.5 L529.3,732.5 L530,731.4 L530.7,730.7 L531.4,729.2 L532.1,727.4 L532.8,726.5 L533.5,725.7 L534.2,724.6 L534.9,723.9 L535.6,724 L536.3,724.5 L537,723.8 L537.7,721.4 L538.4,719.3 L539.1,718.2 L539.8,718.4 L540.5,719.4 L541.2,720 L541.9,721.1 L542.6,721.9 L543.3,721.7 L544,721.8 L544.7,723.4 L545.4,725.4 L546.1,726.1 L546.8,725.8 L547.5,725.7 L548.2,725.2 L548.9,724.4 L549.6,724.5 L550.3,725.6 L551,725.8 L551.7,725.7 L552.4,726 L553.1,725.4 L553.8,724.6 L554.5,724.8 L555.2,725.4 L555.9,725.5 L556.6,725.1 L557.3,724.3 L558,723.6 L558.7,723 L559.4,722.5 L560.1,722.6 L560.8,722.4 L561.5,721.8 L562.2,721.8 L562.9,722.2 L563.6,722.3 L564.3,722.5 L565,723.2 L565.7,723.9 L566.4,724.9 L567.1,725.9 L567.8,726.1 L568.5,726.3 L569.2,726.6 L569.9,726.2 L570.6,725.1 L571.3,725 L572,724.8 L572.7,722.9 L573.4,721 L574.1,720.9 L574.8,722.1 L575.5,723 L576.2,723.1 L576.9,723.2 L577.6,723.7 L578.3,724.9 L579,726.4 L579.7,727.1 L580.4,727.5 L581.1,727.4 L581.8,726.8 L582.5,727.1 L583.2,728.4 L583.9,729.6 L584.6,729.7 L585.3,729.1 L586,728.1 L586.7,727.9 L587.4,728.6 L588.1,728.9 L588.8,728.7 L589.5,728.5 L590.2,728.2 L590.9,728.3 L591.6,728.5 L592.3,727.9 L593,727.4 L593.7,727.5 L594.4,726.8 L595.1,725.1 L595.8,723 L596.5,721.6 L597.2,721.2 L597.9,722.5 L598.6,723.4 L599.3,722.5 L600,721.1 L600.7,721.2 L601.4,722.7 L602.1,723.8 L602.8,724.1 L603.5,724.9 L604.2,726 L604.9,727.2 L605.6,727.9 L606.3,727.1 L607,726.1 L607.7,725.8 L608.4,725.7 L609.1,726.2 L609.8,727.2 L610.5,728 L611.2,727.8 L611.9,727.3 L612.6,726.3 L613.3,725.8 L614,725.8 L614.7,725.1 L615.4,725.4 L616.1,726.6 L616.8,727.2 L617.5,727.2 L618.2,727.1 L618.9,728 L619.6,729.8 L620.3,730.8 L621,731.7 L621.7,733.5 L622.4,736 L623.1,738.9 L623.8,741.2 L624.5,742.2 L625.2,742.4 L625.9,741.6 L626.6,740.1 L627.3,739 L628,738.5 L628.7,737.4 L629.4,736.8 L630.1,736.9 L630.8,736.5 L631.5,735.9 L632.2,734.7 L632.9,733.6 L633.6,734 L634.3,735.4 L635,736.1 L635.7,735.1 L636.4,733.2 L637.1,731.4 L637.8,730 L638.5,729.3 L639.2,729.4 L639.9,729.4 L640.6,727.8 L641.3,726 L642,725.9 L642.7,726.7 L643.4,727.5 L644.1,727.5 L644.8,727.4 L645.5,728.5 L646.2,729.7 L646.9,730.5 L647.6,731.2 L648.3,731 L649,730.1 L649.7,730.1 L650.4,730.2 L651.1,730.3 L651.8,730.5 L652.5,729.5 L653.2,728.1 L653.9,727.6 L654.6,727.4 L655.3,727.1 L656,727.2 L656.7,727.6 L657.4,727.4 L658.1,726.5 L658.8,725.1 L659.5,723.5 L660.2,723.2 L660.9,723.3 L661.6,723.7 L662.3,724.5 L663,724.7" stroke="#3f7cc4" stroke-width="1.2" fill="none" stroke-linejoin="round" />
<path d="M369.7,734 L370.4,733.4 L371.1,732.4 L371.8,731.2 L372.5,729.9 L373.2,728.3 L373.9,727.1 L374.6,726.8 L375.3,726.3 L376,724.9 L376.7,723.9 L377.4,723.3 L378.1,723.3 L378.8,723.7 L379.5,723.8 L380.2,723.1 L380.9,722.4 L381.6,723.2 L382.3,724.6 L383,725.2 L383.7,725 L384.4,725.4 L385.1,726.5 L385.8,727.8 L386.5,729.9 L387.2,731.6 L387.9,732.5 L388.6,733.8 L389.3,735.3 L390,735.7 L390.7,734.9 L391.4,734.1 L392.1,734.6 L392.8,736.2 L393.5,737.2 L394.2,737.1 L394.9,736.2 L395.6,735.1 L396.3,734 L397,732.5 L397.7,731.2 L398.4,730.8 L399.1,731.2 L399.8,731.3 L400.5,731 L401.2,730.9 L401.9,731.4 L402.6,732.4 L403.3,733 L404,733.9 L404.7,734.5 L405.4,734.8 L406.1,735.3 L406.8,735.4 L407.5,735.8 L408.2,736.2 L408.9,736.3 L409.6,737.3 L410.3,738.1 L411,736.7 L411.7,734.7 L412.4,733.7 L413.1,733.6 L413.8,734.1 L414.5,734.2 L415.2,733 L415.9,731.5 L416.6,731.2 L417.3,730.8 L418,729.5 L418.7,729 L419.4,728.6 L420.1,726.8 L420.8,724.7 L421.5,724.5 L422.2,724.5 L422.9,724.2 L423.6,724.4 L424.3,725.2 L425,725.1 L425.7,724.9 L426.4,724.7 L427.1,724.2 L427.8,724.3 L428.5,724.2 L429.2,723 L429.9,722.7 L430.6,723.7 L431.3,724.6 L432,724.9 L432.7,725.2 L433.4,724.9 L434.1,724.6 L434.8,725.1 L435.5,725.8 L436.2,726.3 L436.9,726.8 L437.6,728 L438.3,728.7 L439,728.4 L439.7,728 L440.4,728 L441.1,728.3 L441.8,728.9 L442.5,728.8 L443.2,729.1 L443.9,730.3 L444.6,731.3 L445.3,731.1 L446,730.7 L446.7,731.2 L447.4,732.4 L448.1,732.5 L448.8,730.8 L449.5,728.9 L450.2,727.7 L450.9,727 L451.6,725.8 L452.3,723.9 L453,722.6 L453.7,722.6 L454.4,723.4 L455.1,723.9 L455.8,724 L456.5,723.9 L457.2,723.8 L457.9,724 L458.6,724.2 L459.3,724.2 L460,724.9 L460.7,726 L461.4,726.4 L462.1,726 L462.8,725.9 L463.5,726.3 L464.2,726.2 L464.9,725.7 L465.6,725.9 L466.3,726.2 L467,725.8 L467.7,725.5 L468.4,725.2 L469.1,725.4 L469.8,726.4 L470.5,727.2 L471.2,727.3 L471.9,727.2 L472.6,727.6 L473.3,728.5 L474,729.6 L474.7,730.4 L475.4,730.4 L476.1,729.4 L476.8,728.1 L477.5,727.4 L478.2,727.8 L478.9,728.7 L479.6,729.1 L480.3,729.3 L481,729.5 L481.7,729.1 L482.4,728.6 L483.1,728.9 L483.8,729.5 L484.5,729.2 L485.2,728.4 L485.9,728.5 L486.6,729.3 L487.3,729.8 L488,729.1 L488.7,727.9 L489.4,726.9 L490.1,725.9 L490.8,726.1 L491.5,727.4 L492.2,728.9 L492.9,730.1 L493.6,729.8 L494.3,728.5 L495,728.3 L495.7,728.5 L496.4,728.3 L497.1,728.3 L497.8,728.5 L498.5,728.4 L499.2,727.8 L499.9,727.4 L500.6,727.9 L501.3,728.8 L502,729.9 L502.7,730.2 L503.4,729.3 L504.1,729 L504.8,730.4 L505.5,732.5 L506.2,733.6 L506.9,733.1 L507.6,731.5 L508.3,730.1 L509,728.4 L509.7,727.1 L510.4,726.6 L511.1,726.3 L511.8,726.4 L512.5,726.8 L513.2,726.3 L513.9,725.8 L514.6,725.9 L515.3,725.8 L516,725.6 L516.7,725.9 L517.4,727.3 L518.1,729.8 L518.8,731.7 L519.5,732.3 L520.2,732.7 L520.9,733 L521.6,733.5 L522.3,733.8 L523,734.4 L523.7,734.8 L524.4,734.5 L525.1,735.2 L525.8,736.1 L526.5,735.9 L527.2,735.7 L527.9,735.9 L528.6,736.8 L529.3,738.6 L530,739.6 L530.7,738.7 L531.4,737.9 L532.1,738.2 L532.8,739.2 L533.5,739.8 L534.2,739.9 L534.9,739.9 L535.6,739.3 L536.3,739.7 L537,740.3 L537.7,740 L538.4,739.1 L539.1,738.7 L539.8,738.9 L540.5,738.9 L541.2,738.7 L541.9,739.1 L542.6,739.4 L543.3,738.9 L544,738.6 L544.7,738.5 L545.4,738 L546.1,737.3 L546.8,737.5 L547.5,738.4 L548.2,738.4 L548.9,736.4 L549.6,734.4 L550.3,733.9 L551,733.5 L551.7,732.2 L552.4,731.2 L553.1,731.4 L553.8,731.6 L554.5,731.8 L555.2,732.6 L555.9,733.9 L556.6,734.9 L557.3,734.7 L558,734.1 L558.7,734.3 L559.4,735.2 L560.1,735.4 L560.8,735.4 L561.5,736.3 L562.2,736.8 L562.9,736.2 L563.6,735.8 L564.3,735.7 L565,736 L565.7,737.1 L566.4,739 L567.1,739.9 L567.8,738.6 L568.5,737.3 L569.2,736.7 L569.9,736.4 L570.6,736.1 L571.3,736.1 L572,736.5 L572.7,737 L573.4,737.9 L574.1,738.7 L574.8,738.6 L575.5,737.8 L576.2,736.8 L576.9,735.9 L577.6,735.6 L578.3,736.1 L579,736.6 L579.7,735.8 L580.4,734.8 L581.1,734.6 L581.8,734.2 L582.5,733.3 L583.2,732.5 L583.9,732.4 L584.6,732.7 L585.3,732.1 L586,731.1 L586.7,731 L587.4,731.1 L588.1,731.1 L588.8,731 L589.5,730.8 L590.2,730.1 L590.9,728.3 L591.6,726.2 L592.3,724.8 L593,724.1 L593.7,723.5 L594.4,722.6 L595.1,721.8 L595.8,722.1 L596.5,722.5 L597.2,721.9 L597.9,721.3 L598.6,721.8 L599.3,722.4 L600,722.6 L600.7,722.5 L601.4,722.4 L602.1,722.4 L602.8,723.1 L603.5,725.1 L604.2,726.9 L604.9,727.9 L605.6,728.1 L606.3,727.5 L607,726.9 L607.7,727.1 L608.4,727 L609.1,726.7 L609.8,726.9 L610.5,727.1 L611.2,726.9 L611.9,726.9 L612.6,727.9 L613.3,728.9 L614,728.9 L614.7,729.1 L615.4,730 L616.1,730.7 L616.8,730.9 L617.5,731.7 L618.2,732.9 L618.9,734.1 L619.6,735.7 L620.3,737.3 L621,738.4 L621.7,738.3 L622.4,737.1 L623.1,736.7 L623.8,738 L624.5,739.3 L625.2,740.1 L625.9,740 L626.6,738.9 L627.3,738.5 L628,738.8 L628.7,739.2 L629.4,740.3 L630.1,740.2 L630.8,738.5 L631.5,737 L632.2,736.3 L632.9,736.2 L633.6,736.3 L634.3,735.3 L635,733.4 L635.7,732.2 L636.4,732 L637.1,732.5 L637.8,733.5 L638.5,733.9 L639.2,734.4 L639.9,735.2 L640.6,736 L641.3,736.2 L642,736.2 L642.7,736.3 L643.4,736.3 L644.1,736.3 L644.8,735.8 L645.5,735.4 L646.2,735 L646.9,734.6 L647.6,734 L648.3,733.8 L649,734 L649.7,734.3 L650.4,734.2 L651.1,733.3 L651.8,731.9 L652.5,731.6 L653.2,732.5 L653.9,732.9 L654.6,732.9 L655.3,733 L656,733.1 L656.7,732.4 L657.4,731.4 L658.1,730.6 L658.8,729.7 L659.5,728.5 L660.2,727.2 L660.9,726.3 L661.6,726.1 L662.3,725.7 L663,724.9" stroke="#3f7cc4" stroke-width="1.2" fill="none" stroke-linejoin="round" />
<path d="M369.7,737.9 L370.4,736 L371.1,733.5 L371.8,732.1 L372.5,731.5 L373.2,730.5 L373.9,730.3 L374.6,731.1 L375.3,730.1 L376,727.8 L376.7,726.5 L377.4,726.5 L378.1,727.5 L378.8,728.2 L379.5,728.5 L380.2,729 L380.9,730 L381.6,731.5 L382.3,732.4 L383,732.9 L383.7,734 L384.4,734.1 L385.1,733.8 L385.8,735.3 L386.5,737.2 L387.2,737.9 L387.9,737.3 L388.6,737.3 L389.3,738.1 L390,738.8 L390.7,738.1 L391.4,737 L392.1,737.3 L392.8,738.2 L393.5,738.6 L394.2,738.6 L394.9,737.6 L395.6,736.3 L396.3,736.6 L397,737.9 L397.7,737.9 L398.4,736.7 L399.1,735.5 L399.8,734.5 L400.5,733.9 L401.2,733.1 L401.9,732.1 L402.6,730.3 L403.3,728.5 L404,727.9 L404.7,727.6 L405.4,727.1 L406.1,726.9 L406.8,727 L407.5,726.7 L408.2,727.1 L408.9,728 L409.6,728.7 L410.3,729.4 L411,730 L411.7,730.5 L412.4,730.3 L413.1,729.8 L413.8,730.1 L414.5,729.8 L415.2,727.7 L415.9,725.6 L416.6,725.3 L417.3,724.6 L418,722.7 L418.7,721.3 L419.4,721.4 L420.1,722.2 L420.8,723.1 L421.5,724 L422.2,724.6 L422.9,725.2 L423.6,725.1 L424.3,725.7 L425,727.8 L425.7,730.3 L426.4,731.8 L427.1,733 L427.8,733.8 L428.5,734.4 L429.2,734.8 L429.9,734.5 L430.6,732.9 L431.3,732.1 L432,732.5 L432.7,732.6 L433.4,732.3 L434.1,732.8 L434.8,733.8 L435.5,733.6 L436.2,733.2 L436.9,735.2 L437.6,738 L438.3,739.2 L439,739.8 L439.7,740.1 L440.4,740.1 L441.1,740.3 L441.8,740.9 L442.5,741.4 L443.2,742.4 L443.9,743 L444.6,742.3 L445.3,740.5 L446,739 L446.7,737.9 L447.4,735.8 L448.1,732.8 L448.8,730.5 L449.5,730.1 L450.2,730.6 L450.9,730.3 L451.6,728.5 L452.3,727.7 L453,729.4 L453.7,731 L454.4,732.1 L455.1,734.3 L455.8,736.2 L456.5,737.9 L457.2,739.8 L457.9,741.4 L458.6,743.2 L459.3,744.6 L460,744.1 L460.7,743.1 L461.4,742.8 L462.1,742.8 L462.8,742.8 L463.5,741.9 L464.2,740.5 L464.9,740.1 L465.6,740 L466.3,739.2 L467,737.9 L467.7,736.4 L468.4,735.1 L469.1,733.7 L469.8,731.9 L470.5,730.3 L471.2,728.7 L471.9,728 L472.6,728 L473.3,727.5 L474,726.2 L474.7,724.9 L475.4,725.2 L476.1,725.9 L476.8,726.8 L477.5,728 L478.2,728.9 L478.9,729.8 L479.6,731.2 L480.3,731.9 L481,730.9 L481.7,729.2 L482.4,727.5 L483.1,726.2 L483.8,726.1 L484.5,727.3 L485.2,727.6 L485.9,726.5 L486.6,724.8 L487.3,723.9 L488,724.4 L488.7,724.8 L489.4,724.7 L490.1,724.5 L490.8,724.7 L491.5,725.5 L492.2,727 L492.9,728 L493.6,727.6 L494.3,728.2 L495,730.1 L495.7,731.2 L496.4,731.3 L497.1,731.7 L497.8,732.3 L498.5,731.6 L499.2,730.6 L499.9,730.3 L500.6,730.7 L501.3,731.6 L502,731.8 L502.7,730.7 L503.4,729.1 L504.1,728.5 L504.8,730.1 L505.5,731.9 L506.2,732.9 L506.9,733.1 L507.6,732 L508.3,731 L509,730.8 L509.7,730.9 L510.4,731 L511.1,730.7 L511.8,731.2 L512.5,732.8 L513.2,734.1 L513.9,734.1 L514.6,734.7 L515.3,736 L516,736.1 L516.7,734.9 L517.4,734.3 L518.1,734.8 L518.8,735.5 L519.5,735.7 L520.2,735.2 L520.9,733.3 L521.6,731.1 L522.3,730.2 L523,729.7 L523.7,728.8 L524.4,727.8 L525.1,726.7 L525.8,726 L526.5,726.3 L527.2,725.7 L527.9,725.1 L528.6,724.9 L529.3,724.2 L530,724 L530.7,724.5 L531.4,725.1 L532.1,725.4 L532.8,724.6 L533.5,723.6 L534.2,724.6 L534.9,726.8 L535.6,728.9 L536.3,729.9 L537,729.4 L537.7,729.1 L538.4,728.9 L539.1,728.7 L539.8,729.5 L540.5,730.1 L541.2,730.2 L541.9,729.9 L542.6,729.6 L543.3,729.5 L544,729.5 L544.7,729.6 L545.4,730.3 L546.1,731 L546.8,731.8 L547.5,732.4 L548.2,732.6 L548.9,732.4 L549.6,732.1 L550.3,733.5 L551,736.1 L551.7,738 L552.4,738.3 L553.1,738.2 L553.8,739.4 L554.5,739.8 L555.2,739.5 L555.9,739.5 L556.6,739.1 L557.3,737.3 L558,735.8 L558.7,736.3 L559.4,736.7 L560.1,736.1 L560.8,735.5 L561.5,735.1 L562.2,735.1 L562.9,734.6 L563.6,734 L564.3,734.4 L565,735.7 L565.7,737.1 L566.4,737.6 L567.1,737.5 L567.8,736.8 L568.5,736 L569.2,735.6 L569.9,735.9 L570.6,736.4 L571.3,736.7 L572,736.1 L572.7,735.1 L573.4,735 L574.1,734.9 L574.8,734.8 L575.5,735.6 L576.2,736.6 L576.9,737.5 L577.6,737.7 L578.3,736.8 L579,736 L579.7,735.6 L580.4,736.1 L581.1,737.6 L581.8,738.2 L582.5,736.7 L583.2,734.4 L583.9,732.7 L584.6,732.3 L585.3,732.7 L586,731.8 L586.7,731 L587.4,731.6 L588.1,731.4 L588.8,729.8 L589.5,728.4 L590.2,727.7 L590.9,728.1 L591.6,728.6 L592.3,728.8 L593,728 L593.7,727.1 L594.4,727.7 L595.1,728.8 L595.8,730.1 L596.5,731.5 L597.2,732 L597.9,731.1 L598.6,730.5 L599.3,730.8 L600,731.1 L600.7,730.5 L601.4,729.6 L602.1,729.6 L602.8,730.9 L603.5,732.8 L604.2,734.4 L604.9,735.3 L605.6,736.3 L606.3,736.8 L607,736.7 L607.7,737.1 L608.4,737.8 L609.1,738.8 L609.8,740.3 L610.5,741.4 L611.2,742 L611.9,742.6 L612.6,743.6 L613.3,744.3 L614,744.2 L614.7,743.8 L615.4,742.9 L616.1,742 L616.8,741.4 L617.5,740.9 L618.2,740.7 L618.9,741.1 L619.6,741.1 L620.3,740.1 L621,739.3 L621.7,738.6 L622.4,737.4 L623.1,736.9 L623.8,737 L624.5,736.2 L625.2,735.3 L625.9,735.4 L626.6,736.5 L627.3,737 L628,736.8 L628.7,736.9 L629.4,737.5 L630.1,738.5 L630.8,738.3 L631.5,736.7 L632.2,735.9 L632.9,735.9 L633.6,736.5 L634.3,736.1 L635,735.6 L635.7,737.3 L636.4,738.8 L637.1,738.9 L637.8,738.3 L638.5,737.8 L639.2,737.9 L639.9,737.9 L640.6,737.7 L641.3,737.2 L642,736.6 L642.7,736 L643.4,735.6 L644.1,736.4 L644.8,738.3 L645.5,739.5 L646.2,739.9 L646.9,740.7 L647.6,741.5 L648.3,740.7 L649,738.9 L649.7,737.5 L650.4,736.5 L651.1,735.4 L651.8,734.3 L652.5,733.2 L653.2,731.6 L653.9,730.3 L654.6,730.5 L655.3,731.7 L656,732.8 L656.7,732.9 L657.4,732.7 L658.1,733.1 L658.8,733.5 L659.5,733.2 L660.2,733 L660.9,732.3 L661.6,731.6 L662.3,731.9 L663,732.1" stroke="#3f7cc4" stroke-width="1.2" fill="none" stroke-linejoin="round" />
<path d="M369.7,732.7 L370.4,732 L371.1,731.2 L371.8,731.3 L372.5,732.9 L373.2,734.2 L373.9,734.5 L374.6,734.8 L375.3,735.7 L376,736.9 L376.7,737.9 L377.4,738.5 L378.1,739.4 L378.8,740.8 L379.5,742.3 L380.2,742.8 L380.9,742.5 L381.6,743.6 L382.3,745 L383,745.3 L383.7,745.7 L384.4,745.8 L385.1,744.9 L385.8,744 L386.5,743.7 L387.2,743.2 L387.9,742.3 L388.6,741 L389.3,739.3 L390,737.4 L390.7,736.1 L391.4,735.9 L392.1,735.6 L392.8,734.4 L393.5,733.1 L394.2,733.1 L394.9,733.5 L395.6,733.6 L396.3,733.6 L397,733.2 L397.7,732.3 L398.4,731.8 L399.1,731.4 L399.8,730.4 L400.5,729.6 L401.2,729.9 L401.9,729.3 L402.6,727 L403.3,724.5 L404,723.1 L404.7,722.7 L405.4,721.8 L406.1,720.3 L406.8,719.6 L407.5,719.8 L408.2,720.3 L408.9,720.9 L409.6,721.4 L410.3,721.9 L411,722.1 L411.7,722.7 L412.4,723.9 L413.1,724.4 L413.8,724.9 L414.5,726.4 L415.2,728.5 L415.9,731.1 L416.6,733 L417.3,733.5 L418,733.7 L418.7,734 L419.4,734.4 L420.1,734.6 L420.8,734.2 L421.5,733.4 L422.2,733.1 L422.9,733.2 L423.6,732.4 L424.3,731.3 L425,730 L425.7,728.3 L426.4,727.7 L427.1,727.9 L427.8,728.6 L428.5,729.4 L429.2,729.4 L429.9,729.4 L430.6,730.5 L431.3,733.1 L432,735.2 L432.7,735.4 L433.4,735.2 L434.1,736.3 L434.8,737.4 L435.5,738.1 L436.2,738.7 L436.9,739.3 L437.6,739.6 L438.3,739.2 L439,738.3 L439.7,738.2 L440.4,738.9 L441.1,739.1 L441.8,739.2 L442.5,738.8 L443.2,738.5 L443.9,738.3 L444.6,738.4 L445.3,739.2 L446,738.7 L446.7,736.5 L447.4,734.3 L448.1,732.8 L448.8,733.1 L449.5,733.7 L450.2,733 L450.9,731.4 L451.6,729.6 L452.3,729.4 L453,729.8 L453.7,729.6 L454.4,730.2 L455.1,731.3 L455.8,731.4 L456.5,731.5 L457.2,732.7 L457.9,733.5 L458.6,733.4 L459.3,733.6 L460,734.9 L460.7,736.7 L461.4,738.5 L462.1,739.8 L462.8,740.5 L463.5,740.5 L464.2,740.6 L464.9,741.2 L465.6,741.6 L466.3,741.6 L467,741 L467.7,740.5 L468.4,739.7 L469.1,738.2 L469.8,737 L470.5,736.3 L471.2,735.7 L471.9,735.7 L472.6,735.8 L473.3,735.7 L474,735.8 L474.7,735.6 L475.4,735.5 L476.1,735.8 L476.8,735.8 L477.5,734.4 L478.2,732.1 L478.9,731.1 L479.6,731.5 L480.3,731.7 L481,730.9 L481.7,730.4 L482.4,730.2 L483.1,730 L483.8,729.6 L484.5,729.3 L485.2,729.2 L485.9,729.4 L486.6,729.5 L487.3,728.9 L488,727.5 L488.7,726.9 L489.4,726.6 L490.1,726.3 L490.8,727.3 L491.5,729 L492.2,729 L492.9,727.7 L493.6,727.2 L494.3,727.7 L495,728.9 L495.7,730.3 L496.4,731.8 L497.1,732.8 L497.8,733.4 L498.5,733.8 L499.2,733.5 L499.9,732.7 L500.6,732.4 L501.3,732.4 L502,732.7 L502.7,733.7 L503.4,734.4 L504.1,734.6 L504.8,735.6 L505.5,736.8 L506.2,736.4 L506.9,736.5 L507.6,738.1 L508.3,739.8 L509,740.9 L509.7,741.7 L510.4,742.6 L511.1,743 L511.8,742.5 L512.5,741.8 L513.2,741.7 L513.9,741.5 L514.6,741.7 L515.3,743 L516,743.7 L516.7,742.8 L517.4,741.5 L518.1,740.5 L518.8,739.2 L519.5,737.6 L520.2,735.8 L520.9,734.3 L521.6,733 L522.3,731.4 L523,730.1 L523.7,729.6 L524.4,729.7 L525.1,729.8 L525.8,729.8 L526.5,730 L527.2,730.8 L527.9,732.2 L528.6,733.4 L529.3,733.6 L530,733.6 L530.7,734.8 L531.4,736.7 L532.1,737.6 L532.8,737.9 L533.5,738.2 L534.2,738.7 L534.9,738.4 L535.6,737 L536.3,736.3 L537,736.4 L537.7,736.2 L538.4,735.8 L539.1,735.3 L539.8,734.5 L540.5,734.5 L541.2,735.1 L541.9,735.1 L542.6,733.9 L543.3,732.6 L544,732.3 L544.7,732.2 L545.4,732.4 L546.1,734.1 L546.8,736.1 L547.5,736.9 L548.2,737 L548.9,737.3 L549.6,737.6 L550.3,737.5 L551,737.3 L551.7,736.4 L552.4,735.9 L553.1,737.3 L553.8,739.3 L554.5,739.7 L555.2,739 L555.9,739.7 L556.6,739.9 L557.3,739 L558,738.6 L558.7,737.8 L559.4,737 L560.1,737.1 L560.8,736.5 L561.5,734.8 L562.2,733.4 L562.9,733.2 L563.6,732.5 L564.3,731.4 L565,730.9 L565.7,730.4 L566.4,729.2 L567.1,728 L567.8,727.6 L568.5,728.4 L569.2,729.3 L569.9,729.6 L570.6,730.8 L571.3,732.4 L572,733.7 L572.7,735 L573.4,736.4 L574.1,737.7 L574.8,738.8 L575.5,739.9 L576.2,741.2 L576.9,741.6 L577.6,741.2 L578.3,741 L579,740 L579.7,739 L580.4,739.2 L581.1,740.4 L581.8,740.7 L582.5,740 L583.2,738.7 L583.9,736.7 L584.6,734.5 L585.3,733.4 L586,733.4 L586.7,733.4 L587.4,732.4 L588.1,732.6 L588.8,733.8 L589.5,734.9 L590.2,735.6 L590.9,736.2 L591.6,736.2 L592.3,735.9 L593,735.6 L593.7,734.5 L594.4,733.5 L595.1,733.6 L595.8,733.8 L596.5,733 L597.2,733.4 L597.9,734 L598.6,733.7 L599.3,733.5 L600,733.5 L600.7,734.1 L601.4,735.3 L602.1,736.1 L602.8,736.9 L603.5,737.1 L604.2,736.8 L604.9,736.9 L605.6,737.6 L606.3,739.1 L607,739.9 L607.7,739.5 L608.4,739.7 L609.1,740.5 L609.8,741.3 L610.5,741.6 L611.2,740.6 L611.9,738.9 L612.6,737.5 L613.3,736.8 L614,736.7 L614.7,736.5 L615.4,735.4 L616.1,734.1 L616.8,733.8 L617.5,734.1 L618.2,733.9 L618.9,733.2 L619.6,733.1 L620.3,733.6 L621,734.9 L621.7,736.6 L622.4,737.9 L623.1,739.4 L623.8,740.3 L624.5,740.4 L625.2,740.3 L625.9,740.2 L626.6,739.4 L627.3,738.1 L628,737.1 L628.7,735.5 L629.4,732.8 L630.1,731.3 L630.8,730.9 L631.5,730 L632.2,728.7 L632.9,727.1 L633.6,725.6 L634.3,725.1 L635,724.7 L635.7,724.8 L636.4,725.2 L637.1,725.5 L637.8,726.1 L638.5,727 L639.2,728.1 L639.9,728.8 L640.6,729 L641.3,729.1 L642,729.2 L642.7,729.7 L643.4,730.9 L644.1,732.1 L644.8,732.7 L645.5,732.9 L646.2,732.5 L646.9,732 L647.6,731.3 L648.3,730.3 L649,730.2 L649.7,730.7 L650.4,732 L651.1,733.6 L651.8,735.3 L652.5,736.9 L653.2,737.7 L653.9,737.9 L654.6,738.3 L655.3,738.9 L656,739.1 L656.7,739 L657.4,739.1 L658.1,739.8 L658.8,740.5 L659.5,739.3 L660.2,736.9 L660.9,735.1 L661.6,734.3 L662.3,733.6 L663,732.8" stroke="#3f7cc4" stroke-width="1.2" fill="none" stroke-linejoin="round" />
<path d="M369.7,746.8 L370.4,745 L371.1,743.4 L371.8,742.4 L372.5,741.9 L373.2,742.2 L373.9,742.9 L374.6,742.3 L375.3,740.8 L376,739.2 L376.7,737.8 L377.4,738.1 L378.1,738.2 L378.8,736.2 L379.5,734.4 L380.2,734.1 L380.9,733.9 L381.6,734.4 L382.3,735.3 L383,735.6 L383.7,736.1 L384.4,737.2 L385.1,738.6 L385.8,739.7 L386.5,739.8 L387.2,739.3 L387.9,739.3 L388.6,739.3 L389.3,738.6 L390,737.3 L390.7,736.8 L391.4,738.5 L392.1,740.3 L392.8,740 L393.5,738.9 L394.2,738.8 L394.9,738.3 L395.6,737.4 L396.3,737.2 L397,737.5 L397.7,738.1 L398.4,738.7 L399.1,739.4 L399.8,740.1 L400.5,740.4 L401.2,740.7 L401.9,740.8 L402.6,739.9 L403.3,739.6 L404,739.8 L404.7,739.1 L405.4,738.3 L406.1,737.4 L406.8,736.2 L407.5,735.5 L408.2,735.2 L408.9,734.7 L409.6,733.7 L410.3,732.7 L411,732.6 L411.7,733.4 L412.4,734.2 L413.1,734.5 L413.8,734.4 L414.5,734.6 L415.2,734.8 L415.9,734.6 L416.6,734.7 L417.3,735.2 L418,735.7 L418.7,735.4 L419.4,734.6 L420.1,734.4 L420.8,735.1 L421.5,735.1 L422.2,734.5 L422.9,734.6 L423.6,734.4 L424.3,733.2 L425,733 L425.7,734.8 L426.4,736.6 L427.1,736.2 L427.8,734.6 L428.5,733.2 L429.2,732.8 L429.9,733 L430.6,733 L431.3,732.3 L432,730.8 L432.7,729.2 L433.4,728.5 L434.1,728.7 L434.8,729.9 L435.5,731.2 L436.2,731.5 L436.9,731.5 L437.6,732.8 L438.3,734.8 L439,736 L439.7,737 L440.4,738.4 L441.1,740.3 L441.8,742 L442.5,742.7 L443.2,743.6 L443.9,744.3 L444.6,745.1 L445.3,745.4 L446,745.3 L446.7,746.3 L447.4,747.7 L448.1,747.8 L448.8,746.9 L449.5,746.1 L450.2,746.8 L450.9,747.4 L451.6,747.3 L452.3,746.7 L453,746.3 L453.7,746.2 L454.4,746 L455.1,745.3 L455.8,744 L456.5,741.9 L457.2,739.8 L457.9,738.8 L458.6,738.6 L459.3,738.2 L460,737.2 L460.7,736.7 L461.4,736.2 L462.1,735.1 L462.8,734.8 L463.5,736 L464.2,736.9 L464.9,737.1 L465.6,737.4 L466.3,738 L467,738.6 L467.7,738 L468.4,736.8 L469.1,736.7 L469.8,737.9 L470.5,738.3 L471.2,737.5 L471.9,735.8 L472.6,734.7 L473.3,734.3 L474,733 L474.7,729.8 L475.4,726.8 L476.1,725.9 L476.8,726.7 L477.5,727.2 L478.2,726.2 L478.9,725.5 L479.6,725.7 L480.3,725.5 L481,726.1 L481.7,727.2 L482.4,728.2 L483.1,728.8 L483.8,729.2 L484.5,730.1 L485.2,731.9 L485.9,734.2 L486.6,736.7 L487.3,738.7 L488,740.3 L488.7,741.6 L489.4,742.7 L490.1,742.9 L490.8,742.2 L491.5,741.8 L492.2,741.9 L492.9,741.9 L493.6,741.6 L494.3,741.7 L495,741.3 L495.7,740 L496.4,739.1 L497.1,739.1 L497.8,738.9 L498.5,738.5 L499.2,737.9 L499.9,737.8 L500.6,737.5 L501.3,736.9 L502,736.9 L502.7,736.4 L503.4,736.2 L504.1,736.8 L504.8,736.7 L505.5,736.3 L506.2,736.8 L506.9,737.6 L507.6,736.9 L508.3,734.9 L509,733.9 L509.7,735.7 L510.4,738.3 L511.1,738.9 L511.8,738.4 L512.5,737.7 L513.2,737.9 L513.9,738.6 L514.6,739.1 L515.3,740 L516,740.8 L516.7,741.4 L517.4,741.6 L518.1,742.2 L518.8,743.7 L519.5,744.6 L520.2,744 L520.9,743.6 L521.6,743.6 L522.3,743.9 L523,744.2 L523.7,743.7 L524.4,743.2 L525.1,742.3 L525.8,740.9 L526.5,739.6 L527.2,737.8 L527.9,735.9 L528.6,734.7 L529.3,733.2 L530,731.4 L530.7,730.6 L531.4,730.1 L532.1,729.1 L532.8,728.4 L533.5,727.3 L534.2,726.2 L534.9,725.3 L535.6,724 L536.3,723.7 L537,724.8 L537.7,725.4 L538.4,725.8 L539.1,726.4 L539.8,726 L540.5,725 L541.2,724.6 L541.9,725.8 L542.6,727.2 L543.3,728.3 L544,730 L544.7,731.3 L545.4,732 L546.1,732.8 L546.8,733.9 L547.5,735.1 L548.2,736.7 L548.9,737.6 L549.6,737.8 L550.3,738.1 L551,738.5 L551.7,738.6 L552.4,738.4 L553.1,738.4 L553.8,738.3 L554.5,738.5 L555.2,739.6 L555.9,741 L556.6,740.8 L557.3,740.2 L558,740.5 L558.7,740.6 L559.4,740.9 L560.1,742.7 L560.8,744.4 L561.5,744.4 L562.2,743.9 L562.9,744 L563.6,744.7 L564.3,745.7 L565,745.6 L565.7,744 L566.4,742.4 L567.1,741.1 L567.8,739.5 L568.5,738.8 L569.2,738.8 L569.9,737.9 L570.6,735.7 L571.3,733.9 L572,733 L572.7,733 L573.4,733.7 L574.1,734 L574.8,734.2 L575.5,734.3 L576.2,734.5 L576.9,734.6 L577.6,735.1 L578.3,735 L579,734.5 L579.7,735.4 L580.4,736.5 L581.1,736.9 L581.8,736.4 L582.5,735.6 L583.2,734.7 L583.9,734 L584.6,733.9 L585.3,733.9 L586,734.3 L586.7,734.7 L587.4,734.8 L588.1,735.3 L588.8,735.8 L589.5,735.9 L590.2,736 L590.9,735 L591.6,733.8 L592.3,733.4 L593,732.9 L593.7,731 L594.4,728.8 L595.1,728.5 L595.8,729.6 L596.5,729.5 L597.2,728 L597.9,726.6 L598.6,726.6 L599.3,726.5 L600,726.2 L600.7,726.6 L601.4,726.1 L602.1,725.6 L602.8,726.6 L603.5,727.9 L604.2,728.6 L604.9,730 L605.6,731.7 L606.3,732.8 L607,733.1 L607.7,733.2 L608.4,733.3 L609.1,733.6 L609.8,734.4 L610.5,735.3 L611.2,736.9 L611.9,738.9 L612.6,739.6 L613.3,740.1 L614,740.4 L614.7,739.8 L615.4,739.4 L616.1,739.2 L616.8,738.5 L617.5,737.6 L618.2,736.9 L618.9,737.1 L619.6,737.2 L620.3,736 L621,734.9 L621.7,735.2 L622.4,735.2 L623.1,734.9 L623.8,735.3 L624.5,736.4 L625.2,737.8 L625.9,737.7 L626.6,737.4 L627.3,737.6 L628,736.5 L628.7,735.4 L629.4,736 L630.1,736.9 L630.8,736.6 L631.5,736.5 L632.2,736.9 L632.9,736.5 L633.6,734.6 L634.3,733 L635,732.2 L635.7,731.2 L636.4,730 L637.1,729.4 L637.8,729.5 L638.5,729.9 L639.2,730.9 L639.9,732.5 L640.6,733.8 L641.3,734.5 L642,735.3 L642.7,736.5 L643.4,737.1 L644.1,737.6 L644.8,738.5 L645.5,739.2 L646.2,738.9 L646.9,738.7 L647.6,739.5 L648.3,740.4 L649,739.9 L649.7,738.2 L650.4,737.2 L651.1,737.4 L651.8,737.9 L652.5,738.2 L653.2,738.3 L653.9,738.1 L654.6,737.9 L655.3,738.2 L656,738 L656.7,738.3 L657.4,739.4 L658.1,739.7 L658.8,739.5 L659.5,739.2 L660.2,739.7 L660.9,739.8 L661.6,738.5 L662.3,736.3 L663,734.5" stroke="#3f7cc4" stroke-width="1.2" fill="none" stroke-linejoin="round" />
<path d="M369.7,740.7 L370.4,740.3 L371.1,740.6 L371.8,741.1 L372.5,741.9 L373.2,742.8 L373.9,743.2 L374.6,743.6 L375.3,743.7 L376,743.8 L376.7,743.8 L377.4,742.8 L378.1,741.7 L378.8,741.4 L379.5,741.1 L380.2,740.5 L380.9,739.8 L381.6,738.9 L382.3,738 L383,736.2 L383.7,733.8 L384.4,732.2 L385.1,731 L385.8,729.7 L386.5,729 L387.2,729.5 L387.9,730 L388.6,729.8 L389.3,730.1 L390,731 L390.7,732.1 L391.4,733.3 L392.1,734.5 L392.8,735.1 L393.5,735.8 L394.2,738.1 L394.9,740.8 L395.6,742.1 L396.3,741.2 L397,740.1 L397.7,740.7 L398.4,741.9 L399.1,742.2 L399.8,742.6 L400.5,743.4 L401.2,744.5 L401.9,745.9 L402.6,747.2 L403.3,748.4 L404,749.1 L404.7,749.3 L405.4,748.4 L406.1,747.8 L406.8,748.9 L407.5,750 L408.2,749.7 L408.9,747.5 L409.6,744.9 L410.3,743.2 L411,742 L411.7,740.7 L412.4,739.9 L413.1,739.5 L413.8,738.9 L414.5,739.2 L415.2,739.5 L415.9,739.6 L416.6,740.3 L417.3,740.9 L418,741.7 L418.7,742.5 L419.4,742.7 L420.1,742.5 L420.8,742.8 L421.5,743.9 L422.2,744.8 L422.9,744.4 L423.6,743.2 L424.3,742.1 L425,741.8 L425.7,742.1 L426.4,741.5 L427.1,741 L427.8,741 L428.5,740.9 L429.2,740.7 L429.9,740 L430.6,738.8 L431.3,737 L432,735.8 L432.7,735.3 L433.4,734.3 L434.1,733 L434.8,731.4 L435.5,730.8 L436.2,731.5 L436.9,732.4 L437.6,732.9 L438.3,733.3 L439,734 L439.7,735.1 L440.4,736.1 L441.1,737.5 L441.8,739.4 L442.5,741.7 L443.2,742.5 L443.9,741.8 L444.6,741.6 L445.3,742.8 L446,743.8 L446.7,744.3 L447.4,745.6 L448.1,746.6 L448.8,746.7 L449.5,747.2 L450.2,747.4 L450.9,746.7 L451.6,746.4 L452.3,746.6 L453,746.7 L453.7,746.8 L454.4,747.1 L455.1,746.8 L455.8,745.3 L456.5,743.9 L457.2,743.2 L457.9,743.2 L458.6,742.8 L459.3,741.1 L460,740 L460.7,739.8 L461.4,739.8 L462.1,739.6 L462.8,738.7 L463.5,737.7 L464.2,737.4 L464.9,737.5 L465.6,737 L466.3,736 L467,735.8 L467.7,736.1 L468.4,735.9 L469.1,735.6 L469.8,735.9 L470.5,736.7 L471.2,736.3 L471.9,735.2 L472.6,734.5 L473.3,733.6 L474,732.5 L474.7,731.7 L475.4,730.5 L476.1,729.7 L476.8,730.1 L477.5,730.6 L478.2,731.1 L478.9,732.1 L479.6,732.7 L480.3,732.9 L481,733.3 L481.7,734.6 L482.4,736.6 L483.1,736.5 L483.8,735.1 L484.5,734.5 L485.2,734.5 L485.9,734.3 L486.6,734.7 L487.3,735.2 L488,734.3 L488.7,733.7 L489.4,734.5 L490.1,735.1 L490.8,735.6 L491.5,736.2 L492.2,736.1 L492.9,736 L493.6,737.6 L494.3,739.6 L495,740.5 L495.7,740.5 L496.4,741 L497.1,742.1 L497.8,742.1 L498.5,740.9 L499.2,740.6 L499.9,740.4 L500.6,739.6 L501.3,738.3 L502,736.6 L502.7,734.9 L503.4,733.4 L504.1,732.2 L504.8,731.3 L505.5,730.8 L506.2,730.4 L506.9,730.7 L507.6,732 L508.3,733.1 L509,733.6 L509.7,733.2 L510.4,732.7 L511.1,732.7 L511.8,732.6 L512.5,731.8 L513.2,731.9 L513.9,733.3 L514.6,733.9 L515.3,732.9 L516,732.7 L516.7,734.4 L517.4,736.2 L518.1,737.9 L518.8,740.2 L519.5,742.1 L520.2,742.1 L520.9,741.5 L521.6,741.4 L522.3,741.7 L523,742.2 L523.7,743.4 L524.4,744.1 L525.1,743.7 L525.8,743.9 L526.5,744.4 L527.2,743.4 L527.9,741.9 L528.6,740.4 L529.3,740.1 L530,742.2 L530.7,743.8 L531.4,743.1 L532.1,742.3 L532.8,742.5 L533.5,742.2 L534.2,742.3 L534.9,743.2 L535.6,743.8 L536.3,743.4 L537,742.7 L537.7,743 L538.4,743.2 L539.1,743.7 L539.8,745.1 L540.5,745.4 L541.2,745.1 L541.9,744.4 L542.6,743.6 L543.3,743.8 L544,744.3 L544.7,743.9 L545.4,743.4 L546.1,744 L546.8,745.1 L547.5,745 L548.2,744.3 L548.9,744.1 L549.6,744.9 L550.3,745.9 L551,746.5 L551.7,745.7 L552.4,744.3 L553.1,743.5 L553.8,743.3 L554.5,742.2 L555.2,740.8 L555.9,739.8 L556.6,739.6 L557.3,739.4 L558,738.2 L558.7,736.7 L559.4,735.2 L560.1,734.2 L560.8,734 L561.5,734.2 L562.2,734.1 L562.9,733.8 L563.6,732.7 L564.3,732.3 L565,732.3 L565.7,732 L566.4,730.9 L567.1,729.4 L567.8,729.2 L568.5,730.5 L569.2,731.9 L569.9,732.3 L570.6,732.9 L571.3,733.8 L572,734.1 L572.7,734.3 L573.4,735.7 L574.1,738.1 L574.8,739.2 L575.5,738.8 L576.2,737.5 L576.9,736.1 L577.6,735.2 L578.3,734.5 L579,733.7 L579.7,731.5 L580.4,729.8 L581.1,729.8 L581.8,730.6 L582.5,731.7 L583.2,732 L583.9,731.7 L584.6,731.4 L585.3,732.1 L586,733.4 L586.7,733.5 L587.4,732.4 L588.1,731.7 L588.8,732.1 L589.5,732.9 L590.2,732.7 L590.9,732.5 L591.6,732.3 L592.3,731.7 L593,731.3 L593.7,731.6 L594.4,732.4 L595.1,732.8 L595.8,732.1 L596.5,732.3 L597.2,733.9 L597.9,734.4 L598.6,734.2 L599.3,734.2 L600,733.4 L600.7,733.1 L601.4,733.9 L602.1,734.7 L602.8,735 L603.5,735.9 L604.2,736.5 L604.9,735.6 L605.6,734.3 L606.3,733.8 L607,734.7 L607.7,735.7 L608.4,735.1 L609.1,733.5 L609.8,733.2 L610.5,734.6 L611.2,735.7 L611.9,735.4 L612.6,735.3 L613.3,735.6 L614,735.6 L614.7,736.1 L615.4,737.1 L616.1,737.9 L616.8,738.6 L617.5,739 L618.2,740.4 L618.9,742.3 L619.6,742.9 L620.3,744.2 L621,746.4 L621.7,747.7 L622.4,746.9 L623.1,745.9 L623.8,745.2 L624.5,743.9 L625.2,742.2 L625.9,741.2 L626.6,740.9 L627.3,740.1 L628,738.8 L628.7,737.5 L629.4,736.8 L630.1,737.4 L630.8,738 L631.5,737.7 L632.2,737.5 L632.9,737.9 L633.6,739.1 L634.3,741.2 L635,742.7 L635.7,743.1 L636.4,743.5 L637.1,744 L637.8,743.6 L638.5,742.5 L639.2,742.2 L639.9,743.3 L640.6,744.1 L641.3,744.2 L642,744.2 L642.7,744 L643.4,743.8 L644.1,743.1 L644.8,742.4 L645.5,741.2 L646.2,740 L646.9,739.8 L647.6,739.5 L648.3,738.9 L649,738.8 L649.7,737.6 L650.4,735.9 L651.1,736 L651.8,736.4 L652.5,735.3 L653.2,734.3 L653.9,734.6 L654.6,735.2 L655.3,735.4 L656,735 L656.7,734.8 L657.4,735.5 L658.1,736.5 L658.8,737.2 L659.5,737.2 L660.2,736 L660.9,734.8 L661.6,734.5 L662.3,734.9 L663,735.2" stroke="#3f7cc4" stroke-width="1.2" fill="none" stroke-linejoin="round" />
<path d="M689.7,715.2 L690.4,714.6 L691.1,714.9 L691.8,714.7 L692.5,714.1 L693.2,714.6 L693.9,716.1 L694.6,717.1 L695.3,717.3 L696,717.8 L696.7,718.2 L697.4,718.4 L698.1,718.9 L698.8,719.5 L699.5,719.4 L700.2,718.5 L700.9,717.8 L701.6,717.3 L702.3,716.1 L703,715 L703.7,714 L704.4,713.5 L705.1,713.1 L705.8,712.5 L706.5,712.2 L707.2,712.2 L707.9,711.7 L708.6,711.9 L709.3,713.2 L710,713.6 L710.7,713.3 L711.4,713.4 L712.1,713.5 L712.8,714.1 L713.5,714.5 L714.2,714.2 L714.9,714 L715.6,714.9 L716.3,716 L717,716.4 L717.7,716.1 L718.4,715.4 L719.1,714.6 L719.8,714.4 L720.5,714 L721.2,712.8 L721.9,711.9 L722.6,711.5 L723.3,711.2 L724,711.8 L724.7,712.9 L725.4,713.6 L726.1,714.1 L726.8,715.2 L727.5,717.4 L728.2,719.1 L728.9,720 L729.6,721 L730.3,721.5 L731,721.2 L731.7,721 L732.4,721.1 L733.1,721.1 L733.8,721.1 L734.5,721.2 L735.2,721.3 L735.9,721.4 L736.6,721.1 L737.3,720.7 L738,720.6 L738.7,720.3 L739.4,720.3 L740.1,720.4 L740.8,719.8 L741.5,718.6 L742.2,718 L742.9,717.9 L743.6,718.3 L744.3,719 L745,719.1 L745.7,718.8 L746.4,718.9 L747.1,718.9 L747.8,719.1 L748.5,719.8 L749.2,720.3 L749.9,720.8 L750.6,721.4 L751.3,721.8 L752,721.9 L752.7,722.1 L753.4,722.7 L754.1,723.1 L754.8,723.2 L755.5,723.1 L756.2,723.3 L756.9,723.4 L757.6,724.5 L758.3,726.1 L759,727.9 L759.7,729.4 L760.4,730.4 L761.1,732.6 L761.8,735.6 L762.5,737.6 L763.2,739.8 L763.9,742.8 L764.6,745.4 L765.3,748.2 L766,752.3 L766.7,756.6 L767.4,760.3 L768.1,765.3 L768.8,771.5 L769.5,777.5 L770.2,782.5 L770.9,787.3 L771.6,792.4 L772.3,798.1 L773,804.5 L773.7,810.3 L774.4,814.8 L775.1,819 L775.8,823.8 L776.5,825.2 L777.2,824.8 L777.9,823.4 L778.6,822.2 L779.3,821.5 L780,820.2 L780.7,818.3 L781.4,817 L782.1,816.5 L782.8,816.3 L783.5,816.2 L784.2,816.1 L784.9,815.1 L785.6,813.9 L786.3,813.2 L787,812.7 L787.7,812 L788.4,810.6 L789.1,808.7 L789.8,807.3 L790.5,806.6 L791.2,806.4 L791.9,806.4 L792.6,805.9 L793.3,805 L794,804 L794.7,802.7 L795.4,801.7 L796.1,800.7 L796.8,799.3 L797.5,797.9 L798.2,796.9 L798.9,795.8 L799.6,794.7 L800.3,793.3 L801,791.6 L801.7,790.2 L802.4,788.6 L803.1,786.8 L803.8,785.7 L804.5,786.1 L805.2,786.8 L805.9,786.6 L806.6,786.3 L807.3,787.1 L808,787.5 L808.7,786.6 L809.4,785.1 L810.1,782.9 L810.8,781 L811.5,779.6 L812.2,777.8 L812.9,776 L813.6,774.7 L814.3,773.8 L815,773.2 L815.7,772.5 L816.4,772.1 L817.1,771.6 L817.8,770.8 L818.5,770.4 L819.2,770.2 L819.9,769.7 L820.6,768.9 L821.3,768.5 L822,768.5 L822.7,768.1 L823.4,767.1 L824.1,765.9 L824.8,765.1 L825.5,765.2 L826.2,765.4 L826.9,764.6 L827.6,763.6 L828.3,763.3 L829,763.4 L829.7,763.7 L830.4,764.2 L831.1,764.4 L831.8,764.9 L832.5,765.3 L833.2,764.5 L833.9,763 L834.6,762.2 L835.3,762 L836,761.7 L836.7,761.7 L837.4,761.9 L838.1,762 L838.8,761.4 L839.5,759.8 L840.2,759 L840.9,759.4 L841.6,759.6 L842.3,758.9 L843,758.3 L843.7,758.1 L844.4,758.2 L845.1,758.5 L845.8,758.6 L846.5,757.8 L847.2,756.2 L847.9,755.4 L848.6,755.3 L849.3,755.1 L850,754.8 L850.7,753.8 L851.4,752.2 L852.1,751.1 L852.8,750.7 L853.5,750.5 L854.2,749.5 L854.9,748.7 L855.6,748.7 L856.3,748.9 L857,749.2 L857.7,749.3 L858.4,749.5 L859.1,750.3 L859.8,750.9 L860.5,750.5 L861.2,750.5 L861.9,751.3 L862.6,751.7 L863.3,751 L864,749.9 L864.7,749.8 L865.4,749.8 L866.1,749.1 L866.8,748 L867.5,747.4 L868.2,747 L868.9,746 L869.6,745.3 L870.3,744.8 L871,743.8 L871.7,742.7 L872.4,742.4 L873.1,742.7 L873.8,743.3 L874.5,743.9 L875.2,744.3 L875.9,745.4 L876.6,746.4 L877.3,747.1 L878,747.6 L878.7,747.4 L879.4,746.9 L880.1,746.5 L880.8,746.1 L881.5,745 L882.2,743.5 L882.9,742.2 L883.6,741.2 L884.3,740.8 L885,740.5 L885.7,739.7 L886.4,738.7 L887.1,737.9 L887.8,737.3 L888.5,737.3 L889.2,738 L889.9,739.1 L890.6,739.2 L891.3,738.5 L892,738 L892.7,738.2 L893.4,738.3 L894.1,739.1 L894.8,740.8 L895.5,741.5 L896.2,741.5 L896.9,741.4 L897.6,740.9 L898.3,740.8 L899,741.3 L899.7,741.8 L900.4,741.1 L901.1,739.9 L901.8,739.2 L902.5,738.6 L903.2,737.7 L903.9,737.3 L904.6,736.7 L905.3,735.1 L906,733.6 L906.7,732.2 L907.4,731.1 L908.1,730.9 L908.8,730.4 L909.5,729.1 L910.2,728.6 L910.9,729.5 L911.6,730.6 L912.3,730.7 L913,730.6 L913.7,730.6 L914.4,730.7 L915.1,730.4 L915.8,729.8 L916.5,729.4 L917.2,729.4 L917.9,729.4 L918.6,729.3 L919.3,729.7 L920,729.4 L920.7,728.8 L921.4,728.9 L922.1,729.6 L922.8,730.6 L923.5,731.9 L924.2,733.3 L924.9,734.3 L925.6,734.5 L926.3,734.6 L927,734.6 L927.7,733.8 L928.4,732.7 L929.1,732.1 L929.8,732.1 L930.5,731.9 L931.2,730.7 L931.9,729.4 L932.6,729 L933.3,728.9 L934,728.6 L934.7,728 L935.4,727.6 L936.1,728.3 L936.8,729.3 L937.5,729.8 L938.2,729.9 L938.9,729.8 L939.6,729.7 L940.3,730.1 L941,730.8 L941.7,731 L942.4,730.9 L943.1,730.5 L943.8,730.6 L944.5,731.2 L945.2,731.4 L945.9,731.8 L946.6,732.1 L947.3,731.9 L948,731.2 L948.7,729.9 L949.4,728.8 L950.1,728.5 L950.8,728.2 L951.5,727.5 L952.2,726 L952.9,724.8 L953.6,724.6 L954.3,725.1 L955,725.6 L955.7,725.7 L956.4,725.4 L957.1,725.8 L957.8,727.2 L958.5,728.2 L959.2,728.7 L959.9,728.4 L960.6,727.5 L961.3,727.8 L962,729.1 L962.7,730.2 L963.4,731.1 L964.1,731.4 L964.8,731.6 L965.5,732 L966.2,732.8 L966.9,732.7 L967.6,732 L968.3,732.3 L969,733.1 L969.7,733.6 L970.4,733.2 L971.1,733.1 L971.8,733.3 L972.5,732.8 L973.2,732.2 L973.9,731.9 L974.6,731.6 L975.3,731.2 L976,730.7 L976.7,729.5 L977.4,728.5 L978.1,727.7 L978.8,727.2 L979.5,727.4 L980.2,727.6 L980.9,728.2 L981.6,729.3 L982.3,730.4 L983,730.9" stroke="#3f7cc4" stroke-width="1.2" fill="none" stroke-linejoin="round" />
<path d="M689.7,723.4 L690.4,722.5 L691.1,722.1 L691.8,722.1 L692.5,722.1 L693.2,721.9 L693.9,722.9 L694.6,723.9 L695.3,723.9 L696,723.7 L696.7,723.8 L697.4,723.4 L698.1,722.2 L698.8,721.6 L699.5,722 L700.2,721.5 L700.9,720.6 L701.6,720.7 L702.3,720.8 L703,720.3 L703.7,719.6 L704.4,718.7 L705.1,718.5 L705.8,719.6 L706.5,721.3 L707.2,723.3 L707.9,724.3 L708.6,723.8 L709.3,723.8 L710,723.9 L710.7,723.9 L711.4,723.8 L712.1,723.6 L712.8,723 L713.5,722 L714.2,721.5 L714.9,721.8 L715.6,721.8 L716.3,721.3 L717,720.8 L717.7,720.5 L718.4,719.7 L719.1,719 L719.8,718.9 L720.5,719.3 L721.2,719.9 L721.9,719.9 L722.6,719 L723.3,718 L724,717.8 L724.7,717.8 L725.4,717 L726.1,716.6 L726.8,717.1 L727.5,717.6 L728.2,717.6 L728.9,717.9 L729.6,719.3 L730.3,720.6 L731,721.1 L731.7,721 L732.4,721.6 L733.1,723.7 L733.8,725.5 L734.5,726.1 L735.2,725.9 L735.9,725.6 L736.6,725.2 L737.3,724.5 L738,723.6 L738.7,722.7 L739.4,721 L740.1,719.2 L740.8,718.1 L741.5,716.9 L742.2,715.8 L742.9,715.3 L743.6,715.4 L744.3,715.3 L745,714.7 L745.7,714.3 L746.4,714.7 L747.1,715.3 L747.8,716.1 L748.5,718 L749.2,719.6 L749.9,720 L750.6,720 L751.3,720.4 L752,720.2 L752.7,719.5 L753.4,719 L754.1,719.3 L754.8,720.2 L755.5,720.9 L756.2,721.2 L756.9,720.7 L757.6,719.8 L758.3,719.1 L759,718.1 L759.7,717.4 L760.4,717 L761.1,716.8 L761.8,716.7 L762.5,717.3 L763.2,718.5 L763.9,719.6 L764.6,721.3 L765.3,723.6 L766,725.7 L766.7,727.7 L767.4,730 L768.1,732.6 L768.8,735 L769.5,736.9 L770.2,738.2 L770.9,738.9 L771.6,740 L772.3,742.2 L773,745 L773.7,746.8 L774.4,748.3 L775.1,750.9 L775.8,754.4 L776.5,758.4 L777.2,762.3 L777.9,765.1 L778.6,767.2 L779.3,770.5 L780,775.1 L780.7,779.5 L781.4,783.8 L782.1,787 L782.8,789.3 L783.5,792 L784.2,794.7 L784.9,797 L785.6,799.9 L786.3,802.8 L787,805.1 L787.7,806.8 L788.4,808.8 L789.1,811.6 L789.8,814.8 L790.5,815.7 L791.2,815.8 L791.9,815.6 L792.6,815.8 L793.3,816.3 L794,816.7 L794.7,816.5 L795.4,815.8 L796.1,815.5 L796.8,815.2 L797.5,814.4 L798.2,814.1 L798.9,813.3 L799.6,811.7 L800.3,810.4 L801,809.4 L801.7,808.9 L802.4,808.2 L803.1,806.9 L803.8,806 L804.5,805.3 L805.2,804.2 L805.9,802.8 L806.6,801.1 L807.3,799.7 L808,798.8 L808.7,797.8 L809.4,796.5 L810.1,795.1 L810.8,794.4 L811.5,794 L812.2,793.4 L812.9,793.3 L813.6,794 L814.3,794.7 L815,795 L815.7,795.3 L816.4,795 L817.1,793.4 L817.8,791.3 L818.5,790.7 L819.2,790.5 L819.9,789.4 L820.6,787.6 L821.3,785.6 L822,783.8 L822.7,782.9 L823.4,782.1 L824.1,781.2 L824.8,779.8 L825.5,777.7 L826.2,775.7 L826.9,774.2 L827.6,773.9 L828.3,774.5 L829,774.1 L829.7,773.3 L830.4,772.5 L831.1,771.6 L831.8,770.9 L832.5,770.1 L833.2,769.5 L833.9,769.3 L834.6,769.6 L835.3,770.5 L836,770.9 L836.7,770.2 L837.4,769.5 L838.1,769.3 L838.8,769.1 L839.5,768.7 L840.2,768.3 L840.9,767.7 L841.6,767.1 L842.3,766.2 L843,765.4 L843.7,764.5 L844.4,763.7 L845.1,763.2 L845.8,763.3 L846.5,763.9 L847.2,764.5 L847.9,764.4 L848.6,764.3 L849.3,763.6 L850,763.1 L850.7,762.9 L851.4,761.2 L852.1,759.2 L852.8,758.6 L853.5,758.7 L854.2,757.9 L854.9,757 L855.6,756.3 L856.3,756.1 L857,756.1 L857.7,755.9 L858.4,756.8 L859.1,758.6 L859.8,759.4 L860.5,759.4 L861.2,759.5 L861.9,759.7 L862.6,759.5 L863.3,758.7 L864,758 L864.7,757.6 L865.4,757 L866.1,755.7 L866.8,753.9 L867.5,753.4 L868.2,754.2 L868.9,755.3 L869.6,756.1 L870.3,756.2 L871,755.7 L871.7,754.7 L872.4,753.8 L873.1,753.2 L873.8,752.8 L874.5,752 L875.2,750.2 L875.9,747.7 L876.6,745.8 L877.3,744.7 L878,743.8 L878.7,743.2 L879.4,742.5 L880.1,742.1 L880.8,741.9 L881.5,741 L882.2,740 L882.9,740.2 L883.6,741.1 L884.3,741.6 L885,742.1 L885.7,742.2 L886.4,741.8 L887.1,742.1 L887.8,743.1 L888.5,743.7 L889.2,744 L889.9,744.2 L890.6,744.3 L891.3,744 L892,743.8 L892.7,743.1 L893.4,741.7 L894.1,740.8 L894.8,740.9 L895.5,740.6 L896.2,738.9 L896.9,736.8 L897.6,735.6 L898.3,735.2 L899,735.6 L899.7,736.7 L900.4,737.8 L901.1,738.3 L901.8,738.6 L902.5,739.3 L903.2,740.4 L903.9,741.2 L904.6,741.5 L905.3,741.8 L906,742 L906.7,742 L907.4,742 L908.1,741.9 L908.8,742.1 L909.5,741.4 L910.2,740 L910.9,738.7 L911.6,738.2 L912.3,738.1 L913,737.9 L913.7,737.6 L914.4,736.4 L915.1,734.4 L915.8,733.1 L916.5,733.1 L917.2,733.2 L917.9,732.6 L918.6,732 L919.3,732.2 L920,732.2 L920.7,731.9 L921.4,732.6 L922.1,733.7 L922.8,734.6 L923.5,735.5 L924.2,736.5 L924.9,737.3 L925.6,737.8 L926.3,738.4 L927,739.1 L927.7,739.7 L928.4,740.1 L929.1,739.9 L929.8,739 L930.5,737.5 L931.2,735.6 L931.9,733.8 L932.6,732.8 L933.3,732.7 L934,732 L934.7,730.8 L935.4,730.2 L936.1,730.3 L936.8,731.3 L937.5,732.8 L938.2,734.1 L938.9,736.1 L939.6,737.7 L940.3,737.7 L941,737.5 L941.7,737.5 L942.4,737.9 L943.1,738.3 L943.8,738.5 L944.5,738.4 L945.2,737.4 L945.9,736.6 L946.6,736.6 L947.3,735.5 L948,734.3 L948.7,733.6 L949.4,732.2 L950.1,730.4 L950.8,729.1 L951.5,728.3 L952.2,728.6 L952.9,728.9 L953.6,728.7 L954.3,728.6 L955,728.6 L955.7,728.7 L956.4,729 L957.1,729.1 L957.8,729.1 L958.5,729.7 L959.2,730 L959.9,729.8 L960.6,730.3 L961.3,730.3 L962,729 L962.7,727.6 L963.4,726.7 L964.1,726.5 L964.8,726.4 L965.5,725.7 L966.2,725.2 L966.9,725.3 L967.6,724.7 L968.3,724.2 L969,724.5 L969.7,724.9 L970.4,725.9 L971.1,727.3 L971.8,728 L972.5,728.3 L973.2,728.6 L973.9,728.4 L974.6,728.1 L975.3,727.3 L976,727 L976.7,727.4 L977.4,727.5 L978.1,726.8 L978.8,725.2 L979.5,723.1 L980.2,721.5 L980.9,720.9 L981.6,721.3 L982.3,721.8 L983,722" stroke="#3f7cc4" stroke-width="1.2" fill="none" stroke-linejoin="round" />
<path d="M689.7,711.1 L690.4,710.6 L691.1,710.5 L691.8,711.4 L692.5,712.8 L693.2,714.4 L693.9,715.7 L694.6,716.8 L695.3,717.5 L696,717.9 L696.7,717.8 L697.4,718 L698.1,719 L698.8,719.5 L699.5,719.4 L700.2,719.3 L700.9,719.2 L701.6,718.9 L702.3,718.9 L703,719.6 L703.7,719.9 L704.4,719.3 L705.1,718.2 L705.8,717.2 L706.5,716.6 L707.2,716 L707.9,716.1 L708.6,716.3 L709.3,716.3 L710,716.9 L710.7,717.2 L711.4,716.3 L712.1,715.6 L712.8,716.5 L713.5,717.5 L714.2,717.3 L714.9,716.8 L715.6,716.7 L716.3,716.8 L717,717 L717.7,717.5 L718.4,717.6 L719.1,717.3 L719.8,717.2 L720.5,716.7 L721.2,715.5 L721.9,714.3 L722.6,714 L723.3,713.5 L724,712.1 L724.7,711.5 L725.4,712.3 L726.1,713.3 L726.8,714.4 L727.5,715.4 L728.2,715.2 L728.9,714.3 L729.6,714.4 L730.3,715.3 L731,715.4 L731.7,715.3 L732.4,715 L733.1,715.1 L733.8,715.3 L734.5,714.7 L735.2,713.2 L735.9,711.5 L736.6,710.8 L737.3,711.6 L738,712.6 L738.7,713 L739.4,713 L740.1,712.4 L740.8,712.2 L741.5,712.9 L742.2,713.5 L742.9,713.6 L743.6,713.8 L744.3,713.9 L745,714.4 L745.7,715.3 L746.4,716.3 L747.1,718.2 L747.8,720.8 L748.5,723.4 L749.2,725.9 L749.9,726.8 L750.6,726.5 L751.3,726.6 L752,727 L752.7,726.7 L753.4,726.1 L754.1,725.6 L754.8,724.4 L755.5,722.9 L756.2,721.6 L756.9,721.2 L757.6,721.8 L758.3,722.1 L759,721.4 L759.7,721 L760.4,721.2 L761.1,721.3 L761.8,721.5 L762.5,722.7 L763.2,724.6 L763.9,726.6 L764.6,728.9 L765.3,731.6 L766,734.6 L766.7,737.3 L767.4,738.9 L768.1,740.7 L768.8,743.4 L769.5,746 L770.2,748.2 L770.9,750.9 L771.6,754.5 L772.3,757.7 L773,760.3 L773.7,763.1 L774.4,766.4 L775.1,770.3 L775.8,773.8 L776.5,776.6 L777.2,779.9 L777.9,783.1 L778.6,785.4 L779.3,787.8 L780,790.8 L780.7,794.4 L781.4,797 L782.1,798.3 L782.8,800 L783.5,802.5 L784.2,803.9 L784.9,802.8 L785.6,802.2 L786.3,801.8 L787,801.1 L787.7,800.1 L788.4,798 L789.1,795.6 L789.8,794 L790.5,793.6 L791.2,793.2 L791.9,792 L792.6,790.8 L793.3,789.6 L794,788.3 L794.7,787.1 L795.4,786.4 L796.1,786.6 L796.8,786.9 L797.5,786.8 L798.2,786.2 L798.9,785.9 L799.6,785.7 L800.3,785.3 L801,784.5 L801.7,783.8 L802.4,783.5 L803.1,782.6 L803.8,781.6 L804.5,780.6 L805.2,779 L805.9,777.4 L806.6,776.2 L807.3,774.7 L808,773.3 L808.7,772.4 L809.4,772.3 L810.1,772.3 L810.8,772 L811.5,772.4 L812.2,773.2 L812.9,772.7 L813.6,771.7 L814.3,770.6 L815,769.6 L815.7,768.6 L816.4,767.8 L817.1,767.4 L817.8,767.7 L818.5,768 L819.2,768.2 L819.9,768.4 L820.6,768.5 L821.3,768.6 L822,768.4 L822.7,767.7 L823.4,767 L824.1,766.4 L824.8,766.2 L825.5,765.8 L826.2,765.4 L826.9,764.9 L827.6,764.2 L828.3,763.1 L829,761.6 L829.7,760.5 L830.4,760.4 L831.1,760.3 L831.8,759.5 L832.5,758.8 L833.2,759.4 L833.9,760.5 L834.6,761.1 L835.3,760.9 L836,760.8 L836.7,761.8 L837.4,763.2 L838.1,764.1 L838.8,764.6 L839.5,765 L840.2,764.8 L840.9,764 L841.6,763 L842.3,761.6 L843,759.8 L843.7,758.2 L844.4,756.7 L845.1,754.8 L845.8,753 L846.5,752.3 L847.2,752.2 L847.9,752.1 L848.6,752.2 L849.3,752.6 L850,752.3 L850.7,751.2 L851.4,751.1 L852.1,752.3 L852.8,753.5 L853.5,753.4 L854.2,752.5 L854.9,751.1 L855.6,749.6 L856.3,749 L857,749 L857.7,748.1 L858.4,746.7 L859.1,745.7 L859.8,745.3 L860.5,745.3 L861.2,745.1 L861.9,744.5 L862.6,744.4 L863.3,744.1 L864,743.5 L864.7,743.1 L865.4,742.6 L866.1,742.3 L866.8,742.1 L867.5,741.2 L868.2,740 L868.9,739 L869.6,738.6 L870.3,738.4 L871,738.6 L871.7,738.4 L872.4,737.6 L873.1,737.1 L873.8,737 L874.5,737.1 L875.2,737.3 L875.9,737.7 L876.6,738.3 L877.3,738.5 L878,738.8 L878.7,740 L879.4,741.4 L880.1,742.6 L880.8,743.4 L881.5,744.1 L882.2,743.8 L882.9,742.9 L883.6,742.2 L884.3,741.6 L885,740.8 L885.7,739.3 L886.4,738.5 L887.1,738.4 L887.8,737.5 L888.5,736 L889.2,735.1 L889.9,734.4 L890.6,734.2 L891.3,734.4 L892,734.2 L892.7,733.8 L893.4,733.8 L894.1,734.1 L894.8,734 L895.5,733.6 L896.2,733.7 L896.9,734.4 L897.6,734.7 L898.3,735 L899,736.1 L899.7,737.5 L900.4,738.6 L901.1,739.2 L901.8,739.6 L902.5,740.1 L903.2,740.6 L903.9,740.8 L904.6,741.1 L905.3,741.6 L906,742.1 L906.7,742.9 L907.4,743 L908.1,742.6 L908.8,742.1 L909.5,741.8 L910.2,741.2 L910.9,740 L911.6,739 L912.3,738.2 L913,737.2 L913.7,736.3 L914.4,735.9 L915.1,735.6 L915.8,734.9 L916.5,734.2 L917.2,733.4 L917.9,732.1 L918.6,730.4 L919.3,728.8 L920,728.5 L920.7,729.1 L921.4,729.1 L922.1,729.1 L922.8,730 L923.5,730.7 L924.2,730.5 L924.9,729.9 L925.6,729.6 L926.3,729.8 L927,730.1 L927.7,729.8 L928.4,729.2 L929.1,729.1 L929.8,729.8 L930.5,730.8 L931.2,731.9 L931.9,733.1 L932.6,734.1 L933.3,734.9 L934,735.3 L934.7,735.5 L935.4,736 L936.1,736.5 L936.8,736.7 L937.5,735.7 L938.2,734.3 L938.9,733.8 L939.6,733.7 L940.3,733.3 L941,733.3 L941.7,733.5 L942.4,733.7 L943.1,734.2 L943.8,734.8 L944.5,734.6 L945.2,734.3 L945.9,734.6 L946.6,734.5 L947.3,734.6 L948,734.8 L948.7,734.4 L949.4,733.3 L950.1,732.8 L950.8,732.9 L951.5,733.1 L952.2,733.4 L952.9,733.2 L953.6,732.8 L954.3,733.2 L955,734.2 L955.7,735.1 L956.4,735.7 L957.1,735.6 L957.8,735.8 L958.5,736.5 L959.2,737.2 L959.9,737.1 L960.6,736 L961.3,735.1 L962,735.2 L962.7,734.9 L963.4,733.6 L964.1,732.1 L964.8,731.2 L965.5,731.6 L966.2,732.1 L966.9,731.5 L967.6,730.8 L968.3,730.8 L969,731.4 L969.7,731.6 L970.4,731.9 L971.1,732.4 L971.8,732.3 L972.5,732.1 L973.2,732.1 L973.9,732.3 L974.6,732.8 L975.3,732.7 L976,732.1 L976.7,731.5 L977.4,730.9 L978.1,730.6 L978.8,730.3 L979.5,729.6 L980.2,729.6 L980.9,729.9 L981.6,729.6 L982.3,729.1 L983,728.5" stroke="#3f7cc4" stroke-width="1.2" fill="none" stroke-linejoin="round" />
<path d="M689.7,721.7 L690.4,721.2 L691.1,721.4 L691.8,721 L692.5,721.3 L693.2,722.9 L693.9,723.9 L694.6,723.5 L695.3,722.9 L696,723.7 L696.7,725.2 L697.4,725.9 L698.1,725.4 L698.8,724.7 L699.5,724.5 L700.2,724.7 L700.9,724.9 L701.6,724.7 L702.3,723.5 L703,721.5 L703.7,719.5 L704.4,717.8 L705.1,717.3 L705.8,717.9 L706.5,719 L707.2,720.2 L707.9,721.4 L708.6,722 L709.3,722 L710,722.3 L710.7,723.2 L711.4,724.7 L712.1,725.8 L712.8,725.4 L713.5,724.6 L714.2,724.3 L714.9,724.7 L715.6,725.3 L716.3,725.7 L717,725.8 L717.7,726.5 L718.4,728 L719.1,728.8 L719.8,728.3 L720.5,727 L721.2,726.4 L721.9,726.9 L722.6,727.3 L723.3,727 L724,726.9 L724.7,727.4 L725.4,727.5 L726.1,727.4 L726.8,728.2 L727.5,729.5 L728.2,730.7 L728.9,731.8 L729.6,732.5 L730.3,733.3 L731,733.8 L731.7,734.3 L732.4,734.8 L733.1,733.8 L733.8,732.1 L734.5,731.5 L735.2,731 L735.9,729.2 L736.6,727.9 L737.3,728.1 L738,728.9 L738.7,728.9 L739.4,727.7 L740.1,727 L740.8,727.5 L741.5,728 L742.2,727.5 L742.9,727.5 L743.6,727.8 L744.3,727.9 L745,728.3 L745.7,729.3 L746.4,730 L747.1,730.2 L747.8,730.1 L748.5,729.8 L749.2,729.8 L749.9,730.1 L750.6,729.8 L751.3,729.3 L752,728.3 L752.7,727.3 L753.4,726.6 L754.1,725.2 L754.8,723.4 L755.5,722.3 L756.2,722.6 L756.9,722.6 L757.6,721.1 L758.3,719.6 L759,719.3 L759.7,719.8 L760.4,720.9 L761.1,721.6 L761.8,721.8 L762.5,722.8 L763.2,724.5 L763.9,725.7 L764.6,726.5 L765.3,727.3 L766,728.2 L766.7,729.9 L767.4,730.5 L768.1,731 L768.8,732.4 L769.5,733.2 L770.2,733.5 L770.9,734.5 L771.6,736.1 L772.3,738 L773,740.5 L773.7,743.1 L774.4,745.2 L775.1,746.9 L775.8,748.8 L776.5,750.3 L777.2,751.6 L777.9,753.2 L778.6,754.4 L779.3,755.1 L780,756.4 L780.7,758.1 L781.4,760.5 L782.1,763.9 L782.8,766.6 L783.5,767.9 L784.2,770.2 L784.9,773.9 L785.6,777 L786.3,780.1 L787,783.5 L787.7,786.8 L788.4,790.1 L789.1,793.3 L789.8,795.7 L790.5,795.3 L791.2,794.8 L791.9,795.1 L792.6,795.4 L793.3,795.3 L794,794.9 L794.7,794 L795.4,792.6 L796.1,791.5 L796.8,791 L797.5,791.1 L798.2,790.9 L798.9,790 L799.6,789.3 L800.3,788.6 L801,786.9 L801.7,784.8 L802.4,784 L803.1,783.4 L803.8,781.6 L804.5,779.4 L805.2,777.9 L805.9,776.8 L806.6,775.7 L807.3,775.3 L808,775.2 L808.7,774.2 L809.4,772.6 L810.1,770.9 L810.8,769.4 L811.5,769 L812.2,768.7 L812.9,768.1 L813.6,767.7 L814.3,768.3 L815,768.8 L815.7,768.4 L816.4,768 L817.1,768 L817.8,768.3 L818.5,768.6 L819.2,769.2 L819.9,769.3 L820.6,768.9 L821.3,769.1 L822,769.1 L822.7,768.7 L823.4,768.5 L824.1,768.1 L824.8,767.8 L825.5,767.4 L826.2,766.9 L826.9,766.3 L827.6,765.4 L828.3,764.5 L829,763.2 L829.7,761.4 L830.4,759.9 L831.1,759.1 L831.8,758.9 L832.5,758.6 L833.2,758.3 L833.9,758.8 L834.6,759.1 L835.3,758.8 L836,759 L836.7,759.1 L837.4,758.1 L838.1,756.6 L838.8,755.6 L839.5,754.9 L840.2,754.2 L840.9,753.7 L841.6,753.1 L842.3,753.2 L843,754.4 L843.7,755.2 L844.4,754.7 L845.1,754 L845.8,753.7 L846.5,753.4 L847.2,753.1 L847.9,753.4 L848.6,753.3 L849.3,752.5 L850,751.4 L850.7,750.4 L851.4,749.6 L852.1,750 L852.8,750.9 L853.5,750.7 L854.2,750.2 L854.9,749.7 L855.6,749.2 L856.3,749.3 L857,750 L857.7,750.7 L858.4,751 L859.1,751 L859.8,751.2 L860.5,751.8 L861.2,752.9 L861.9,753.2 L862.6,752.2 L863.3,751.2 L864,751.4 L864.7,751.7 L865.4,751.4 L866.1,751.1 L866.8,750.8 L867.5,750.2 L868.2,749.4 L868.9,748.9 L869.6,748.3 L870.3,746.9 L871,745.7 L871.7,745.4 L872.4,745.4 L873.1,745.6 L873.8,745 L874.5,744 L875.2,743.6 L875.9,744 L876.6,744 L877.3,743.9 L878,743.7 L878.7,743.2 L879.4,742.4 L880.1,742.3 L880.8,742.4 L881.5,742.3 L882.2,742.3 L882.9,741.9 L883.6,741.4 L884.3,741.4 L885,741.8 L885.7,742.4 L886.4,742.7 L887.1,743.4 L887.8,744.3 L888.5,745.4 L889.2,745.8 L889.9,745.7 L890.6,745.6 L891.3,745.6 L892,745.3 L892.7,745.1 L893.4,744.6 L894.1,743.4 L894.8,742.8 L895.5,743.4 L896.2,744.2 L896.9,744.1 L897.6,742.8 L898.3,741 L899,739.6 L899.7,739.1 L900.4,738.5 L901.1,737.5 L901.8,736.6 L902.5,735.8 L903.2,734.8 L903.9,734.5 L904.6,734.3 L905.3,733.7 L906,732.7 L906.7,731.1 L907.4,729.7 L908.1,729.2 L908.8,728.7 L909.5,728.2 L910.2,728.3 L910.9,728.8 L911.6,729 L912.3,729 L913,729 L913.7,728.7 L914.4,728.4 L915.1,728.3 L915.8,729.2 L916.5,730 L917.2,729.6 L917.9,729.7 L918.6,731.8 L919.3,734.2 L920,735.4 L920.7,736.2 L921.4,737.1 L922.1,738.3 L922.8,739.6 L923.5,740.5 L924.2,740.7 L924.9,741.2 L925.6,741.9 L926.3,742.1 L927,742.2 L927.7,742.1 L928.4,741.8 L929.1,741.7 L929.8,741.3 L930.5,740.8 L931.2,740.3 L931.9,739.9 L932.6,740 L933.3,740.2 L934,739.6 L934.7,738.2 L935.4,736.5 L936.1,735.4 L936.8,734.9 L937.5,734.1 L938.2,732.7 L938.9,731.1 L939.6,730.8 L940.3,731.2 L941,731.4 L941.7,732.8 L942.4,734.5 L943.1,734.8 L943.8,734.3 L944.5,733.9 L945.2,733.9 L945.9,733.9 L946.6,733.7 L947.3,733.9 L948,734.3 L948.7,734.2 L949.4,734.5 L950.1,735.7 L950.8,735.9 L951.5,735.8 L952.2,737.1 L952.9,738.6 L953.6,738.7 L954.3,738.2 L955,738.1 L955.7,737.8 L956.4,737.8 L957.1,737.3 L957.8,735.7 L958.5,734.4 L959.2,734.1 L959.9,733.5 L960.6,732.4 L961.3,732 L962,732.2 L962.7,733 L963.4,733.3 L964.1,732.8 L964.8,732.5 L965.5,732.3 L966.2,732.3 L966.9,733.2 L967.6,734.5 L968.3,735.2 L969,734.9 L969.7,734.1 L970.4,733.7 L971.1,733.4 L971.8,732.2 L972.5,731.1 L973.2,731 L973.9,731 L974.6,730.4 L975.3,729.5 L976,729.3 L976.7,729.6 L977.4,730 L978.1,730 L978.8,730 L979.5,730.6 L980.2,731.3 L980.9,732.5 L981.6,734.4 L982.3,736.9 L983,739.4" stroke="#3f7cc4" stroke-width="1.2" fill="none" stroke-linejoin="round" />
<path d="M689.7,719.7 L690.4,720.3 L691.1,721.1 L691.8,721.4 L692.5,721.5 L693.2,721.4 L693.9,721.4 L694.6,721.6 L695.3,721.5 L696,721.1 L696.7,720.7 L697.4,720.4 L698.1,720.6 L698.8,720.5 L699.5,719.7 L700.2,718.9 L700.9,718.6 L701.6,719 L702.3,718.9 L703,718.1 L703.7,717.3 L704.4,716.4 L705.1,715.9 L705.8,715.6 L706.5,715.5 L707.2,715.9 L707.9,716.5 L708.6,717.3 L709.3,718.3 L710,719.8 L710.7,721.2 L711.4,722.6 L712.1,724.3 L712.8,725.8 L713.5,726.6 L714.2,727 L714.9,727.1 L715.6,727.4 L716.3,727.4 L717,727 L717.7,726.9 L718.4,726.9 L719.1,725.6 L719.8,724.3 L720.5,723.9 L721.2,723.9 L721.9,724 L722.6,724 L723.3,724.1 L724,724.8 L724.7,724.9 L725.4,724.6 L726.1,724.3 L726.8,724.4 L727.5,724.7 L728.2,724.8 L728.9,724.5 L729.6,724.5 L730.3,724.4 L731,724.1 L731.7,723.3 L732.4,722.5 L733.1,722.7 L733.8,723.2 L734.5,723 L735.2,722.2 L735.9,722.3 L736.6,723.7 L737.3,723.7 L738,722 L738.7,721 L739.4,720.3 L740.1,719.5 L740.8,718.6 L741.5,717.7 L742.2,717.3 L742.9,717.1 L743.6,716.8 L744.3,716.6 L745,716.9 L745.7,717 L746.4,717 L747.1,716.8 L747.8,716.6 L748.5,716.6 L749.2,716.6 L749.9,716.9 L750.6,717 L751.3,716.6 L752,716.8 L752.7,717.8 L753.4,719.1 L754.1,720.9 L754.8,721.9 L755.5,722.2 L756.2,722.6 L756.9,723.3 L757.6,723.4 L758.3,723.1 L759,722.9 L759.7,722.7 L760.4,722 L761.1,721.2 L761.8,720.6 L762.5,720.8 L763.2,722.1 L763.9,723.1 L764.6,725.1 L765.3,727.7 L766,729.3 L766.7,730.4 L767.4,732 L768.1,734.1 L768.8,736.1 L769.5,738.2 L770.2,740.5 L770.9,742.9 L771.6,745.9 L772.3,749.4 L773,752.3 L773.7,754.1 L774.4,755.4 L775.1,757.4 L775.8,760.4 L776.5,763.7 L777.2,766.9 L777.9,770.5 L778.6,774.7 L779.3,777 L780,776.5 L780.7,776.2 L781.4,776.6 L782.1,776.9 L782.8,776.5 L783.5,776.1 L784.2,775.7 L784.9,774.7 L785.6,773.5 L786.3,772.6 L787,771.6 L787.7,771 L788.4,770.8 L789.1,769.9 L789.8,768.5 L790.5,767.1 L791.2,765.3 L791.9,763.8 L792.6,762.9 L793.3,762.7 L794,763.1 L794.7,763 L795.4,762.5 L796.1,762.6 L796.8,762.5 L797.5,761.4 L798.2,760.8 L798.9,761.6 L799.6,762.2 L800.3,761.7 L801,760.9 L801.7,761.1 L802.4,761.7 L803.1,761.5 L803.8,760.9 L804.5,760 L805.2,759.4 L805.9,758.5 L806.6,757 L807.3,756 L808,755 L808.7,753.9 L809.4,752.7 L810.1,752.3 L810.8,752.5 L811.5,751.7 L812.2,750.4 L812.9,749.5 L813.6,749.4 L814.3,749.5 L815,749.1 L815.7,748.5 L816.4,748.2 L817.1,748.1 L817.8,747.9 L818.5,747.5 L819.2,746.6 L819.9,746.1 L820.6,745.4 L821.3,744.5 L822,744 L822.7,743.7 L823.4,743.6 L824.1,744.1 L824.8,745 L825.5,745.8 L826.2,745.8 L826.9,745.7 L827.6,745.8 L828.3,746.1 L829,746.3 L829.7,746.1 L830.4,745.2 L831.1,744.2 L831.8,743.3 L832.5,743.2 L833.2,744 L833.9,744.2 L834.6,743.7 L835.3,743.5 L836,743.4 L836.7,742.8 L837.4,742.9 L838.1,743.9 L838.8,744.9 L839.5,745.7 L840.2,745.8 L840.9,745.3 L841.6,744.2 L842.3,743.5 L843,743.6 L843.7,744.2 L844.4,745.2 L845.1,745.9 L845.8,745.8 L846.5,745.2 L847.2,744.5 L847.9,744.6 L848.6,744.7 L849.3,744.1 L850,743.2 L850.7,742.7 L851.4,743.3 L852.1,743.8 L852.8,743.2 L853.5,742.5 L854.2,742.7 L854.9,743.1 L855.6,742.5 L856.3,741.4 L857,741.4 L857.7,742.2 L858.4,742.1 L859.1,741.3 L859.8,740.6 L860.5,740.2 L861.2,739.8 L861.9,738.9 L862.6,738.2 L863.3,738.3 L864,738 L864.7,737.8 L865.4,737.8 L866.1,737.6 L866.8,737.2 L867.5,736.8 L868.2,736.6 L868.9,736.3 L869.6,736 L870.3,735 L871,733.4 L871.7,732.8 L872.4,733.6 L873.1,734.1 L873.8,733.1 L874.5,732.1 L875.2,731.8 L875.9,731.6 L876.6,731.9 L877.3,732.1 L878,731.7 L878.7,731.6 L879.4,731.7 L880.1,731.2 L880.8,730.2 L881.5,728.9 L882.2,728.5 L882.9,729 L883.6,729.3 L884.3,729.6 L885,729.7 L885.7,729.5 L886.4,729.8 L887.1,730.6 L887.8,731.3 L888.5,731.5 L889.2,732.1 L889.9,732.4 L890.6,732.5 L891.3,733 L892,733.7 L892.7,734.1 L893.4,734.1 L894.1,733.8 L894.8,733.1 L895.5,732.4 L896.2,731.9 L896.9,731.4 L897.6,730.3 L898.3,729.5 L899,729.7 L899.7,730 L900.4,729.3 L901.1,728.8 L901.8,728.5 L902.5,728.1 L903.2,728.1 L903.9,728.6 L904.6,728.6 L905.3,728.5 L906,729.3 L906.7,730.8 L907.4,732.3 L908.1,732.7 L908.8,733 L909.5,733.8 L910.2,734.6 L910.9,735 L911.6,735.2 L912.3,735.6 L913,735.4 L913.7,734.6 L914.4,734.3 L915.1,734 L915.8,733.8 L916.5,733.8 L917.2,733.6 L917.9,733.3 L918.6,732.8 L919.3,731.7 L920,730.4 L920.7,729.6 L921.4,729.5 L922.1,729.4 L922.8,728.8 L923.5,727.8 L924.2,726.9 L924.9,726.1 L925.6,725.4 L926.3,725.1 L927,725 L927.7,725.3 L928.4,726.2 L929.1,727.4 L929.8,728.7 L930.5,730.1 L931.2,731.4 L931.9,732.8 L932.6,733.9 L933.3,734.9 L934,735.6 L934.7,735.9 L935.4,736.5 L936.1,737.2 L936.8,737.3 L937.5,736.9 L938.2,736.6 L938.9,735.6 L939.6,734.4 L940.3,733.5 L941,732.4 L941.7,731.5 L942.4,730.5 L943.1,729.4 L943.8,728.6 L944.5,728.3 L945.2,728.7 L945.9,729.2 L946.6,729.6 L947.3,730.1 L948,730.7 L948.7,731.1 L949.4,731.3 L950.1,732 L950.8,732.4 L951.5,731.6 L952.2,731 L952.9,730.9 L953.6,730.3 L954.3,729.8 L955,729.1 L955.7,727.9 L956.4,727.2 L957.1,726.7 L957.8,725.3 L958.5,724.5 L959.2,724.7 L959.9,724.9 L960.6,725.2 L961.3,725.8 L962,726.3 L962.7,726.4 L963.4,725.4 L964.1,723.6 L964.8,722.2 L965.5,721.5 L966.2,721.5 L966.9,721.8 L967.6,721.6 L968.3,721.9 L969,722.7 L969.7,723.2 L970.4,723.4 L971.1,723.6 L971.8,724.2 L972.5,724.1 L973.2,723.4 L973.9,722.9 L974.6,722.6 L975.3,721.9 L976,721.3 L976.7,721.2 L977.4,721.2 L978.1,721.5 L978.8,720.9 L979.5,719.9 L980.2,719.7 L980.9,720.5 L981.6,721.8 L982.3,723.1 L983,724" stroke="#3f7cc4" stroke-width="1.2" fill="none" stroke-linejoin="round" />
<path d="M689.7,726.9 L690.4,726.6 L691.1,726.6 L691.8,727.6 L692.5,728 L693.2,727.7 L693.9,728.3 L694.6,729.7 L695.3,731.2 L696,731.3 L696.7,730 L697.4,728.5 L698.1,727.2 L698.8,726.2 L699.5,725.3 L700.2,724.5 L700.9,723.6 L701.6,722.3 L702.3,721.3 L703,721.1 L703.7,720.8 L704.4,720.5 L705.1,721.2 L705.8,722.5 L706.5,723.3 L707.2,723.9 L707.9,724.3 L708.6,725.1 L709.3,726.7 L710,728.4 L710.7,729.6 L711.4,730.4 L712.1,730.7 L712.8,730 L713.5,728.9 L714.2,727.9 L714.9,727.2 L715.6,726.5 L716.3,725.6 L717,725 L717.7,724.2 L718.4,723.7 L719.1,723.6 L719.8,724.1 L720.5,724.6 L721.2,724.1 L721.9,723 L722.6,722.1 L723.3,722.2 L724,722.5 L724.7,722.6 L725.4,721.5 L726.1,720.2 L726.8,719.7 L727.5,719.4 L728.2,719 L728.9,719.4 L729.6,720.2 L730.3,720.6 L731,720.5 L731.7,721.2 L732.4,722.7 L733.1,723.8 L733.8,724.7 L734.5,726 L735.2,727.6 L735.9,728.8 L736.6,729.4 L737.3,730.4 L738,732 L738.7,732.9 L739.4,733 L740.1,732.7 L740.8,732.3 L741.5,732.5 L742.2,733.3 L742.9,733.9 L743.6,734.3 L744.3,734.3 L745,734.2 L745.7,733.9 L746.4,734 L747.1,733.9 L747.8,733.7 L748.5,733.6 L749.2,733.1 L749.9,732.7 L750.6,733.1 L751.3,732.8 L752,731.3 L752.7,730.1 L753.4,729.8 L754.1,729.5 L754.8,728.9 L755.5,728 L756.2,726.9 L756.9,725.5 L757.6,724.6 L758.3,724.1 L759,723.4 L759.7,722.8 L760.4,723.1 L761.1,723.8 L761.8,724.6 L762.5,726.8 L763.2,729.9 L763.9,732.8 L764.6,735.2 L765.3,737.3 L766,738.8 L766.7,740.6 L767.4,743.4 L768.1,746.4 L768.8,749.1 L769.5,751.6 L770.2,754.2 L770.9,757.2 L771.6,760 L772.3,762.5 L773,765.1 L773.7,767.6 L774.4,769.9 L775.1,771.3 L775.8,770.3 L776.5,769.8 L777.2,768.8 L777.9,767.2 L778.6,766 L779.3,764.7 L780,763 L780.7,760.8 L781.4,758.6 L782.1,757.4 L782.8,756.9 L783.5,755.9 L784.2,754.6 L784.9,753.9 L785.6,754.8 L786.3,756.5 L787,757.8 L787.7,758.3 L788.4,757.3 L789.1,756.3 L789.8,756.9 L790.5,757.6 L791.2,757.2 L791.9,756.1 L792.6,755.4 L793.3,754.9 L794,754 L794.7,753.5 L795.4,753.2 L796.1,752.5 L796.8,752.2 L797.5,752.7 L798.2,753.2 L798.9,753.9 L799.6,754.3 L800.3,753.9 L801,753.3 L801.7,752 L802.4,750.1 L803.1,748.4 L803.8,747.3 L804.5,746.6 L805.2,746.2 L805.9,746 L806.6,745.1 L807.3,743.4 L808,742.6 L808.7,742.9 L809.4,743.5 L810.1,744.3 L810.8,744.5 L811.5,743.9 L812.2,743.4 L812.9,743.8 L813.6,744.6 L814.3,745.4 L815,746.4 L815.7,747 L816.4,746.4 L817.1,745.5 L817.8,745.1 L818.5,744.4 L819.2,743.6 L819.9,743.5 L820.6,743.9 L821.3,743.8 L822,743 L822.7,742.5 L823.4,742.4 L824.1,742.2 L824.8,742.2 L825.5,741.6 L826.2,740.9 L826.9,740.4 L827.6,739.7 L828.3,739.5 L829,739.7 L829.7,739.8 L830.4,739.6 L831.1,739.4 L831.8,739.9 L832.5,740.3 L833.2,740.3 L833.9,740.3 L834.6,740.1 L835.3,740 L836,740.7 L836.7,741.1 L837.4,741.6 L838.1,742.2 L838.8,742.3 L839.5,742.3 L840.2,742.3 L840.9,742.1 L841.6,741.3 L842.3,740.8 L843,741.1 L843.7,741 L844.4,740.2 L845.1,739.2 L845.8,738.2 L846.5,737.8 L847.2,737.6 L847.9,737.5 L848.6,737.8 L849.3,738.7 L850,739.9 L850.7,740.4 L851.4,740.6 L852.1,741.1 L852.8,741.6 L853.5,742 L854.2,742.3 L854.9,743 L855.6,743 L856.3,742.3 L857,741.5 L857.7,740.6 L858.4,739.8 L859.1,738.6 L859.8,736.2 L860.5,734 L861.2,733.4 L861.9,733.4 L862.6,733.4 L863.3,733.3 L864,732.8 L864.7,732.3 L865.4,732.7 L866.1,734.6 L866.8,736 L867.5,736.4 L868.2,736.7 L868.9,736.8 L869.6,737.3 L870.3,737.8 L871,737.7 L871.7,737.3 L872.4,737.9 L873.1,738.9 L873.8,739.2 L874.5,739 L875.2,738.4 L875.9,738.5 L876.6,739.1 L877.3,739.5 L878,739.4 L878.7,739.3 L879.4,739 L880.1,738.3 L880.8,737 L881.5,736.5 L882.2,736.8 L882.9,737.1 L883.6,737.4 L884.3,737.3 L885,737.5 L885.7,738.4 L886.4,738.9 L887.1,739.2 L887.8,739.8 L888.5,740.6 L889.2,740.8 L889.9,740 L890.6,739.3 L891.3,738.8 L892,738.5 L892.7,738.5 L893.4,738.5 L894.1,738.4 L894.8,738.3 L895.5,737.7 L896.2,736.9 L896.9,735.9 L897.6,734.9 L898.3,733.8 L899,732.5 L899.7,731.5 L900.4,730.7 L901.1,729.8 L901.8,728.6 L902.5,727.2 L903.2,725.9 L903.9,725.1 L904.6,724.9 L905.3,724.8 L906,725.1 L906.7,725.5 L907.4,726 L908.1,726.1 L908.8,726.1 L909.5,727.3 L910.2,729.1 L910.9,730.6 L911.6,731.6 L912.3,732.9 L913,734.4 L913.7,735.4 L914.4,735.8 L915.1,735.2 L915.8,734.9 L916.5,735.1 L917.2,734.7 L917.9,734.4 L918.6,735.5 L919.3,736.6 L920,736.6 L920.7,735.9 L921.4,735 L922.1,734.5 L922.8,734.2 L923.5,734.3 L924.2,734.5 L924.9,734.4 L925.6,733.8 L926.3,733.6 L927,733.7 L927.7,733.4 L928.4,733.1 L929.1,733.4 L929.8,733.8 L930.5,734.4 L931.2,734.2 L931.9,733.2 L932.6,732.7 L933.3,732.5 L934,732.1 L934.7,732.2 L935.4,733.8 L936.1,735.3 L936.8,735.7 L937.5,735.9 L938.2,737 L938.9,738.7 L939.6,739.3 L940.3,738.2 L941,737.2 L941.7,737.5 L942.4,737.4 L943.1,735.9 L943.8,734.8 L944.5,734.9 L945.2,735 L945.9,734.1 L946.6,733.1 L947.3,732.7 L948,732.2 L948.7,731.4 L949.4,731.1 L950.1,730.8 L950.8,730.1 L951.5,730.2 L952.2,731.4 L952.9,732 L953.6,732.2 L954.3,732.7 L955,733.3 L955.7,733.5 L956.4,734 L957.1,734.8 L957.8,734.6 L958.5,733.2 L959.2,731.5 L959.9,730.9 L960.6,731.3 L961.3,731 L962,730.3 L962.7,730.9 L963.4,732.1 L964.1,732.9 L964.8,732.6 L965.5,731.4 L966.2,730.1 L966.9,729.8 L967.6,730.4 L968.3,730.6 L969,730 L969.7,729 L970.4,728.2 L971.1,728.2 L971.8,728.9 L972.5,728.5 L973.2,727.4 L973.9,726.8 L974.6,726.8 L975.3,727.8 L976,728.2 L976.7,728.9 L977.4,731 L978.1,732.2 L978.8,732.6 L979.5,732.8 L980.2,733.6 L980.9,735.2 L981.6,736.6 L982.3,737.5 L983,737.8" stroke="#3f7cc4" stroke-width="1.2" fill="none" stroke-linejoin="round" />
<path d="M689.7,719 L690.4,720 L691.1,720.3 L691.8,720.6 L692.5,721.1 L693.2,720.9 L693.9,720.9 L694.6,722.2 L695.3,723.3 L696,722.9 L696.7,722.5 L697.4,723.2 L698.1,724.2 L698.8,723.8 L699.5,722.9 L700.2,722.5 L700.9,721.9 L701.6,721.4 L702.3,722 L703,722.9 L703.7,723.8 L704.4,725 L705.1,726 L705.8,726.5 L706.5,726.5 L707.2,726.1 L707.9,725.7 L708.6,726 L709.3,726.3 L710,725.9 L710.7,725.6 L711.4,725.1 L712.1,724.3 L712.8,723.6 L713.5,723.4 L714.2,722.5 L714.9,720.8 L715.6,720.9 L716.3,721.9 L717,722.1 L717.7,721.3 L718.4,720 L719.1,718.8 L719.8,718.8 L720.5,719.4 L721.2,719.1 L721.9,718.8 L722.6,719.2 L723.3,719.1 L724,718.7 L724.7,719 L725.4,719 L726.1,718.8 L726.8,718.4 L727.5,718.2 L728.2,718.8 L728.9,719.8 L729.6,719.9 L730.3,719.9 L731,720.4 L731.7,719.9 L732.4,718.7 L733.1,718.2 L733.8,718.1 L734.5,717.7 L735.2,717.2 L735.9,718.2 L736.6,719.5 L737.3,719.7 L738,719.3 L738.7,719.7 L739.4,720.9 L740.1,722.2 L740.8,723 L741.5,723.7 L742.2,724.3 L742.9,725.2 L743.6,726.2 L744.3,726.8 L745,726.9 L745.7,727.4 L746.4,729.2 L747.1,730.9 L747.8,731 L748.5,730.3 L749.2,730.7 L749.9,731.9 L750.6,732.4 L751.3,731.9 L752,731.4 L752.7,731.4 L753.4,730.6 L754.1,729.1 L754.8,728.1 L755.5,727.1 L756.2,725.5 L756.9,723.6 L757.6,721.9 L758.3,720.1 L759,718.3 L759.7,717.5 L760.4,717.8 L761.1,718.2 L761.8,718.3 L762.5,718.4 L763.2,718.5 L763.9,719.4 L764.6,720.9 L765.3,723.2 L766,725.4 L766.7,727.5 L767.4,729.7 L768.1,731.7 L768.8,734.1 L769.5,736.7 L770.2,737.9 L770.9,739.1 L771.6,741.5 L772.3,743.9 L773,745.4 L773.7,746.9 L774.4,748.4 L775.1,749.7 L775.8,751 L776.5,752.5 L777.2,753.4 L777.9,752.9 L778.6,752 L779.3,751.1 L780,750.2 L780.7,749.5 L781.4,749.7 L782.1,750.6 L782.8,750.5 L783.5,749.1 L784.2,747.6 L784.9,746.7 L785.6,745.7 L786.3,744.4 L787,744 L787.7,743.9 L788.4,743.2 L789.1,742.4 L789.8,742.1 L790.5,742.2 L791.2,742.4 L791.9,742.1 L792.6,741.5 L793.3,741.6 L794,742.5 L794.7,743.1 L795.4,742.2 L796.1,741 L796.8,741.1 L797.5,742.1 L798.2,742.6 L798.9,742.5 L799.6,742.2 L800.3,742 L801,742.2 L801.7,742.2 L802.4,741.7 L803.1,740.8 L803.8,739.7 L804.5,739.4 L805.2,739.3 L805.9,738.3 L806.6,737.5 L807.3,737.2 L808,737.3 L808.7,736.9 L809.4,736 L810.1,735.7 L810.8,735.6 L811.5,734.3 L812.2,732.9 L812.9,732.6 L813.6,733.1 L814.3,733.6 L815,733.7 L815.7,733.6 L816.4,733.7 L817.1,733.8 L817.8,733.3 L818.5,732.8 L819.2,732.9 L819.9,733 L820.6,732.3 L821.3,731.8 L822,732 L822.7,732.4 L823.4,733 L824.1,734 L824.8,735.2 L825.5,736.2 L826.2,737.1 L826.9,737.7 L827.6,737.5 L828.3,737 L829,737 L829.7,736.8 L830.4,736.4 L831.1,736.4 L831.8,736.1 L832.5,735.3 L833.2,734.7 L833.9,734.4 L834.6,733.5 L835.3,732.3 L836,731 L836.7,730.4 L837.4,730.4 L838.1,730.3 L838.8,730.1 L839.5,730.1 L840.2,730 L840.9,730 L841.6,729.8 L842.3,729 L843,728.5 L843.7,728.7 L844.4,728.8 L845.1,728.3 L845.8,728.2 L846.5,728.6 L847.2,729.5 L847.9,730.4 L848.6,730.2 L849.3,729.9 L850,730.1 L850.7,730 L851.4,729.1 L852.1,728 L852.8,727.9 L853.5,728.9 L854.2,729.5 L854.9,729.2 L855.6,728.3 L856.3,727.8 L857,728.2 L857.7,728.3 L858.4,727.9 L859.1,728.1 L859.8,728 L860.5,727.8 L861.2,728.4 L861.9,729.2 L862.6,729.7 L863.3,729.8 L864,729.6 L864.7,729.4 L865.4,729.6 L866.1,730 L866.8,730.4 L867.5,730.8 L868.2,731.5 L868.9,732.6 L869.6,733.3 L870.3,733.7 L871,735 L871.7,736.3 L872.4,736.7 L873.1,736.7 L873.8,736.4 L874.5,735.9 L875.2,735.9 L875.9,735.9 L876.6,735.6 L877.3,735.7 L878,736.2 L878.7,736.1 L879.4,736.6 L880.1,737.5 L880.8,737.5 L881.5,737.1 L882.2,737.1 L882.9,736.6 L883.6,735.9 L884.3,735.6 L885,735.4 L885.7,735.4 L886.4,735 L887.1,734.2 L887.8,733.1 L888.5,732.1 L889.2,731.3 L889.9,730.4 L890.6,730.3 L891.3,730.2 L892,729.7 L892.7,728.7 L893.4,727.3 L894.1,727.2 L894.8,727.6 L895.5,727.4 L896.2,727.6 L896.9,727.8 L897.6,727.9 L898.3,728.6 L899,729.5 L899.7,730.4 L900.4,732 L901.1,733.4 L901.8,733.6 L902.5,733.2 L903.2,732.7 L903.9,732.5 L904.6,732.4 L905.3,732.5 L906,733 L906.7,733.7 L907.4,733.8 L908.1,733.1 L908.8,733.1 L909.5,733.9 L910.2,734.2 L910.9,734 L911.6,734.6 L912.3,735 L913,733.8 L913.7,733 L914.4,733 L915.1,733.3 L915.8,734 L916.5,734.5 L917.2,734.8 L917.9,735.4 L918.6,735.7 L919.3,735.2 L920,734.6 L920.7,734.2 L921.4,734 L922.1,734.7 L922.8,735.3 L923.5,734.7 L924.2,733.7 L924.9,733.9 L925.6,734.2 L926.3,733.4 L927,731.8 L927.7,730.4 L928.4,730.2 L929.1,729.8 L929.8,729.1 L930.5,729 L931.2,729.1 L931.9,729.6 L932.6,729.6 L933.3,729.2 L934,728.5 L934.7,727.3 L935.4,726.6 L936.1,726.3 L936.8,725.4 L937.5,724.4 L938.2,723.8 L938.9,724.1 L939.6,724.7 L940.3,725.1 L941,724.9 L941.7,724.9 L942.4,725.5 L943.1,725.8 L943.8,725.8 L944.5,726.5 L945.2,727.6 L945.9,727.9 L946.6,727.8 L947.3,727.7 L948,727.7 L948.7,727.7 L949.4,727.9 L950.1,729.1 L950.8,731 L951.5,731.8 L952.2,731.2 L952.9,731.7 L953.6,733.3 L954.3,734.1 L955,733.6 L955.7,732.2 L956.4,731.8 L957.1,732.1 L957.8,732.7 L958.5,732.5 L959.2,732 L959.9,731.5 L960.6,730.9 L961.3,731 L962,731.2 L962.7,730.7 L963.4,730.4 L964.1,730.6 L964.8,730.4 L965.5,730.7 L966.2,731.1 L966.9,731 L967.6,730.5 L968.3,729.7 L969,728.9 L969.7,727.9 L970.4,726.1 L971.1,724.3 L971.8,723.9 L972.5,724.5 L973.2,724.7 L973.9,724.2 L974.6,723.9 L975.3,725.1 L976,726.4 L976.7,726.4 L977.4,726.5 L978.1,727.4 L978.8,728.3 L979.5,728.4 L980.2,728.1 L980.9,727.8 L981.6,728 L982.3,729.6 L983,731.5" stroke="#3f7cc4" stroke-width="1.2" fill="none" stroke-linejoin="round" />
<path d="M689.7,734.4 L690.4,734.1 L691.1,733.4 L691.8,733.6 L692.5,734.2 L693.2,733.7 L693.9,731.9 L694.6,730.1 L695.3,729 L696,728.1 L696.7,726.8 L697.4,725.5 L698.1,725.1 L698.8,724.5 L699.5,724.1 L700.2,724 L700.9,724 L701.6,723.2 L702.3,722 L703,722 L703.7,722.2 L704.4,721.8 L705.1,722 L705.8,723.1 L706.5,723.6 L707.2,723.9 L707.9,723.9 L708.6,723.6 L709.3,723.5 L710,723.6 L710.7,724.5 L711.4,725.8 L712.1,726.4 L712.8,725.9 L713.5,725.6 L714.2,725 L714.9,724.2 L715.6,724.2 L716.3,724.5 L717,723.7 L717.7,722.7 L718.4,721.9 L719.1,721.5 L719.8,721.1 L720.5,720.6 L721.2,720.3 L721.9,720.3 L722.6,720 L723.3,719.4 L724,719.3 L724.7,719.9 L725.4,720.2 L726.1,719.7 L726.8,719.9 L727.5,721 L728.2,721.6 L728.9,721.6 L729.6,721.5 L730.3,721.5 L731,721.6 L731.7,721.1 L732.4,720.6 L733.1,721.7 L733.8,723.6 L734.5,725.3 L735.2,726.4 L735.9,726.4 L736.6,725.5 L737.3,724.9 L738,725 L738.7,724.8 L739.4,724.2 L740.1,723.2 L740.8,722.6 L741.5,722.1 L742.2,720.8 L742.9,719.3 L743.6,718.1 L744.3,717.5 L745,717.4 L745.7,717.3 L746.4,717.2 L747.1,717.1 L747.8,717.4 L748.5,717.6 L749.2,717.2 L749.9,717.1 L750.6,717.5 L751.3,717.4 L752,717.5 L752.7,718.4 L753.4,718.8 L754.1,718.3 L754.8,718.5 L755.5,720.2 L756.2,721.7 L756.9,722.7 L757.6,723.7 L758.3,724.2 L759,724.3 L759.7,724.6 L760.4,724.9 L761.1,725.1 L761.8,725.4 L762.5,725 L763.2,724.9 L763.9,724.5 L764.6,723.5 L765.3,722.6 L766,722.1 L766.7,722.1 L767.4,721 L768.1,719.8 L768.8,719.3 L769.5,719.3 L770.2,720.2 L770.9,721.2 L771.6,722.3 L772.3,723.7 L773,724.9 L773.7,725.7 L774.4,726.6 L775.1,728 L775.8,729.2 L776.5,729.5 L777.2,730.3 L777.9,731.3 L778.6,731 L779.3,729.8 L780,728.8 L780.7,728.1 L781.4,727.5 L782.1,727.6 L782.8,726.8 L783.5,725.5 L784.2,724.4 L784.9,723.7 L785.6,723.7 L786.3,724.5 L787,725.1 L787.7,725.1 L788.4,724.7 L789.1,724.2 L789.8,724 L790.5,724 L791.2,723.9 L791.9,723 L792.6,722.1 L793.3,722.1 L794,723.3 L794.7,724.8 L795.4,726.1 L796.1,726.6 L796.8,726.7 L797.5,727.4 L798.2,728.6 L798.9,729.1 L799.6,728.6 L800.3,727.6 L801,726.7 L801.7,726 L802.4,725.4 L803.1,724.3 L803.8,723.5 L804.5,723.1 L805.2,722.6 L805.9,721.6 L806.6,721 L807.3,721 L808,720.9 L808.7,723.2 L809.4,726.1 L810.1,727.7 L810.8,728.9 L811.5,731.4 L812.2,734.7 L812.9,737.2 L813.6,739 L814.3,741.4 L815,744.6 L815.7,748.1 L816.4,749.2 L817.1,748.5 L817.8,748.9 L818.5,750.6 L819.2,752.2 L819.9,753 L820.6,753.7 L821.3,754.6 L822,756 L822.7,756.7 L823.4,757 L824.1,757.7 L824.8,758.5 L825.5,758.3 L826.2,757.1 L826.9,755.6 L827.6,754.5 L828.3,753.5 L829,752.3 L829.7,751 L830.4,749.6 L831.1,748.9 L831.8,748.2 L832.5,746.5 L833.2,745.1 L833.9,745.3 L834.6,745.4 L835.3,744.7 L836,743.5 L836.7,741.8 L837.4,740.7 L838.1,741.1 L838.8,741.5 L839.5,740.6 L840.2,740.2 L840.9,740.4 L841.6,740.2 L842.3,739.6 L843,738.6 L843.7,737.7 L844.4,736.4 L845.1,734.9 L845.8,733.8 L846.5,733 L847.2,732 L847.9,731.6 L848.6,731.5 L849.3,731.6 L850,731.9 L850.7,731.5 L851.4,731.3 L852.1,732.4 L852.8,733.3 L853.5,733.1 L854.2,733.1 L854.9,734.7 L855.6,736.2 L856.3,735.8 L857,735.3 L857.7,735.5 L858.4,735.6 L859.1,735.7 L859.8,736.4 L860.5,737 L861.2,736.1 L861.9,734.5 L862.6,734.2 L863.3,735 L864,735.2 L864.7,734.9 L865.4,734.8 L866.1,735.4 L866.8,735.7 L867.5,735.7 L868.2,735.5 L868.9,734.5 L869.6,733.8 L870.3,734.2 L871,734.4 L871.7,734 L872.4,734.2 L873.1,734.5 L873.8,734.1 L874.5,733.5 L875.2,732.7 L875.9,731.7 L876.6,731.4 L877.3,732 L878,732.4 L878.7,733 L879.4,733.4 L880.1,733.6 L880.8,734.3 L881.5,734.6 L882.2,735 L882.9,735.6 L883.6,735.8 L884.3,735.7 L885,735.5 L885.7,735 L886.4,735 L887.1,735 L887.8,734.9 L888.5,735.1 L889.2,734.8 L889.9,733.8 L890.6,732.5 L891.3,731.6 L892,731 L892.7,730.7 L893.4,731.2 L894.1,731.4 L894.8,731.1 L895.5,731.1 L896.2,731.6 L896.9,732.1 L897.6,732.2 L898.3,731.8 L899,731.5 L899.7,731.4 L900.4,731 L901.1,730.2 L901.8,729.7 L902.5,729.6 L903.2,729.2 L903.9,728.6 L904.6,728.2 L905.3,728.1 L906,727.8 L906.7,727.1 L907.4,726.5 L908.1,726.6 L908.8,727.1 L909.5,727.1 L910.2,726.7 L910.9,726.7 L911.6,727.1 L912.3,728.2 L913,728.9 L913.7,728.5 L914.4,727.4 L915.1,726.4 L915.8,726 L916.5,725.9 L917.2,726.3 L917.9,726.8 L918.6,726.9 L919.3,727.1 L920,727.7 L920.7,728.1 L921.4,727.8 L922.1,727.2 L922.8,727.2 L923.5,727.7 L924.2,727.1 L924.9,726 L925.6,725.3 L926.3,724.6 L927,723.7 L927.7,722.5 L928.4,721.8 L929.1,721.5 L929.8,721.7 L930.5,722.2 L931.2,722.7 L931.9,723.2 L932.6,723.6 L933.3,723.3 L934,723 L934.7,724 L935.4,725.7 L936.1,726.4 L936.8,726.1 L937.5,725.3 L938.2,725.6 L938.9,726.3 L939.6,726.5 L940.3,726.4 L941,726.5 L941.7,726.6 L942.4,726.6 L943.1,726.7 L943.8,726.5 L944.5,726.2 L945.2,725.7 L945.9,725.6 L946.6,725.6 L947.3,725.7 L948,726.5 L948.7,727.4 L949.4,727.4 L950.1,727.4 L950.8,728.2 L951.5,728.5 L952.2,728.4 L952.9,728.2 L953.6,728.4 L954.3,729 L955,729.2 L955.7,729.3 L956.4,729.5 L957.1,729.5 L957.8,728.6 L958.5,727.7 L959.2,727.3 L959.9,727.2 L960.6,727.1 L961.3,727 L962,726.8 L962.7,727.5 L963.4,728.2 L964.1,728 L964.8,727.6 L965.5,726.9 L966.2,727 L966.9,728.3 L967.6,729.8 L968.3,730.5 L969,731.2 L969.7,732.1 L970.4,732.4 L971.1,731.9 L971.8,731.4 L972.5,731 L973.2,730.4 L973.9,730.1 L974.6,729.4 L975.3,727.9 L976,727.1 L976.7,727.6 L977.4,728.3 L978.1,728.4 L978.8,728.1 L979.5,727.3 L980.2,726.7 L980.9,726.2 L981.6,726.2 L982.3,726.6 L983,727" stroke="#3f7cc4" stroke-width="1.2" fill="none" stroke-linejoin="round" />
<path d="M57.4,1629.2 L58.4,1629.5 L59.8,1630 L61.4,1630.4 L63,1630.8 L64.6,1631.1 L66.3,1631.4 L67.9,1631.6 L69.5,1631.6 L70.9,1631.3 L72.2,1630.7 L73.6,1630.1 L75,1629.5 L76.6,1629 L78.4,1628.5 L80.1,1628.1 L81.6,1628 L82.8,1628.4 L83.9,1629.1 L84.9,1629.9 L86,1630.5 L87.1,1630.8 L88.3,1630.9 L89.5,1630.9 L90.7,1631 L91.9,1631.1 L93.2,1631.2 L94.6,1631.4 L96,1631.5 L97.6,1631.7 L99.4,1632 L101.2,1632.2 L102.8,1632.2 L104.2,1631.8 L105.4,1631.2 L106.6,1630.5 L108,1630 L109.6,1629.7 L111.3,1629.6 L113.1,1629.4 L114.8,1629.2 L116.4,1628.8 L118,1628.2 L119.5,1627.7 L120.9,1627.4 L122.3,1627.5 L123.6,1627.7 L124.8,1628.1 L126,1628.5 L127,1628.9 L127.9,1629.4 L128.9,1629.9 L130,1630.5 L131.4,1631.1 L132.9,1631.8 L134.4,1632.6 L136,1633.5 L137.6,1634.5 L139.2,1635.6 L140.7,1636.9 L142.1,1638.8 L143.2,1640.9 L144.2,1643.3 L145.1,1646.5 L146.1,1650.9 L147.1,1656.6 L148.1,1663.5 L149.1,1671.4 L150.1,1680.4 L151,1691.1 L151.8,1703.3 L152.7,1715.8 L153.5,1727.5 L154.3,1738.2 L155.2,1748.4 L156,1758.3 L156.9,1767.7 L157.9,1777 L158.9,1786.1 L159.9,1794.4 L160.9,1801.3 L161.9,1806.9 L162.8,1811.5 L163.8,1814.6 L164.9,1816.1 L166.1,1815.5 L167.4,1813.2 L168.8,1809.6 L170.3,1805.4 L171.9,1800.4 L173.6,1794.3 L175.3,1787.8 L177,1781.2 L178.7,1774.5 L180.3,1767.6 L182,1760.7 L183.7,1754.3 L185.4,1748.4 L187,1742.9 L188.7,1737.7 L190.4,1732.8 L192.1,1728.4 L193.7,1724.5 L195.4,1720.7 L197.2,1716.7 L199.1,1712.4 L201,1708 L203.1,1703.5 L205.2,1699.2 L207.5,1695 L209.8,1690.8 L212.2,1686.8 L214.6,1683.1 L217,1679.7 L219.4,1676.5 L221.7,1673.6 L224,1671 L226.2,1668.8 L228.3,1667 L230.3,1665.5 L232.1,1664.3 L233.7,1663.5 L235.2,1663 L236.6,1662.6 L238,1662 L239.5,1661.1 L241.1,1659.9 L242.7,1658.8 L244.2,1657.6 L245.6,1656.5 L247,1655.3 L248.4,1654.2 L250,1653 L251.8,1651.8 L253.6,1650.5 L255.6,1649.3 L257.6,1648.2 L259.6,1647.4 L261.5,1646.7 L263.6,1646.1 L266,1645.5 L268.7,1644.7 L271.8,1643.9 L274.8,1643.2 L277.8,1642.8 L280.6,1642.8 L283.4,1643.1 L286.1,1643.5 L288.5,1643.5 L290.6,1643.1 L292.4,1642.4 L294.1,1641.7 L296,1641 L298.1,1640.5 L300.2,1640 L302.4,1639.5 L304.6,1638.8 L306.9,1637.8 L309.3,1636.5 L311.7,1635.4 L314,1634.8 L316.1,1635.1 L318.1,1636.1 L320.1,1637 L322.1,1637.5 L324.1,1637.2 L326.1,1636.4 L328,1635.5 L330,1634.8 L332,1634.5 L334.1,1634.3 L336.1,1634.2 L338,1634 L339.7,1633.6 L341.3,1633.1 L342.8,1632.6 L344.5,1632.2 L346.2,1632 L348,1631.8 L349.9,1631.7 L352,1631.5 L354.5,1631.1 L357.2,1630.6 L360,1630.2 L362.6,1630.1 L365,1630.5 L367.4,1631.1 L369.6,1631.8 L371.7,1632.2 L373.6,1632.1 L375.4,1631.7 L377.2,1631.3 L379,1631 L380.9,1630.9 L382.8,1631 L384.7,1631 L386.8,1631 L389,1630.9 L391.3,1630.7 L393.7,1630.6 L396,1630.5 L398.5,1630.6 L401.1,1630.7 L403.4,1630.9 L405,1631" stroke="#3d7cc3" stroke-width="4" fill="none" stroke-linejoin="round" />
<path d="M56.8,1867.3 L57.9,1867 L59.5,1866.7 L61.3,1866.3 L63,1866 L64.6,1865.8 L66.3,1865.7 L67.9,1865.7 L69.5,1865.8 L70.9,1866.1 L72.2,1866.6 L73.6,1867.1 L75,1867.5 L76.6,1867.9 L78.3,1868.3 L80,1868.6 L81.6,1868.8 L83,1868.7 L84.3,1868.4 L85.6,1868.1 L87,1867.8 L88.6,1867.6 L90.3,1867.4 L92,1867.2 L93.7,1867.3 L95.3,1867.7 L96.9,1868.3 L98.5,1869 L100,1869.5 L101.5,1869.8 L103,1870.1 L104.4,1870.2 L105.8,1870.3 L107.1,1870.2 L108.3,1869.9 L109.6,1869.7 L111,1869.5 L112.7,1869.5 L114.6,1869.6 L116.5,1869.7 L117.9,1869.7 L118.7,1869.5 L119,1869.3 L119.3,1869.1 L120,1869.1 L121.2,1869.4 L122.8,1870 L124.4,1870.7 L126,1871.5 L127.5,1872.3 L128.9,1873.2 L130.4,1874.5 L132.1,1876.2 L134,1878.5 L136.1,1881.2 L138.2,1884.4 L140.1,1888.3 L141.8,1892.9 L143.5,1898.2 L144.9,1904.1 L146.2,1910.4 L147.2,1917.2 L147.9,1924.4 L148.5,1932.2 L149.2,1940.7 L149.9,1949.9 L150.6,1959.8 L151.4,1970.3 L152.2,1981 L153.1,1992.7 L154.1,2005.2 L155.1,2017.1 L156.3,2027.3 L157.7,2035.7 L159.2,2042.8 L160.7,2048.2 L162.3,2051.5 L163.8,2052 L165.4,2050.2 L166.9,2047 L168.4,2043.4 L169.9,2039.4 L171.3,2034.6 L172.8,2029.2 L174.4,2023.3 L176.3,2016.6 L178.3,2009.2 L180.4,2001.8 L182.5,1995.1 L184.5,1989.5 L186.4,1984.5 L188.4,1979.8 L190.5,1974.9 L192.8,1970 L195.2,1965.1 L197.7,1960.1 L200.6,1954.8 L204.1,1948.5 L208.1,1941.5 L211.8,1935.2 L214.7,1930.6 L216.2,1928.8 L216.8,1928.8 L217.2,1929.4 L218,1929 L219.3,1927.3 L220.8,1925.2 L222.6,1922.8 L224.8,1920.5 L227.4,1918.5 L230.4,1916.5 L233.6,1914.6 L236.9,1912.5 L240.4,1910.2 L244.2,1907.8 L247.9,1905.4 L251,1903.4 L253.3,1901.8 L255.1,1900.5 L256.9,1899.4 L259,1898.4 L261.7,1897.6 L264.7,1896.9 L267.8,1896.2 L271.1,1895.3 L274.5,1893.8 L278.2,1892 L281.8,1890.3 L285.2,1889.3 L288.3,1889.3 L291.2,1890 L294.2,1890.9 L297.3,1891.3 L300.8,1891.1 L304.6,1890.6 L308.2,1890 L311.4,1889.3 L313.8,1888.6 L315.6,1887.7 L317.3,1886.9 L319.5,1886.3 L322.3,1886 L325.4,1886 L328.6,1885.9 L331.6,1885.3 L334.3,1883.9 L336.9,1882.1 L339.3,1880.3 L341.6,1879.2 L343.6,1879.2 L345.4,1880 L347.3,1880.9 L349.7,1881.2 L352.8,1880.7 L356.5,1879.6 L360.3,1878.6 L363.8,1878.2 L366.9,1878.7 L369.9,1879.9 L372.8,1880.9 L375.9,1881.2 L379.5,1880.2 L383.3,1878.4 L387,1876.5 L390,1875.2 L391.9,1874.8 L393.1,1874.9 L394.3,1875.2 L396,1875.5 L398.9,1875.7 L402.4,1875.9 L405.8,1876.1 L408.1,1876.2" stroke="#507f48" stroke-width="4" fill="none" stroke-linejoin="round" />
</svg></body></html>
